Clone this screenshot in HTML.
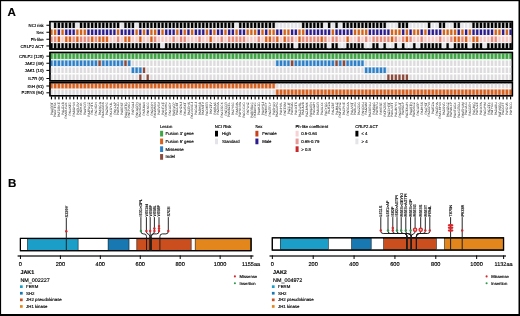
<!DOCTYPE html>
<html><head><meta charset="utf-8"><title>Figure</title>
<style>
html,body{margin:0;padding:0;background:#fff;}
body{width:520px;height:316px;overflow:hidden;position:relative;font-family:"Liberation Sans",sans-serif;}
svg{position:absolute;left:0;top:0;display:block;will-change:transform;}
svg text{text-rendering:geometricPrecision;font-family:"Liberation Sans",sans-serif;fill:#000;stroke:#000;stroke-width:0.15px;}
svg text.smp{stroke:none;fill:#111;}
</style></head>
<body>
<svg width="520" height="316" viewBox="0 0 520 316">
<rect x="0" y="0" width="520" height="316" fill="#fff"/>
<rect x="50.0" y="21.6" width="462.4" height="27.5" fill="#fff" stroke="#000" stroke-width="1.4"/>
<rect x="50.0" y="52.5" width="462.4" height="28.299999999999997" fill="#fff" stroke="#000" stroke-width="1.4"/>
<rect x="50.0" y="82.6" width="462.4" height="13.100000000000009" fill="#fff" stroke="#000" stroke-width="1.4"/>
<rect x="50.90" y="96.5" width="1.15" height="2.9" fill="#000"/>
<rect x="54.60" y="96.5" width="1.15" height="2.9" fill="#000"/>
<rect x="58.31" y="96.5" width="1.15" height="2.9" fill="#000"/>
<rect x="62.01" y="96.5" width="1.15" height="2.9" fill="#000"/>
<rect x="65.71" y="96.5" width="1.15" height="2.9" fill="#000"/>
<rect x="69.41" y="96.5" width="1.15" height="2.9" fill="#000"/>
<rect x="73.12" y="96.5" width="1.15" height="2.9" fill="#000"/>
<rect x="76.82" y="96.5" width="1.15" height="2.9" fill="#000"/>
<rect x="80.52" y="96.5" width="1.15" height="2.9" fill="#000"/>
<rect x="84.22" y="96.5" width="1.15" height="2.9" fill="#000"/>
<rect x="87.92" y="96.5" width="1.15" height="2.9" fill="#000"/>
<rect x="91.63" y="96.5" width="1.15" height="2.9" fill="#000"/>
<rect x="95.33" y="96.5" width="1.15" height="2.9" fill="#000"/>
<rect x="99.03" y="96.5" width="1.15" height="2.9" fill="#000"/>
<rect x="102.73" y="96.5" width="1.15" height="2.9" fill="#000"/>
<rect x="106.44" y="96.5" width="1.15" height="2.9" fill="#000"/>
<rect x="110.14" y="96.5" width="1.15" height="2.9" fill="#000"/>
<rect x="113.84" y="96.5" width="1.15" height="2.9" fill="#000"/>
<rect x="117.55" y="96.5" width="1.15" height="2.9" fill="#000"/>
<rect x="121.25" y="96.5" width="1.15" height="2.9" fill="#000"/>
<rect x="124.95" y="96.5" width="1.15" height="2.9" fill="#000"/>
<rect x="128.65" y="96.5" width="1.15" height="2.9" fill="#000"/>
<rect x="132.35" y="96.5" width="1.15" height="2.9" fill="#000"/>
<rect x="136.06" y="96.5" width="1.15" height="2.9" fill="#000"/>
<rect x="139.76" y="96.5" width="1.15" height="2.9" fill="#000"/>
<rect x="143.46" y="96.5" width="1.15" height="2.9" fill="#000"/>
<rect x="147.16" y="96.5" width="1.15" height="2.9" fill="#000"/>
<rect x="150.87" y="96.5" width="1.15" height="2.9" fill="#000"/>
<rect x="154.57" y="96.5" width="1.15" height="2.9" fill="#000"/>
<rect x="158.27" y="96.5" width="1.15" height="2.9" fill="#000"/>
<rect x="161.97" y="96.5" width="1.15" height="2.9" fill="#000"/>
<rect x="165.68" y="96.5" width="1.15" height="2.9" fill="#000"/>
<rect x="169.38" y="96.5" width="1.15" height="2.9" fill="#000"/>
<rect x="173.08" y="96.5" width="1.15" height="2.9" fill="#000"/>
<rect x="176.78" y="96.5" width="1.15" height="2.9" fill="#000"/>
<rect x="180.49" y="96.5" width="1.15" height="2.9" fill="#000"/>
<rect x="184.19" y="96.5" width="1.15" height="2.9" fill="#000"/>
<rect x="187.89" y="96.5" width="1.15" height="2.9" fill="#000"/>
<rect x="191.59" y="96.5" width="1.15" height="2.9" fill="#000"/>
<rect x="195.30" y="96.5" width="1.15" height="2.9" fill="#000"/>
<rect x="199.00" y="96.5" width="1.15" height="2.9" fill="#000"/>
<rect x="202.70" y="96.5" width="1.15" height="2.9" fill="#000"/>
<rect x="206.40" y="96.5" width="1.15" height="2.9" fill="#000"/>
<rect x="210.11" y="96.5" width="1.15" height="2.9" fill="#000"/>
<rect x="213.81" y="96.5" width="1.15" height="2.9" fill="#000"/>
<rect x="217.51" y="96.5" width="1.15" height="2.9" fill="#000"/>
<rect x="221.21" y="96.5" width="1.15" height="2.9" fill="#000"/>
<rect x="224.92" y="96.5" width="1.15" height="2.9" fill="#000"/>
<rect x="228.62" y="96.5" width="1.15" height="2.9" fill="#000"/>
<rect x="232.32" y="96.5" width="1.15" height="2.9" fill="#000"/>
<rect x="236.02" y="96.5" width="1.15" height="2.9" fill="#000"/>
<rect x="239.73" y="96.5" width="1.15" height="2.9" fill="#000"/>
<rect x="243.43" y="96.5" width="1.15" height="2.9" fill="#000"/>
<rect x="247.13" y="96.5" width="1.15" height="2.9" fill="#000"/>
<rect x="250.83" y="96.5" width="1.15" height="2.9" fill="#000"/>
<rect x="254.54" y="96.5" width="1.15" height="2.9" fill="#000"/>
<rect x="258.24" y="96.5" width="1.15" height="2.9" fill="#000"/>
<rect x="261.94" y="96.5" width="1.15" height="2.9" fill="#000"/>
<rect x="265.64" y="96.5" width="1.15" height="2.9" fill="#000"/>
<rect x="269.35" y="96.5" width="1.15" height="2.9" fill="#000"/>
<rect x="273.05" y="96.5" width="1.15" height="2.9" fill="#000"/>
<rect x="276.75" y="96.5" width="1.15" height="2.9" fill="#000"/>
<rect x="280.45" y="96.5" width="1.15" height="2.9" fill="#000"/>
<rect x="284.16" y="96.5" width="1.15" height="2.9" fill="#000"/>
<rect x="287.86" y="96.5" width="1.15" height="2.9" fill="#000"/>
<rect x="291.56" y="96.5" width="1.15" height="2.9" fill="#000"/>
<rect x="295.26" y="96.5" width="1.15" height="2.9" fill="#000"/>
<rect x="298.97" y="96.5" width="1.15" height="2.9" fill="#000"/>
<rect x="302.67" y="96.5" width="1.15" height="2.9" fill="#000"/>
<rect x="306.37" y="96.5" width="1.15" height="2.9" fill="#000"/>
<rect x="310.07" y="96.5" width="1.15" height="2.9" fill="#000"/>
<rect x="313.78" y="96.5" width="1.15" height="2.9" fill="#000"/>
<rect x="317.48" y="96.5" width="1.15" height="2.9" fill="#000"/>
<rect x="321.18" y="96.5" width="1.15" height="2.9" fill="#000"/>
<rect x="324.88" y="96.5" width="1.15" height="2.9" fill="#000"/>
<rect x="328.59" y="96.5" width="1.15" height="2.9" fill="#000"/>
<rect x="332.29" y="96.5" width="1.15" height="2.9" fill="#000"/>
<rect x="335.99" y="96.5" width="1.15" height="2.9" fill="#000"/>
<rect x="339.69" y="96.5" width="1.15" height="2.9" fill="#000"/>
<rect x="343.40" y="96.5" width="1.15" height="2.9" fill="#000"/>
<rect x="347.10" y="96.5" width="1.15" height="2.9" fill="#000"/>
<rect x="350.80" y="96.5" width="1.15" height="2.9" fill="#000"/>
<rect x="354.50" y="96.5" width="1.15" height="2.9" fill="#000"/>
<rect x="358.21" y="96.5" width="1.15" height="2.9" fill="#000"/>
<rect x="361.91" y="96.5" width="1.15" height="2.9" fill="#000"/>
<rect x="365.61" y="96.5" width="1.15" height="2.9" fill="#000"/>
<rect x="369.31" y="96.5" width="1.15" height="2.9" fill="#000"/>
<rect x="373.02" y="96.5" width="1.15" height="2.9" fill="#000"/>
<rect x="376.72" y="96.5" width="1.15" height="2.9" fill="#000"/>
<rect x="380.42" y="96.5" width="1.15" height="2.9" fill="#000"/>
<rect x="384.12" y="96.5" width="1.15" height="2.9" fill="#000"/>
<rect x="387.83" y="96.5" width="1.15" height="2.9" fill="#000"/>
<rect x="391.53" y="96.5" width="1.15" height="2.9" fill="#000"/>
<rect x="395.23" y="96.5" width="1.15" height="2.9" fill="#000"/>
<rect x="398.94" y="96.5" width="1.15" height="2.9" fill="#000"/>
<rect x="402.64" y="96.5" width="1.15" height="2.9" fill="#000"/>
<rect x="406.34" y="96.5" width="1.15" height="2.9" fill="#000"/>
<rect x="410.04" y="96.5" width="1.15" height="2.9" fill="#000"/>
<rect x="413.75" y="96.5" width="1.15" height="2.9" fill="#000"/>
<rect x="417.45" y="96.5" width="1.15" height="2.9" fill="#000"/>
<rect x="421.15" y="96.5" width="1.15" height="2.9" fill="#000"/>
<rect x="424.85" y="96.5" width="1.15" height="2.9" fill="#000"/>
<rect x="428.56" y="96.5" width="1.15" height="2.9" fill="#000"/>
<rect x="432.26" y="96.5" width="1.15" height="2.9" fill="#000"/>
<rect x="435.96" y="96.5" width="1.15" height="2.9" fill="#000"/>
<rect x="439.66" y="96.5" width="1.15" height="2.9" fill="#000"/>
<rect x="443.37" y="96.5" width="1.15" height="2.9" fill="#000"/>
<rect x="447.07" y="96.5" width="1.15" height="2.9" fill="#000"/>
<rect x="450.77" y="96.5" width="1.15" height="2.9" fill="#000"/>
<rect x="454.47" y="96.5" width="1.15" height="2.9" fill="#000"/>
<rect x="458.18" y="96.5" width="1.15" height="2.9" fill="#000"/>
<rect x="461.88" y="96.5" width="1.15" height="2.9" fill="#000"/>
<rect x="465.58" y="96.5" width="1.15" height="2.9" fill="#000"/>
<rect x="469.28" y="96.5" width="1.15" height="2.9" fill="#000"/>
<rect x="472.99" y="96.5" width="1.15" height="2.9" fill="#000"/>
<rect x="476.69" y="96.5" width="1.15" height="2.9" fill="#000"/>
<rect x="480.39" y="96.5" width="1.15" height="2.9" fill="#000"/>
<rect x="484.09" y="96.5" width="1.15" height="2.9" fill="#000"/>
<rect x="487.80" y="96.5" width="1.15" height="2.9" fill="#000"/>
<rect x="491.50" y="96.5" width="1.15" height="2.9" fill="#000"/>
<rect x="495.20" y="96.5" width="1.15" height="2.9" fill="#000"/>
<rect x="498.90" y="96.5" width="1.15" height="2.9" fill="#000"/>
<rect x="502.61" y="96.5" width="1.15" height="2.9" fill="#000"/>
<rect x="506.31" y="96.5" width="1.15" height="2.9" fill="#000"/>
<rect x="510.01" y="96.5" width="1.15" height="2.9" fill="#000"/>
<rect x="49.3" y="81.4" width="463.8" height="0.7" fill="#5a5a5a"/>
<g><rect x="49.60" y="22.15" width="3.703" height="6.20" fill="#e3e3e8" opacity="0.22"/><rect x="49.60" y="29.15" width="3.703" height="6.20" fill="#d2631c" opacity="0.15"/><rect x="49.60" y="36.15" width="3.703" height="6.20" fill="#e78c7c" opacity="0.2"/><rect x="49.60" y="42.85" width="3.703" height="6.20" fill="#000000" opacity="0.22"/><rect x="53.30" y="22.15" width="3.703" height="6.20" fill="#000000" opacity="0.22"/><rect x="53.30" y="29.15" width="3.703" height="6.20" fill="#d2631c" opacity="0.15"/><rect x="53.30" y="36.15" width="3.703" height="6.20" fill="#e78c7c" opacity="0.2"/><rect x="53.30" y="42.85" width="3.703" height="6.20" fill="#000000" opacity="0.22"/><rect x="57.00" y="22.15" width="3.703" height="6.20" fill="#000000" opacity="0.22"/><rect x="57.00" y="29.15" width="3.703" height="6.20" fill="#2b1b8c" opacity="0.15"/><rect x="57.00" y="36.15" width="3.703" height="6.20" fill="#db5f1c" opacity="0.2"/><rect x="57.00" y="42.85" width="3.703" height="6.20" fill="#000000" opacity="0.22"/><rect x="60.71" y="22.15" width="3.703" height="6.20" fill="#000000" opacity="0.22"/><rect x="60.71" y="29.15" width="3.703" height="6.20" fill="#d2631c" opacity="0.15"/><rect x="60.71" y="36.15" width="3.703" height="6.20" fill="#f6c9c5" opacity="0.2"/><rect x="60.71" y="42.85" width="3.703" height="6.20" fill="#000000" opacity="0.22"/><rect x="64.41" y="22.15" width="3.703" height="6.20" fill="#000000" opacity="0.22"/><rect x="64.41" y="29.15" width="3.703" height="6.20" fill="#2b1b8c" opacity="0.15"/><rect x="64.41" y="36.15" width="3.703" height="6.20" fill="#db5f1c" opacity="0.2"/><rect x="64.41" y="42.85" width="3.703" height="6.20" fill="#000000" opacity="0.22"/><rect x="68.11" y="22.15" width="3.703" height="6.20" fill="#000000" opacity="0.22"/><rect x="68.11" y="29.15" width="3.703" height="6.20" fill="#2b1b8c" opacity="0.15"/><rect x="68.11" y="36.15" width="3.703" height="6.20" fill="#db5f1c" opacity="0.2"/><rect x="68.11" y="42.85" width="3.703" height="6.20" fill="#000000" opacity="0.22"/><rect x="71.81" y="22.15" width="3.703" height="6.20" fill="#000000" opacity="0.22"/><rect x="71.81" y="29.15" width="3.703" height="6.20" fill="#2b1b8c" opacity="0.15"/><rect x="71.81" y="36.15" width="3.703" height="6.20" fill="#e78c7c" opacity="0.2"/><rect x="71.81" y="42.85" width="3.703" height="6.20" fill="#000000" opacity="0.22"/><rect x="75.52" y="22.15" width="3.703" height="6.20" fill="#e3e3e8" opacity="0.22"/><rect x="75.52" y="29.15" width="3.703" height="6.20" fill="#d2631c" opacity="0.15"/><rect x="75.52" y="36.15" width="3.703" height="6.20" fill="#db5f1c" opacity="0.2"/><rect x="75.52" y="42.85" width="3.703" height="6.20" fill="#000000" opacity="0.22"/><rect x="79.22" y="22.15" width="3.703" height="6.20" fill="#000000" opacity="0.22"/><rect x="79.22" y="29.15" width="3.703" height="6.20" fill="#d2631c" opacity="0.15"/><rect x="79.22" y="36.15" width="3.703" height="6.20" fill="#e78c7c" opacity="0.2"/><rect x="79.22" y="42.85" width="3.703" height="6.20" fill="#000000" opacity="0.22"/><rect x="82.92" y="22.15" width="3.703" height="6.20" fill="#000000" opacity="0.22"/><rect x="82.92" y="29.15" width="3.703" height="6.20" fill="#d2631c" opacity="0.15"/><rect x="82.92" y="36.15" width="3.703" height="6.20" fill="#e78c7c" opacity="0.2"/><rect x="82.92" y="42.85" width="3.703" height="6.20" fill="#000000" opacity="0.22"/><rect x="86.62" y="22.15" width="3.703" height="6.20" fill="#000000" opacity="0.22"/><rect x="86.62" y="29.15" width="3.703" height="6.20" fill="#2b1b8c" opacity="0.15"/><rect x="86.62" y="36.15" width="3.703" height="6.20" fill="#e78c7c" opacity="0.2"/><rect x="86.62" y="42.85" width="3.703" height="6.20" fill="#000000" opacity="0.22"/><rect x="90.33" y="22.15" width="3.703" height="6.20" fill="#000000" opacity="0.22"/><rect x="90.33" y="29.15" width="3.703" height="6.20" fill="#2b1b8c" opacity="0.15"/><rect x="90.33" y="36.15" width="3.703" height="6.20" fill="#db5f1c" opacity="0.2"/><rect x="90.33" y="42.85" width="3.703" height="6.20" fill="#000000" opacity="0.22"/><rect x="94.03" y="22.15" width="3.703" height="6.20" fill="#000000" opacity="0.22"/><rect x="94.03" y="29.15" width="3.703" height="6.20" fill="#2b1b8c" opacity="0.15"/><rect x="94.03" y="36.15" width="3.703" height="6.20" fill="#e78c7c" opacity="0.2"/><rect x="94.03" y="42.85" width="3.703" height="6.20" fill="#000000" opacity="0.22"/><rect x="97.73" y="22.15" width="3.703" height="6.20" fill="#000000" opacity="0.22"/><rect x="97.73" y="29.15" width="3.703" height="6.20" fill="#2b1b8c" opacity="0.15"/><rect x="97.73" y="36.15" width="3.703" height="6.20" fill="#db5f1c" opacity="0.2"/><rect x="97.73" y="42.85" width="3.703" height="6.20" fill="#000000" opacity="0.22"/><rect x="101.43" y="22.15" width="3.703" height="6.20" fill="#000000" opacity="0.22"/><rect x="101.43" y="29.15" width="3.703" height="6.20" fill="#2b1b8c" opacity="0.15"/><rect x="101.43" y="36.15" width="3.703" height="6.20" fill="#db5f1c" opacity="0.2"/><rect x="101.43" y="42.85" width="3.703" height="6.20" fill="#000000" opacity="0.22"/><rect x="105.14" y="22.15" width="3.703" height="6.20" fill="#000000" opacity="0.22"/><rect x="105.14" y="29.15" width="3.703" height="6.20" fill="#2b1b8c" opacity="0.15"/><rect x="105.14" y="36.15" width="3.703" height="6.20" fill="#db5f1c" opacity="0.2"/><rect x="105.14" y="42.85" width="3.703" height="6.20" fill="#000000" opacity="0.22"/><rect x="108.84" y="22.15" width="3.703" height="6.20" fill="#000000" opacity="0.22"/><rect x="108.84" y="29.15" width="3.703" height="6.20" fill="#2b1b8c" opacity="0.15"/><rect x="108.84" y="36.15" width="3.703" height="6.20" fill="#f6c9c5" opacity="0.2"/><rect x="108.84" y="42.85" width="3.703" height="6.20" fill="#000000" opacity="0.22"/><rect x="112.54" y="22.15" width="3.703" height="6.20" fill="#000000" opacity="0.22"/><rect x="112.54" y="29.15" width="3.703" height="6.20" fill="#2b1b8c" opacity="0.15"/><rect x="112.54" y="36.15" width="3.703" height="6.20" fill="#f6c9c5" opacity="0.2"/><rect x="112.54" y="42.85" width="3.703" height="6.20" fill="#000000" opacity="0.22"/><rect x="116.24" y="22.15" width="3.703" height="6.20" fill="#000000" opacity="0.22"/><rect x="116.24" y="29.15" width="3.703" height="6.20" fill="#d2631c" opacity="0.15"/><rect x="116.24" y="36.15" width="3.703" height="6.20" fill="#e78c7c" opacity="0.2"/><rect x="116.24" y="42.85" width="3.703" height="6.20" fill="#000000" opacity="0.22"/><rect x="119.95" y="22.15" width="3.703" height="6.20" fill="#e3e3e8" opacity="0.22"/><rect x="119.95" y="29.15" width="3.703" height="6.20" fill="#2b1b8c" opacity="0.15"/><rect x="119.95" y="36.15" width="3.703" height="6.20" fill="#f6c9c5" opacity="0.2"/><rect x="119.95" y="42.85" width="3.703" height="6.20" fill="#000000" opacity="0.22"/><rect x="123.65" y="22.15" width="3.703" height="6.20" fill="#000000" opacity="0.22"/><rect x="123.65" y="29.15" width="3.703" height="6.20" fill="#2b1b8c" opacity="0.15"/><rect x="123.65" y="36.15" width="3.703" height="6.20" fill="#db5f1c" opacity="0.2"/><rect x="123.65" y="42.85" width="3.703" height="6.20" fill="#000000" opacity="0.22"/><rect x="127.35" y="22.15" width="3.703" height="6.20" fill="#000000" opacity="0.22"/><rect x="127.35" y="29.15" width="3.703" height="6.20" fill="#2b1b8c" opacity="0.15"/><rect x="127.35" y="36.15" width="3.703" height="6.20" fill="#db5f1c" opacity="0.2"/><rect x="127.35" y="42.85" width="3.703" height="6.20" fill="#000000" opacity="0.22"/><rect x="131.05" y="22.15" width="3.703" height="6.20" fill="#000000" opacity="0.22"/><rect x="131.05" y="29.15" width="3.703" height="6.20" fill="#2b1b8c" opacity="0.15"/><rect x="131.05" y="36.15" width="3.703" height="6.20" fill="#f6c9c5" opacity="0.2"/><rect x="131.05" y="42.85" width="3.703" height="6.20" fill="#000000" opacity="0.22"/><rect x="134.76" y="22.15" width="3.703" height="6.20" fill="#e3e3e8" opacity="0.22"/><rect x="134.76" y="29.15" width="3.703" height="6.20" fill="#d2631c" opacity="0.15"/><rect x="134.76" y="36.15" width="3.703" height="6.20" fill="#f6c9c5" opacity="0.2"/><rect x="134.76" y="42.85" width="3.703" height="6.20" fill="#000000" opacity="0.22"/><rect x="138.46" y="22.15" width="3.703" height="6.20" fill="#000000" opacity="0.22"/><rect x="138.46" y="29.15" width="3.703" height="6.20" fill="#2b1b8c" opacity="0.15"/><rect x="138.46" y="36.15" width="3.703" height="6.20" fill="#db5f1c" opacity="0.2"/><rect x="138.46" y="42.85" width="3.703" height="6.20" fill="#000000" opacity="0.22"/><rect x="142.16" y="22.15" width="3.703" height="6.20" fill="#000000" opacity="0.22"/><rect x="142.16" y="29.15" width="3.703" height="6.20" fill="#d2631c" opacity="0.15"/><rect x="142.16" y="36.15" width="3.703" height="6.20" fill="#f6c9c5" opacity="0.2"/><rect x="142.16" y="42.85" width="3.703" height="6.20" fill="#000000" opacity="0.22"/><rect x="145.86" y="22.15" width="3.703" height="6.20" fill="#000000" opacity="0.22"/><rect x="145.86" y="29.15" width="3.703" height="6.20" fill="#2b1b8c" opacity="0.15"/><rect x="145.86" y="36.15" width="3.703" height="6.20" fill="#f6c9c5" opacity="0.2"/><rect x="145.86" y="42.85" width="3.703" height="6.20" fill="#000000" opacity="0.22"/><rect x="149.57" y="22.15" width="3.703" height="6.20" fill="#000000" opacity="0.22"/><rect x="149.57" y="29.15" width="3.703" height="6.20" fill="#d2631c" opacity="0.15"/><rect x="149.57" y="36.15" width="3.703" height="6.20" fill="#db5f1c" opacity="0.2"/><rect x="149.57" y="42.85" width="3.703" height="6.20" fill="#000000" opacity="0.22"/><rect x="153.27" y="22.15" width="3.703" height="6.20" fill="#000000" opacity="0.22"/><rect x="153.27" y="29.15" width="3.703" height="6.20" fill="#d2631c" opacity="0.15"/><rect x="153.27" y="36.15" width="3.703" height="6.20" fill="#e78c7c" opacity="0.2"/><rect x="153.27" y="42.85" width="3.703" height="6.20" fill="#000000" opacity="0.22"/><rect x="156.97" y="22.15" width="3.703" height="6.20" fill="#000000" opacity="0.22"/><rect x="156.97" y="29.15" width="3.703" height="6.20" fill="#2b1b8c" opacity="0.15"/><rect x="156.97" y="36.15" width="3.703" height="6.20" fill="#f6c9c5" opacity="0.2"/><rect x="156.97" y="42.85" width="3.703" height="6.20" fill="#000000" opacity="0.22"/><rect x="160.67" y="22.15" width="3.703" height="6.20" fill="#000000" opacity="0.22"/><rect x="160.67" y="29.15" width="3.703" height="6.20" fill="#d2631c" opacity="0.15"/><rect x="160.67" y="36.15" width="3.703" height="6.20" fill="#f6c9c5" opacity="0.2"/><rect x="160.67" y="42.85" width="3.703" height="6.20" fill="#e3e3e8" opacity="0.22"/><rect x="164.38" y="22.15" width="3.703" height="6.20" fill="#000000" opacity="0.22"/><rect x="164.38" y="29.15" width="3.703" height="6.20" fill="#2b1b8c" opacity="0.15"/><rect x="164.38" y="36.15" width="3.703" height="6.20" fill="#f6c9c5" opacity="0.2"/><rect x="164.38" y="42.85" width="3.703" height="6.20" fill="#000000" opacity="0.22"/><rect x="168.08" y="22.15" width="3.703" height="6.20" fill="#000000" opacity="0.22"/><rect x="168.08" y="29.15" width="3.703" height="6.20" fill="#2b1b8c" opacity="0.15"/><rect x="168.08" y="36.15" width="3.703" height="6.20" fill="#f6c9c5" opacity="0.2"/><rect x="168.08" y="42.85" width="3.703" height="6.20" fill="#000000" opacity="0.22"/><rect x="171.78" y="22.15" width="3.703" height="6.20" fill="#000000" opacity="0.22"/><rect x="171.78" y="29.15" width="3.703" height="6.20" fill="#2b1b8c" opacity="0.15"/><rect x="171.78" y="36.15" width="3.703" height="6.20" fill="#e78c7c" opacity="0.2"/><rect x="171.78" y="42.85" width="3.703" height="6.20" fill="#000000" opacity="0.22"/><rect x="175.48" y="22.15" width="3.703" height="6.20" fill="#000000" opacity="0.22"/><rect x="175.48" y="29.15" width="3.703" height="6.20" fill="#d2631c" opacity="0.15"/><rect x="175.48" y="36.15" width="3.703" height="6.20" fill="#f6c9c5" opacity="0.2"/><rect x="175.48" y="42.85" width="3.703" height="6.20" fill="#000000" opacity="0.22"/><rect x="179.19" y="22.15" width="3.703" height="6.20" fill="#000000" opacity="0.22"/><rect x="179.19" y="29.15" width="3.703" height="6.20" fill="#2b1b8c" opacity="0.15"/><rect x="179.19" y="36.15" width="3.703" height="6.20" fill="#e78c7c" opacity="0.2"/><rect x="179.19" y="42.85" width="3.703" height="6.20" fill="#000000" opacity="0.22"/><rect x="182.89" y="22.15" width="3.703" height="6.20" fill="#000000" opacity="0.22"/><rect x="182.89" y="29.15" width="3.703" height="6.20" fill="#d2631c" opacity="0.15"/><rect x="182.89" y="36.15" width="3.703" height="6.20" fill="#e78c7c" opacity="0.2"/><rect x="182.89" y="42.85" width="3.703" height="6.20" fill="#000000" opacity="0.22"/><rect x="186.59" y="22.15" width="3.703" height="6.20" fill="#000000" opacity="0.22"/><rect x="186.59" y="29.15" width="3.703" height="6.20" fill="#2b1b8c" opacity="0.15"/><rect x="186.59" y="36.15" width="3.703" height="6.20" fill="#f6c9c5" opacity="0.2"/><rect x="186.59" y="42.85" width="3.703" height="6.20" fill="#000000" opacity="0.22"/><rect x="190.29" y="22.15" width="3.703" height="6.20" fill="#000000" opacity="0.22"/><rect x="190.29" y="29.15" width="3.703" height="6.20" fill="#d2631c" opacity="0.15"/><rect x="190.29" y="36.15" width="3.703" height="6.20" fill="#f6c9c5" opacity="0.2"/><rect x="190.29" y="42.85" width="3.703" height="6.20" fill="#000000" opacity="0.22"/><rect x="194.00" y="22.15" width="3.703" height="6.20" fill="#000000" opacity="0.22"/><rect x="194.00" y="29.15" width="3.703" height="6.20" fill="#2b1b8c" opacity="0.15"/><rect x="194.00" y="36.15" width="3.703" height="6.20" fill="#f6c9c5" opacity="0.2"/><rect x="194.00" y="42.85" width="3.703" height="6.20" fill="#000000" opacity="0.22"/><rect x="197.70" y="22.15" width="3.703" height="6.20" fill="#000000" opacity="0.22"/><rect x="197.70" y="29.15" width="3.703" height="6.20" fill="#2b1b8c" opacity="0.15"/><rect x="197.70" y="36.15" width="3.703" height="6.20" fill="#e78c7c" opacity="0.2"/><rect x="197.70" y="42.85" width="3.703" height="6.20" fill="#000000" opacity="0.22"/><rect x="201.40" y="22.15" width="3.703" height="6.20" fill="#000000" opacity="0.22"/><rect x="201.40" y="29.15" width="3.703" height="6.20" fill="#2b1b8c" opacity="0.15"/><rect x="201.40" y="36.15" width="3.703" height="6.20" fill="#f6c9c5" opacity="0.2"/><rect x="201.40" y="42.85" width="3.703" height="6.20" fill="#000000" opacity="0.22"/><rect x="205.10" y="22.15" width="3.703" height="6.20" fill="#000000" opacity="0.22"/><rect x="205.10" y="29.15" width="3.703" height="6.20" fill="#d2631c" opacity="0.15"/><rect x="205.10" y="36.15" width="3.703" height="6.20" fill="#f6c9c5" opacity="0.2"/><rect x="205.10" y="42.85" width="3.703" height="6.20" fill="#000000" opacity="0.22"/><rect x="208.81" y="22.15" width="3.703" height="6.20" fill="#000000" opacity="0.22"/><rect x="208.81" y="29.15" width="3.703" height="6.20" fill="#2b1b8c" opacity="0.15"/><rect x="208.81" y="36.15" width="3.703" height="6.20" fill="#db5f1c" opacity="0.2"/><rect x="208.81" y="42.85" width="3.703" height="6.20" fill="#000000" opacity="0.22"/><rect x="212.51" y="22.15" width="3.703" height="6.20" fill="#000000" opacity="0.22"/><rect x="212.51" y="29.15" width="3.703" height="6.20" fill="#d2631c" opacity="0.15"/><rect x="212.51" y="36.15" width="3.703" height="6.20" fill="#f6c9c5" opacity="0.2"/><rect x="212.51" y="42.85" width="3.703" height="6.20" fill="#000000" opacity="0.22"/><rect x="216.21" y="22.15" width="3.703" height="6.20" fill="#000000" opacity="0.22"/><rect x="216.21" y="29.15" width="3.703" height="6.20" fill="#2b1b8c" opacity="0.15"/><rect x="216.21" y="36.15" width="3.703" height="6.20" fill="#f6c9c5" opacity="0.2"/><rect x="216.21" y="42.85" width="3.703" height="6.20" fill="#000000" opacity="0.22"/><rect x="219.91" y="22.15" width="3.703" height="6.20" fill="#000000" opacity="0.22"/><rect x="219.91" y="29.15" width="3.703" height="6.20" fill="#2b1b8c" opacity="0.15"/><rect x="219.91" y="36.15" width="3.703" height="6.20" fill="#e78c7c" opacity="0.2"/><rect x="219.91" y="42.85" width="3.703" height="6.20" fill="#000000" opacity="0.22"/><rect x="223.62" y="22.15" width="3.703" height="6.20" fill="#000000" opacity="0.22"/><rect x="223.62" y="29.15" width="3.703" height="6.20" fill="#d2631c" opacity="0.15"/><rect x="223.62" y="36.15" width="3.703" height="6.20" fill="#f6c9c5" opacity="0.2"/><rect x="223.62" y="42.85" width="3.703" height="6.20" fill="#000000" opacity="0.22"/><rect x="227.32" y="22.15" width="3.703" height="6.20" fill="#000000" opacity="0.22"/><rect x="227.32" y="29.15" width="3.703" height="6.20" fill="#2b1b8c" opacity="0.15"/><rect x="227.32" y="36.15" width="3.703" height="6.20" fill="#e78c7c" opacity="0.2"/><rect x="227.32" y="42.85" width="3.703" height="6.20" fill="#000000" opacity="0.22"/><rect x="231.02" y="22.15" width="3.703" height="6.20" fill="#000000" opacity="0.22"/><rect x="231.02" y="29.15" width="3.703" height="6.20" fill="#2b1b8c" opacity="0.15"/><rect x="231.02" y="36.15" width="3.703" height="6.20" fill="#e78c7c" opacity="0.2"/><rect x="231.02" y="42.85" width="3.703" height="6.20" fill="#000000" opacity="0.22"/><rect x="234.72" y="22.15" width="3.703" height="6.20" fill="#e3e3e8" opacity="0.22"/><rect x="234.72" y="29.15" width="3.703" height="6.20" fill="#d2631c" opacity="0.15"/><rect x="234.72" y="36.15" width="3.703" height="6.20" fill="#e78c7c" opacity="0.2"/><rect x="234.72" y="42.85" width="3.703" height="6.20" fill="#000000" opacity="0.22"/><rect x="238.43" y="22.15" width="3.703" height="6.20" fill="#000000" opacity="0.22"/><rect x="238.43" y="29.15" width="3.703" height="6.20" fill="#2b1b8c" opacity="0.15"/><rect x="238.43" y="36.15" width="3.703" height="6.20" fill="#e78c7c" opacity="0.2"/><rect x="238.43" y="42.85" width="3.703" height="6.20" fill="#000000" opacity="0.22"/><rect x="242.13" y="22.15" width="3.703" height="6.20" fill="#000000" opacity="0.22"/><rect x="242.13" y="29.15" width="3.703" height="6.20" fill="#2b1b8c" opacity="0.15"/><rect x="242.13" y="36.15" width="3.703" height="6.20" fill="#e78c7c" opacity="0.2"/><rect x="242.13" y="42.85" width="3.703" height="6.20" fill="#000000" opacity="0.22"/><rect x="245.83" y="22.15" width="3.703" height="6.20" fill="#000000" opacity="0.22"/><rect x="245.83" y="29.15" width="3.703" height="6.20" fill="#d2631c" opacity="0.15"/><rect x="245.83" y="36.15" width="3.703" height="6.20" fill="#f6c9c5" opacity="0.2"/><rect x="245.83" y="42.85" width="3.703" height="6.20" fill="#000000" opacity="0.22"/><rect x="249.53" y="22.15" width="3.703" height="6.20" fill="#000000" opacity="0.22"/><rect x="249.53" y="29.15" width="3.703" height="6.20" fill="#d2631c" opacity="0.15"/><rect x="249.53" y="36.15" width="3.703" height="6.20" fill="#f6c9c5" opacity="0.2"/><rect x="249.53" y="42.85" width="3.703" height="6.20" fill="#000000" opacity="0.22"/><rect x="253.24" y="22.15" width="3.703" height="6.20" fill="#000000" opacity="0.22"/><rect x="253.24" y="29.15" width="3.703" height="6.20" fill="#d2631c" opacity="0.15"/><rect x="253.24" y="36.15" width="3.703" height="6.20" fill="#f6c9c5" opacity="0.2"/><rect x="253.24" y="42.85" width="3.703" height="6.20" fill="#000000" opacity="0.22"/><rect x="256.94" y="22.15" width="3.703" height="6.20" fill="#000000" opacity="0.22"/><rect x="256.94" y="29.15" width="3.703" height="6.20" fill="#2b1b8c" opacity="0.15"/><rect x="256.94" y="36.15" width="3.703" height="6.20" fill="#e78c7c" opacity="0.2"/><rect x="256.94" y="42.85" width="3.703" height="6.20" fill="#000000" opacity="0.22"/><rect x="260.64" y="22.15" width="3.703" height="6.20" fill="#000000" opacity="0.22"/><rect x="260.64" y="29.15" width="3.703" height="6.20" fill="#d2631c" opacity="0.15"/><rect x="260.64" y="36.15" width="3.703" height="6.20" fill="#f6c9c5" opacity="0.2"/><rect x="260.64" y="42.85" width="3.703" height="6.20" fill="#000000" opacity="0.22"/><rect x="264.34" y="22.15" width="3.703" height="6.20" fill="#000000" opacity="0.22"/><rect x="264.34" y="29.15" width="3.703" height="6.20" fill="#2b1b8c" opacity="0.15"/><rect x="264.34" y="36.15" width="3.703" height="6.20" fill="#db5f1c" opacity="0.2"/><rect x="264.34" y="42.85" width="3.703" height="6.20" fill="#000000" opacity="0.22"/><rect x="268.05" y="22.15" width="3.703" height="6.20" fill="#000000" opacity="0.22"/><rect x="268.05" y="29.15" width="3.703" height="6.20" fill="#d2631c" opacity="0.15"/><rect x="268.05" y="36.15" width="3.703" height="6.20" fill="#db5f1c" opacity="0.2"/><rect x="268.05" y="42.85" width="3.703" height="6.20" fill="#000000" opacity="0.22"/><rect x="271.75" y="22.15" width="3.703" height="6.20" fill="#000000" opacity="0.22"/><rect x="271.75" y="29.15" width="3.703" height="6.20" fill="#d2631c" opacity="0.15"/><rect x="271.75" y="36.15" width="3.703" height="6.20" fill="#e78c7c" opacity="0.2"/><rect x="271.75" y="42.85" width="3.703" height="6.20" fill="#000000" opacity="0.22"/><rect x="275.45" y="22.15" width="3.703" height="6.20" fill="#e3e3e8" opacity="0.22"/><rect x="275.45" y="29.15" width="3.703" height="6.20" fill="#2b1b8c" opacity="0.15"/><rect x="275.45" y="36.15" width="3.703" height="6.20" fill="#db5f1c" opacity="0.2"/><rect x="275.45" y="42.85" width="3.703" height="6.20" fill="#000000" opacity="0.22"/><rect x="279.15" y="22.15" width="3.703" height="6.20" fill="#e3e3e8" opacity="0.22"/><rect x="279.15" y="29.15" width="3.703" height="6.20" fill="#2b1b8c" opacity="0.15"/><rect x="279.15" y="36.15" width="3.703" height="6.20" fill="#f6c9c5" opacity="0.2"/><rect x="279.15" y="42.85" width="3.703" height="6.20" fill="#000000" opacity="0.22"/><rect x="282.86" y="22.15" width="3.703" height="6.20" fill="#e3e3e8" opacity="0.22"/><rect x="282.86" y="29.15" width="3.703" height="6.20" fill="#d2631c" opacity="0.15"/><rect x="282.86" y="36.15" width="3.703" height="6.20" fill="#db5f1c" opacity="0.2"/><rect x="282.86" y="42.85" width="3.703" height="6.20" fill="#000000" opacity="0.22"/><rect x="286.56" y="22.15" width="3.703" height="6.20" fill="#e3e3e8" opacity="0.22"/><rect x="286.56" y="29.15" width="3.703" height="6.20" fill="#d2631c" opacity="0.15"/><rect x="286.56" y="36.15" width="3.703" height="6.20" fill="#e78c7c" opacity="0.2"/><rect x="286.56" y="42.85" width="3.703" height="6.20" fill="#000000" opacity="0.22"/><rect x="290.26" y="22.15" width="3.703" height="6.20" fill="#e3e3e8" opacity="0.22"/><rect x="290.26" y="29.15" width="3.703" height="6.20" fill="#2b1b8c" opacity="0.15"/><rect x="290.26" y="36.15" width="3.703" height="6.20" fill="#e78c7c" opacity="0.2"/><rect x="290.26" y="42.85" width="3.703" height="6.20" fill="#000000" opacity="0.22"/><rect x="293.96" y="22.15" width="3.703" height="6.20" fill="#e3e3e8" opacity="0.22"/><rect x="293.96" y="29.15" width="3.703" height="6.20" fill="#2b1b8c" opacity="0.15"/><rect x="293.96" y="36.15" width="3.703" height="6.20" fill="#f6c9c5" opacity="0.2"/><rect x="293.96" y="42.85" width="3.703" height="6.20" fill="#e3e3e8" opacity="0.22"/><rect x="297.67" y="22.15" width="3.703" height="6.20" fill="#e3e3e8" opacity="0.22"/><rect x="297.67" y="29.15" width="3.703" height="6.20" fill="#d2631c" opacity="0.15"/><rect x="297.67" y="36.15" width="3.703" height="6.20" fill="#db5f1c" opacity="0.2"/><rect x="297.67" y="42.85" width="3.703" height="6.20" fill="#000000" opacity="0.22"/><rect x="301.37" y="22.15" width="3.703" height="6.20" fill="#000000" opacity="0.22"/><rect x="301.37" y="29.15" width="3.703" height="6.20" fill="#d2631c" opacity="0.15"/><rect x="301.37" y="36.15" width="3.703" height="6.20" fill="#e78c7c" opacity="0.2"/><rect x="301.37" y="42.85" width="3.703" height="6.20" fill="#000000" opacity="0.22"/><rect x="305.07" y="22.15" width="3.703" height="6.20" fill="#000000" opacity="0.22"/><rect x="305.07" y="29.15" width="3.703" height="6.20" fill="#2b1b8c" opacity="0.15"/><rect x="305.07" y="36.15" width="3.703" height="6.20" fill="#e78c7c" opacity="0.2"/><rect x="305.07" y="42.85" width="3.703" height="6.20" fill="#000000" opacity="0.22"/><rect x="308.77" y="22.15" width="3.703" height="6.20" fill="#000000" opacity="0.22"/><rect x="308.77" y="29.15" width="3.703" height="6.20" fill="#2b1b8c" opacity="0.15"/><rect x="308.77" y="36.15" width="3.703" height="6.20" fill="#e78c7c" opacity="0.2"/><rect x="308.77" y="42.85" width="3.703" height="6.20" fill="#000000" opacity="0.22"/><rect x="312.48" y="22.15" width="3.703" height="6.20" fill="#000000" opacity="0.22"/><rect x="312.48" y="29.15" width="3.703" height="6.20" fill="#2b1b8c" opacity="0.15"/><rect x="312.48" y="36.15" width="3.703" height="6.20" fill="#e78c7c" opacity="0.2"/><rect x="312.48" y="42.85" width="3.703" height="6.20" fill="#000000" opacity="0.22"/><rect x="316.18" y="22.15" width="3.703" height="6.20" fill="#000000" opacity="0.22"/><rect x="316.18" y="29.15" width="3.703" height="6.20" fill="#2b1b8c" opacity="0.15"/><rect x="316.18" y="36.15" width="3.703" height="6.20" fill="#e78c7c" opacity="0.2"/><rect x="316.18" y="42.85" width="3.703" height="6.20" fill="#000000" opacity="0.22"/><rect x="319.88" y="22.15" width="3.703" height="6.20" fill="#000000" opacity="0.22"/><rect x="319.88" y="29.15" width="3.703" height="6.20" fill="#2b1b8c" opacity="0.15"/><rect x="319.88" y="36.15" width="3.703" height="6.20" fill="#db5f1c" opacity="0.2"/><rect x="319.88" y="42.85" width="3.703" height="6.20" fill="#000000" opacity="0.22"/><rect x="323.58" y="22.15" width="3.703" height="6.20" fill="#e3e3e8" opacity="0.22"/><rect x="323.58" y="29.15" width="3.703" height="6.20" fill="#2b1b8c" opacity="0.15"/><rect x="323.58" y="36.15" width="3.703" height="6.20" fill="#e78c7c" opacity="0.2"/><rect x="323.58" y="42.85" width="3.703" height="6.20" fill="#000000" opacity="0.22"/><rect x="327.29" y="22.15" width="3.703" height="6.20" fill="#000000" opacity="0.22"/><rect x="327.29" y="29.15" width="3.703" height="6.20" fill="#2b1b8c" opacity="0.15"/><rect x="327.29" y="36.15" width="3.703" height="6.20" fill="#f6c9c5" opacity="0.2"/><rect x="327.29" y="42.85" width="3.703" height="6.20" fill="#e3e3e8" opacity="0.22"/><rect x="330.99" y="22.15" width="3.703" height="6.20" fill="#e3e3e8" opacity="0.22"/><rect x="330.99" y="29.15" width="3.703" height="6.20" fill="#d2631c" opacity="0.15"/><rect x="330.99" y="36.15" width="3.703" height="6.20" fill="#e78c7c" opacity="0.2"/><rect x="330.99" y="42.85" width="3.703" height="6.20" fill="#000000" opacity="0.22"/><rect x="334.69" y="22.15" width="3.703" height="6.20" fill="#000000" opacity="0.22"/><rect x="334.69" y="29.15" width="3.703" height="6.20" fill="#2b1b8c" opacity="0.15"/><rect x="334.69" y="36.15" width="3.703" height="6.20" fill="#e78c7c" opacity="0.2"/><rect x="334.69" y="42.85" width="3.703" height="6.20" fill="#000000" opacity="0.22"/><rect x="338.39" y="22.15" width="3.703" height="6.20" fill="#e3e3e8" opacity="0.22"/><rect x="338.39" y="29.15" width="3.703" height="6.20" fill="#2b1b8c" opacity="0.15"/><rect x="338.39" y="36.15" width="3.703" height="6.20" fill="#f6c9c5" opacity="0.2"/><rect x="338.39" y="42.85" width="3.703" height="6.20" fill="#e3e3e8" opacity="0.22"/><rect x="342.10" y="22.15" width="3.703" height="6.20" fill="#000000" opacity="0.22"/><rect x="342.10" y="29.15" width="3.703" height="6.20" fill="#2b1b8c" opacity="0.15"/><rect x="342.10" y="36.15" width="3.703" height="6.20" fill="#f6c9c5" opacity="0.2"/><rect x="342.10" y="42.85" width="3.703" height="6.20" fill="#e3e3e8" opacity="0.22"/><rect x="345.80" y="22.15" width="3.703" height="6.20" fill="#000000" opacity="0.22"/><rect x="345.80" y="29.15" width="3.703" height="6.20" fill="#2b1b8c" opacity="0.15"/><rect x="345.80" y="36.15" width="3.703" height="6.20" fill="#db5f1c" opacity="0.2"/><rect x="345.80" y="42.85" width="3.703" height="6.20" fill="#000000" opacity="0.22"/><rect x="349.50" y="22.15" width="3.703" height="6.20" fill="#000000" opacity="0.22"/><rect x="349.50" y="29.15" width="3.703" height="6.20" fill="#2b1b8c" opacity="0.15"/><rect x="349.50" y="36.15" width="3.703" height="6.20" fill="#f6c9c5" opacity="0.2"/><rect x="349.50" y="42.85" width="3.703" height="6.20" fill="#000000" opacity="0.22"/><rect x="353.20" y="22.15" width="3.703" height="6.20" fill="#000000" opacity="0.22"/><rect x="353.20" y="29.15" width="3.703" height="6.20" fill="#d2631c" opacity="0.15"/><rect x="353.20" y="36.15" width="3.703" height="6.20" fill="#f6c9c5" opacity="0.2"/><rect x="353.20" y="42.85" width="3.703" height="6.20" fill="#000000" opacity="0.22"/><rect x="356.91" y="22.15" width="3.703" height="6.20" fill="#000000" opacity="0.22"/><rect x="356.91" y="29.15" width="3.703" height="6.20" fill="#d2631c" opacity="0.15"/><rect x="356.91" y="36.15" width="3.703" height="6.20" fill="#e78c7c" opacity="0.2"/><rect x="356.91" y="42.85" width="3.703" height="6.20" fill="#000000" opacity="0.22"/><rect x="360.61" y="22.15" width="3.703" height="6.20" fill="#000000" opacity="0.22"/><rect x="360.61" y="29.15" width="3.703" height="6.20" fill="#d2631c" opacity="0.15"/><rect x="360.61" y="36.15" width="3.703" height="6.20" fill="#f6c9c5" opacity="0.2"/><rect x="360.61" y="42.85" width="3.703" height="6.20" fill="#000000" opacity="0.22"/><rect x="364.31" y="22.15" width="3.703" height="6.20" fill="#000000" opacity="0.22"/><rect x="364.31" y="29.15" width="3.703" height="6.20" fill="#d2631c" opacity="0.15"/><rect x="364.31" y="36.15" width="3.703" height="6.20" fill="#e78c7c" opacity="0.2"/><rect x="364.31" y="42.85" width="3.703" height="6.20" fill="#e3e3e8" opacity="0.22"/><rect x="368.01" y="22.15" width="3.703" height="6.20" fill="#000000" opacity="0.22"/><rect x="368.01" y="29.15" width="3.703" height="6.20" fill="#2b1b8c" opacity="0.15"/><rect x="368.01" y="36.15" width="3.703" height="6.20" fill="#f6c9c5" opacity="0.2"/><rect x="368.01" y="42.85" width="3.703" height="6.20" fill="#e3e3e8" opacity="0.22"/><rect x="371.72" y="22.15" width="3.703" height="6.20" fill="#000000" opacity="0.22"/><rect x="371.72" y="29.15" width="3.703" height="6.20" fill="#2b1b8c" opacity="0.15"/><rect x="371.72" y="36.15" width="3.703" height="6.20" fill="#e78c7c" opacity="0.2"/><rect x="371.72" y="42.85" width="3.703" height="6.20" fill="#000000" opacity="0.22"/><rect x="375.42" y="22.15" width="3.703" height="6.20" fill="#000000" opacity="0.22"/><rect x="375.42" y="29.15" width="3.703" height="6.20" fill="#2b1b8c" opacity="0.15"/><rect x="375.42" y="36.15" width="3.703" height="6.20" fill="#e78c7c" opacity="0.2"/><rect x="375.42" y="42.85" width="3.703" height="6.20" fill="#000000" opacity="0.22"/><rect x="379.12" y="22.15" width="3.703" height="6.20" fill="#000000" opacity="0.22"/><rect x="379.12" y="29.15" width="3.703" height="6.20" fill="#2b1b8c" opacity="0.15"/><rect x="379.12" y="36.15" width="3.703" height="6.20" fill="#e78c7c" opacity="0.2"/><rect x="379.12" y="42.85" width="3.703" height="6.20" fill="#e3e3e8" opacity="0.22"/><rect x="382.82" y="22.15" width="3.703" height="6.20" fill="#000000" opacity="0.22"/><rect x="382.82" y="29.15" width="3.703" height="6.20" fill="#2b1b8c" opacity="0.15"/><rect x="382.82" y="36.15" width="3.703" height="6.20" fill="#e78c7c" opacity="0.2"/><rect x="382.82" y="42.85" width="3.703" height="6.20" fill="#000000" opacity="0.22"/><rect x="386.53" y="22.15" width="3.703" height="6.20" fill="#e3e3e8" opacity="0.22"/><rect x="386.53" y="29.15" width="3.703" height="6.20" fill="#2b1b8c" opacity="0.15"/><rect x="386.53" y="36.15" width="3.703" height="6.20" fill="#e78c7c" opacity="0.2"/><rect x="386.53" y="42.85" width="3.703" height="6.20" fill="#e3e3e8" opacity="0.22"/><rect x="390.23" y="22.15" width="3.703" height="6.20" fill="#e3e3e8" opacity="0.22"/><rect x="390.23" y="29.15" width="3.703" height="6.20" fill="#d2631c" opacity="0.15"/><rect x="390.23" y="36.15" width="3.703" height="6.20" fill="#db5f1c" opacity="0.2"/><rect x="390.23" y="42.85" width="3.703" height="6.20" fill="#e3e3e8" opacity="0.22"/><rect x="393.93" y="22.15" width="3.703" height="6.20" fill="#e3e3e8" opacity="0.22"/><rect x="393.93" y="29.15" width="3.703" height="6.20" fill="#d2631c" opacity="0.15"/><rect x="393.93" y="36.15" width="3.703" height="6.20" fill="#e78c7c" opacity="0.2"/><rect x="393.93" y="42.85" width="3.703" height="6.20" fill="#000000" opacity="0.22"/><rect x="397.63" y="22.15" width="3.703" height="6.20" fill="#000000" opacity="0.22"/><rect x="397.63" y="29.15" width="3.703" height="6.20" fill="#d2631c" opacity="0.15"/><rect x="397.63" y="36.15" width="3.703" height="6.20" fill="#f6c9c5" opacity="0.2"/><rect x="397.63" y="42.85" width="3.703" height="6.20" fill="#e3e3e8" opacity="0.22"/><rect x="401.34" y="22.15" width="3.703" height="6.20" fill="#000000" opacity="0.22"/><rect x="401.34" y="29.15" width="3.703" height="6.20" fill="#2b1b8c" opacity="0.15"/><rect x="401.34" y="36.15" width="3.703" height="6.20" fill="#e78c7c" opacity="0.2"/><rect x="401.34" y="42.85" width="3.703" height="6.20" fill="#000000" opacity="0.22"/><rect x="405.04" y="22.15" width="3.703" height="6.20" fill="#000000" opacity="0.22"/><rect x="405.04" y="29.15" width="3.703" height="6.20" fill="#d2631c" opacity="0.15"/><rect x="405.04" y="36.15" width="3.703" height="6.20" fill="#db5f1c" opacity="0.2"/><rect x="405.04" y="42.85" width="3.703" height="6.20" fill="#e3e3e8" opacity="0.22"/><rect x="408.74" y="22.15" width="3.703" height="6.20" fill="#e3e3e8" opacity="0.22"/><rect x="408.74" y="29.15" width="3.703" height="6.20" fill="#2b1b8c" opacity="0.15"/><rect x="408.74" y="36.15" width="3.703" height="6.20" fill="#e78c7c" opacity="0.2"/><rect x="408.74" y="42.85" width="3.703" height="6.20" fill="#e3e3e8" opacity="0.22"/><rect x="412.44" y="22.15" width="3.703" height="6.20" fill="#e3e3e8" opacity="0.22"/><rect x="412.44" y="29.15" width="3.703" height="6.20" fill="#d2631c" opacity="0.15"/><rect x="412.44" y="36.15" width="3.703" height="6.20" fill="#f6c9c5" opacity="0.2"/><rect x="412.44" y="42.85" width="3.703" height="6.20" fill="#000000" opacity="0.22"/><rect x="416.15" y="22.15" width="3.703" height="6.20" fill="#e3e3e8" opacity="0.22"/><rect x="416.15" y="29.15" width="3.703" height="6.20" fill="#d2631c" opacity="0.15"/><rect x="416.15" y="36.15" width="3.703" height="6.20" fill="#f6c9c5" opacity="0.2"/><rect x="416.15" y="42.85" width="3.703" height="6.20" fill="#e3e3e8" opacity="0.22"/><rect x="419.85" y="22.15" width="3.703" height="6.20" fill="#e3e3e8" opacity="0.22"/><rect x="419.85" y="29.15" width="3.703" height="6.20" fill="#2b1b8c" opacity="0.15"/><rect x="419.85" y="36.15" width="3.703" height="6.20" fill="#e78c7c" opacity="0.2"/><rect x="419.85" y="42.85" width="3.703" height="6.20" fill="#000000" opacity="0.22"/><rect x="423.55" y="22.15" width="3.703" height="6.20" fill="#e3e3e8" opacity="0.22"/><rect x="423.55" y="29.15" width="3.703" height="6.20" fill="#d2631c" opacity="0.15"/><rect x="423.55" y="36.15" width="3.703" height="6.20" fill="#f6c9c5" opacity="0.2"/><rect x="423.55" y="42.85" width="3.703" height="6.20" fill="#000000" opacity="0.22"/><rect x="427.25" y="22.15" width="3.703" height="6.20" fill="#000000" opacity="0.22"/><rect x="427.25" y="29.15" width="3.703" height="6.20" fill="#2b1b8c" opacity="0.15"/><rect x="427.25" y="36.15" width="3.703" height="6.20" fill="#f6c9c5" opacity="0.2"/><rect x="427.25" y="42.85" width="3.703" height="6.20" fill="#000000" opacity="0.22"/><rect x="430.96" y="22.15" width="3.703" height="6.20" fill="#e3e3e8" opacity="0.22"/><rect x="430.96" y="29.15" width="3.703" height="6.20" fill="#2b1b8c" opacity="0.15"/><rect x="430.96" y="36.15" width="3.703" height="6.20" fill="#f6c9c5" opacity="0.2"/><rect x="430.96" y="42.85" width="3.703" height="6.20" fill="#000000" opacity="0.22"/><rect x="434.66" y="22.15" width="3.703" height="6.20" fill="#e3e3e8" opacity="0.22"/><rect x="434.66" y="29.15" width="3.703" height="6.20" fill="#2b1b8c" opacity="0.15"/><rect x="434.66" y="36.15" width="3.703" height="6.20" fill="#f6c9c5" opacity="0.2"/><rect x="434.66" y="42.85" width="3.703" height="6.20" fill="#000000" opacity="0.22"/><rect x="438.36" y="22.15" width="3.703" height="6.20" fill="#000000" opacity="0.22"/><rect x="438.36" y="29.15" width="3.703" height="6.20" fill="#2b1b8c" opacity="0.15"/><rect x="438.36" y="36.15" width="3.703" height="6.20" fill="#e78c7c" opacity="0.2"/><rect x="438.36" y="42.85" width="3.703" height="6.20" fill="#000000" opacity="0.22"/><rect x="442.06" y="22.15" width="3.703" height="6.20" fill="#000000" opacity="0.22"/><rect x="442.06" y="29.15" width="3.703" height="6.20" fill="#d2631c" opacity="0.15"/><rect x="442.06" y="36.15" width="3.703" height="6.20" fill="#f6c9c5" opacity="0.2"/><rect x="442.06" y="42.85" width="3.703" height="6.20" fill="#e3e3e8" opacity="0.22"/><rect x="445.77" y="22.15" width="3.703" height="6.20" fill="#e3e3e8" opacity="0.22"/><rect x="445.77" y="29.15" width="3.703" height="6.20" fill="#d2631c" opacity="0.15"/><rect x="445.77" y="36.15" width="3.703" height="6.20" fill="#f6c9c5" opacity="0.2"/><rect x="445.77" y="42.85" width="3.703" height="6.20" fill="#000000" opacity="0.22"/><rect x="449.47" y="22.15" width="3.703" height="6.20" fill="#e3e3e8" opacity="0.22"/><rect x="449.47" y="29.15" width="3.703" height="6.20" fill="#d2631c" opacity="0.15"/><rect x="449.47" y="36.15" width="3.703" height="6.20" fill="#e78c7c" opacity="0.2"/><rect x="449.47" y="42.85" width="3.703" height="6.20" fill="#e3e3e8" opacity="0.22"/><rect x="453.17" y="22.15" width="3.703" height="6.20" fill="#000000" opacity="0.22"/><rect x="453.17" y="29.15" width="3.703" height="6.20" fill="#d2631c" opacity="0.15"/><rect x="453.17" y="36.15" width="3.703" height="6.20" fill="#db5f1c" opacity="0.2"/><rect x="453.17" y="42.85" width="3.703" height="6.20" fill="#000000" opacity="0.22"/><rect x="456.87" y="22.15" width="3.703" height="6.20" fill="#000000" opacity="0.22"/><rect x="456.87" y="29.15" width="3.703" height="6.20" fill="#2b1b8c" opacity="0.15"/><rect x="456.87" y="36.15" width="3.703" height="6.20" fill="#db5f1c" opacity="0.2"/><rect x="456.87" y="42.85" width="3.703" height="6.20" fill="#000000" opacity="0.22"/><rect x="460.58" y="22.15" width="3.703" height="6.20" fill="#e3e3e8" opacity="0.22"/><rect x="460.58" y="29.15" width="3.703" height="6.20" fill="#d2631c" opacity="0.15"/><rect x="460.58" y="36.15" width="3.703" height="6.20" fill="#e78c7c" opacity="0.2"/><rect x="460.58" y="42.85" width="3.703" height="6.20" fill="#000000" opacity="0.22"/><rect x="464.28" y="22.15" width="3.703" height="6.20" fill="#e3e3e8" opacity="0.22"/><rect x="464.28" y="29.15" width="3.703" height="6.20" fill="#2b1b8c" opacity="0.15"/><rect x="464.28" y="36.15" width="3.703" height="6.20" fill="#db5f1c" opacity="0.2"/><rect x="464.28" y="42.85" width="3.703" height="6.20" fill="#000000" opacity="0.22"/><rect x="467.98" y="22.15" width="3.703" height="6.20" fill="#e3e3e8" opacity="0.22"/><rect x="467.98" y="29.15" width="3.703" height="6.20" fill="#d2631c" opacity="0.15"/><rect x="467.98" y="36.15" width="3.703" height="6.20" fill="#f6c9c5" opacity="0.2"/><rect x="467.98" y="42.85" width="3.703" height="6.20" fill="#e3e3e8" opacity="0.22"/><rect x="471.68" y="22.15" width="3.703" height="6.20" fill="#000000" opacity="0.22"/><rect x="471.68" y="29.15" width="3.703" height="6.20" fill="#2b1b8c" opacity="0.15"/><rect x="471.68" y="36.15" width="3.703" height="6.20" fill="#db5f1c" opacity="0.2"/><rect x="471.68" y="42.85" width="3.703" height="6.20" fill="#000000" opacity="0.22"/><rect x="475.39" y="22.15" width="3.703" height="6.20" fill="#000000" opacity="0.22"/><rect x="475.39" y="29.15" width="3.703" height="6.20" fill="#2b1b8c" opacity="0.15"/><rect x="475.39" y="36.15" width="3.703" height="6.20" fill="#db5f1c" opacity="0.2"/><rect x="475.39" y="42.85" width="3.703" height="6.20" fill="#000000" opacity="0.22"/><rect x="479.09" y="22.15" width="3.703" height="6.20" fill="#000000" opacity="0.22"/><rect x="479.09" y="29.15" width="3.703" height="6.20" fill="#2b1b8c" opacity="0.15"/><rect x="479.09" y="36.15" width="3.703" height="6.20" fill="#f6c9c5" opacity="0.2"/><rect x="479.09" y="42.85" width="3.703" height="6.20" fill="#000000" opacity="0.22"/><rect x="482.79" y="22.15" width="3.703" height="6.20" fill="#000000" opacity="0.22"/><rect x="482.79" y="29.15" width="3.703" height="6.20" fill="#2b1b8c" opacity="0.15"/><rect x="482.79" y="36.15" width="3.703" height="6.20" fill="#f6c9c5" opacity="0.2"/><rect x="482.79" y="42.85" width="3.703" height="6.20" fill="#e3e3e8" opacity="0.22"/><rect x="486.49" y="22.15" width="3.703" height="6.20" fill="#000000" opacity="0.22"/><rect x="486.49" y="29.15" width="3.703" height="6.20" fill="#2b1b8c" opacity="0.15"/><rect x="486.49" y="36.15" width="3.703" height="6.20" fill="#f6c9c5" opacity="0.2"/><rect x="486.49" y="42.85" width="3.703" height="6.20" fill="#000000" opacity="0.22"/><rect x="490.20" y="22.15" width="3.703" height="6.20" fill="#000000" opacity="0.22"/><rect x="490.20" y="29.15" width="3.703" height="6.20" fill="#2b1b8c" opacity="0.15"/><rect x="490.20" y="36.15" width="3.703" height="6.20" fill="#e78c7c" opacity="0.2"/><rect x="490.20" y="42.85" width="3.703" height="6.20" fill="#000000" opacity="0.22"/><rect x="493.90" y="22.15" width="3.703" height="6.20" fill="#000000" opacity="0.22"/><rect x="493.90" y="29.15" width="3.703" height="6.20" fill="#d2631c" opacity="0.15"/><rect x="493.90" y="36.15" width="3.703" height="6.20" fill="#e78c7c" opacity="0.2"/><rect x="493.90" y="42.85" width="3.703" height="6.20" fill="#000000" opacity="0.22"/><rect x="497.60" y="22.15" width="3.703" height="6.20" fill="#000000" opacity="0.22"/><rect x="497.60" y="29.15" width="3.703" height="6.20" fill="#d2631c" opacity="0.15"/><rect x="497.60" y="36.15" width="3.703" height="6.20" fill="#f6c9c5" opacity="0.2"/><rect x="497.60" y="42.85" width="3.703" height="6.20" fill="#000000" opacity="0.22"/><rect x="501.30" y="22.15" width="3.703" height="6.20" fill="#000000" opacity="0.22"/><rect x="501.30" y="29.15" width="3.703" height="6.20" fill="#2b1b8c" opacity="0.15"/><rect x="501.30" y="36.15" width="3.703" height="6.20" fill="#f6c9c5" opacity="0.2"/><rect x="501.30" y="42.85" width="3.703" height="6.20" fill="#000000" opacity="0.22"/><rect x="505.01" y="22.15" width="3.703" height="6.20" fill="#000000" opacity="0.22"/><rect x="505.01" y="29.15" width="3.703" height="6.20" fill="#d2631c" opacity="0.15"/><rect x="505.01" y="36.15" width="3.703" height="6.20" fill="#f6c9c5" opacity="0.2"/><rect x="505.01" y="42.85" width="3.703" height="6.20" fill="#000000" opacity="0.22"/><rect x="508.71" y="22.15" width="3.703" height="6.20" fill="#000000" opacity="0.22"/><rect x="508.71" y="29.15" width="3.703" height="6.20" fill="#2b1b8c" opacity="0.15"/><rect x="508.71" y="36.15" width="3.703" height="6.20" fill="#f6c9c5" opacity="0.2"/><rect x="508.71" y="42.85" width="3.703" height="6.20" fill="#000000" opacity="0.22"/><rect x="49.60" y="53.05" width="3.703" height="6.20" fill="#3fa544" opacity="0.45"/><rect x="49.60" y="60.15" width="3.703" height="6.20" fill="#2f7fc6" opacity="0.33"/><rect x="49.60" y="67.15" width="3.703" height="6.20" fill="#dddbde" opacity="0.15"/><rect x="49.60" y="74.15" width="3.703" height="6.20" fill="#dddbde" opacity="0.15"/><rect x="53.30" y="53.05" width="3.703" height="6.20" fill="#3fa544" opacity="0.45"/><rect x="53.30" y="60.15" width="3.703" height="6.20" fill="#2f7fc6" opacity="0.33"/><rect x="53.30" y="67.15" width="3.703" height="6.20" fill="#dddbde" opacity="0.15"/><rect x="53.30" y="74.15" width="3.703" height="6.20" fill="#dddbde" opacity="0.15"/><rect x="57.00" y="53.05" width="3.703" height="6.20" fill="#3fa544" opacity="0.45"/><rect x="57.00" y="60.15" width="3.703" height="6.20" fill="#2f7fc6" opacity="0.33"/><rect x="57.00" y="67.15" width="3.703" height="6.20" fill="#dddbde" opacity="0.15"/><rect x="57.00" y="74.15" width="3.703" height="6.20" fill="#dddbde" opacity="0.15"/><rect x="60.71" y="53.05" width="3.703" height="6.20" fill="#3fa544" opacity="0.45"/><rect x="60.71" y="60.15" width="3.703" height="6.20" fill="#2f7fc6" opacity="0.33"/><rect x="60.71" y="67.15" width="3.703" height="6.20" fill="#dddbde" opacity="0.15"/><rect x="60.71" y="74.15" width="3.703" height="6.20" fill="#dddbde" opacity="0.15"/><rect x="64.41" y="53.05" width="3.703" height="6.20" fill="#3fa544" opacity="0.45"/><rect x="64.41" y="60.15" width="3.703" height="6.20" fill="#2f7fc6" opacity="0.33"/><rect x="64.41" y="67.15" width="3.703" height="6.20" fill="#dddbde" opacity="0.15"/><rect x="64.41" y="74.15" width="3.703" height="6.20" fill="#dddbde" opacity="0.15"/><rect x="68.11" y="53.05" width="3.703" height="6.20" fill="#3fa544" opacity="0.45"/><rect x="68.11" y="60.15" width="3.703" height="6.20" fill="#2f7fc6" opacity="0.33"/><rect x="68.11" y="67.15" width="3.703" height="6.20" fill="#dddbde" opacity="0.15"/><rect x="68.11" y="74.15" width="3.703" height="6.20" fill="#dddbde" opacity="0.15"/><rect x="71.81" y="53.05" width="3.703" height="6.20" fill="#3fa544" opacity="0.45"/><rect x="71.81" y="60.15" width="3.703" height="6.20" fill="#2f7fc6" opacity="0.33"/><rect x="71.81" y="67.15" width="3.703" height="6.20" fill="#dddbde" opacity="0.15"/><rect x="71.81" y="74.15" width="3.703" height="6.20" fill="#dddbde" opacity="0.15"/><rect x="75.52" y="53.05" width="3.703" height="6.20" fill="#3fa544" opacity="0.45"/><rect x="75.52" y="60.15" width="3.703" height="6.20" fill="#2f7fc6" opacity="0.33"/><rect x="75.52" y="67.15" width="3.703" height="6.20" fill="#dddbde" opacity="0.15"/><rect x="75.52" y="74.15" width="3.703" height="6.20" fill="#dddbde" opacity="0.15"/><rect x="79.22" y="53.05" width="3.703" height="6.20" fill="#3fa544" opacity="0.45"/><rect x="79.22" y="60.15" width="3.703" height="6.20" fill="#2f7fc6" opacity="0.33"/><rect x="79.22" y="67.15" width="3.703" height="6.20" fill="#dddbde" opacity="0.15"/><rect x="79.22" y="74.15" width="3.703" height="6.20" fill="#dddbde" opacity="0.15"/><rect x="82.92" y="53.05" width="3.703" height="6.20" fill="#3fa544" opacity="0.45"/><rect x="82.92" y="60.15" width="3.703" height="6.20" fill="#2f7fc6" opacity="0.33"/><rect x="82.92" y="67.15" width="3.703" height="6.20" fill="#dddbde" opacity="0.15"/><rect x="82.92" y="74.15" width="3.703" height="6.20" fill="#dddbde" opacity="0.15"/><rect x="86.62" y="53.05" width="3.703" height="6.20" fill="#3fa544" opacity="0.45"/><rect x="86.62" y="60.15" width="3.703" height="6.20" fill="#2f7fc6" opacity="0.33"/><rect x="86.62" y="67.15" width="3.703" height="6.20" fill="#dddbde" opacity="0.15"/><rect x="86.62" y="74.15" width="3.703" height="6.20" fill="#dddbde" opacity="0.15"/><rect x="90.33" y="53.05" width="3.703" height="6.20" fill="#3fa544" opacity="0.45"/><rect x="90.33" y="60.15" width="3.703" height="6.20" fill="#2f7fc6" opacity="0.33"/><rect x="90.33" y="67.15" width="3.703" height="6.20" fill="#dddbde" opacity="0.15"/><rect x="90.33" y="74.15" width="3.703" height="6.20" fill="#dddbde" opacity="0.15"/><rect x="94.03" y="53.05" width="3.703" height="6.20" fill="#3fa544" opacity="0.45"/><rect x="94.03" y="60.15" width="3.703" height="6.20" fill="#2f7fc6" opacity="0.33"/><rect x="94.03" y="67.15" width="3.703" height="6.20" fill="#dddbde" opacity="0.15"/><rect x="94.03" y="74.15" width="3.703" height="6.20" fill="#dddbde" opacity="0.15"/><rect x="97.73" y="53.05" width="3.703" height="6.20" fill="#3fa544" opacity="0.45"/><rect x="97.73" y="60.15" width="3.703" height="6.20" fill="#8a4a3c" opacity="0.33"/><rect x="97.73" y="67.15" width="3.703" height="6.20" fill="#dddbde" opacity="0.15"/><rect x="97.73" y="74.15" width="3.703" height="6.20" fill="#dddbde" opacity="0.15"/><rect x="101.43" y="53.05" width="3.703" height="6.20" fill="#3fa544" opacity="0.45"/><rect x="101.43" y="60.15" width="3.703" height="6.20" fill="#2f7fc6" opacity="0.33"/><rect x="101.43" y="67.15" width="3.703" height="6.20" fill="#dddbde" opacity="0.15"/><rect x="101.43" y="74.15" width="3.703" height="6.20" fill="#dddbde" opacity="0.15"/><rect x="105.14" y="53.05" width="3.703" height="6.20" fill="#3fa544" opacity="0.45"/><rect x="105.14" y="60.15" width="3.703" height="6.20" fill="#2f7fc6" opacity="0.33"/><rect x="105.14" y="67.15" width="3.703" height="6.20" fill="#dddbde" opacity="0.15"/><rect x="105.14" y="74.15" width="3.703" height="6.20" fill="#dddbde" opacity="0.15"/><rect x="108.84" y="53.05" width="3.703" height="6.20" fill="#3fa544" opacity="0.45"/><rect x="108.84" y="60.15" width="3.703" height="6.20" fill="#2f7fc6" opacity="0.33"/><rect x="108.84" y="67.15" width="3.703" height="6.20" fill="#dddbde" opacity="0.15"/><rect x="108.84" y="74.15" width="3.703" height="6.20" fill="#dddbde" opacity="0.15"/><rect x="112.54" y="53.05" width="3.703" height="6.20" fill="#3fa544" opacity="0.45"/><rect x="112.54" y="60.15" width="3.703" height="6.20" fill="#2f7fc6" opacity="0.33"/><rect x="112.54" y="67.15" width="3.703" height="6.20" fill="#dddbde" opacity="0.15"/><rect x="112.54" y="74.15" width="3.703" height="6.20" fill="#dddbde" opacity="0.15"/><rect x="116.24" y="53.05" width="3.703" height="6.20" fill="#3fa544" opacity="0.45"/><rect x="116.24" y="60.15" width="3.703" height="6.20" fill="#2f7fc6" opacity="0.33"/><rect x="116.24" y="67.15" width="3.703" height="6.20" fill="#dddbde" opacity="0.15"/><rect x="116.24" y="74.15" width="3.703" height="6.20" fill="#dddbde" opacity="0.15"/><rect x="119.95" y="53.05" width="3.703" height="6.20" fill="#3fa544" opacity="0.45"/><rect x="119.95" y="60.15" width="3.703" height="6.20" fill="#2f7fc6" opacity="0.33"/><rect x="119.95" y="67.15" width="3.703" height="6.20" fill="#dddbde" opacity="0.15"/><rect x="119.95" y="74.15" width="3.703" height="6.20" fill="#dddbde" opacity="0.15"/><rect x="123.65" y="53.05" width="3.703" height="6.20" fill="#3fa544" opacity="0.45"/><rect x="123.65" y="60.15" width="3.703" height="6.20" fill="#8a4a3c" opacity="0.33"/><rect x="123.65" y="67.15" width="3.703" height="6.20" fill="#dddbde" opacity="0.15"/><rect x="123.65" y="74.15" width="3.703" height="6.20" fill="#dddbde" opacity="0.15"/><rect x="127.35" y="53.05" width="3.703" height="6.20" fill="#3fa544" opacity="0.45"/><rect x="127.35" y="60.15" width="3.703" height="6.20" fill="#2f7fc6" opacity="0.33"/><rect x="127.35" y="67.15" width="3.703" height="6.20" fill="#dddbde" opacity="0.15"/><rect x="127.35" y="74.15" width="3.703" height="6.20" fill="#dddbde" opacity="0.15"/><rect x="131.05" y="53.05" width="3.703" height="6.20" fill="#3fa544" opacity="0.45"/><rect x="131.05" y="60.15" width="3.703" height="6.20" fill="#dddbde" opacity="0.15"/><rect x="131.05" y="67.15" width="3.703" height="6.20" fill="#2f7fc6" opacity="0.33"/><rect x="131.05" y="74.15" width="3.703" height="6.20" fill="#dddbde" opacity="0.15"/><rect x="134.76" y="53.05" width="3.703" height="6.20" fill="#3fa544" opacity="0.45"/><rect x="134.76" y="60.15" width="3.703" height="6.20" fill="#dddbde" opacity="0.15"/><rect x="134.76" y="67.15" width="3.703" height="6.20" fill="#2f7fc6" opacity="0.33"/><rect x="134.76" y="74.15" width="3.703" height="6.20" fill="#dddbde" opacity="0.15"/><rect x="138.46" y="53.05" width="3.703" height="6.20" fill="#3fa544" opacity="0.45"/><rect x="138.46" y="60.15" width="3.703" height="6.20" fill="#dddbde" opacity="0.15"/><rect x="138.46" y="67.15" width="3.703" height="6.20" fill="#2f7fc6" opacity="0.33"/><rect x="138.46" y="74.15" width="3.703" height="6.20" fill="#8a4a3c" opacity="0.15"/><rect x="142.16" y="53.05" width="3.703" height="6.20" fill="#3fa544" opacity="0.45"/><rect x="142.16" y="60.15" width="3.703" height="6.20" fill="#dddbde" opacity="0.15"/><rect x="142.16" y="67.15" width="3.703" height="6.20" fill="#8a4a3c" opacity="0.15"/><rect x="142.16" y="74.15" width="3.703" height="6.20" fill="#dddbde" opacity="0.15"/><rect x="145.86" y="53.05" width="3.703" height="6.20" fill="#3fa544" opacity="0.45"/><rect x="145.86" y="60.15" width="3.703" height="6.20" fill="#dddbde" opacity="0.15"/><rect x="145.86" y="67.15" width="3.703" height="6.20" fill="#dddbde" opacity="0.15"/><rect x="145.86" y="74.15" width="3.703" height="6.20" fill="#8a4a3c" opacity="0.15"/><rect x="149.57" y="53.05" width="3.703" height="6.20" fill="#3fa544" opacity="0.45"/><rect x="149.57" y="60.15" width="3.703" height="6.20" fill="#dddbde" opacity="0.15"/><rect x="149.57" y="67.15" width="3.703" height="6.20" fill="#dddbde" opacity="0.15"/><rect x="149.57" y="74.15" width="3.703" height="6.20" fill="#dddbde" opacity="0.15"/><rect x="153.27" y="53.05" width="3.703" height="6.20" fill="#3fa544" opacity="0.45"/><rect x="153.27" y="60.15" width="3.703" height="6.20" fill="#dddbde" opacity="0.15"/><rect x="153.27" y="67.15" width="3.703" height="6.20" fill="#dddbde" opacity="0.15"/><rect x="153.27" y="74.15" width="3.703" height="6.20" fill="#dddbde" opacity="0.15"/><rect x="156.97" y="53.05" width="3.703" height="6.20" fill="#3fa544" opacity="0.45"/><rect x="156.97" y="60.15" width="3.703" height="6.20" fill="#dddbde" opacity="0.15"/><rect x="156.97" y="67.15" width="3.703" height="6.20" fill="#dddbde" opacity="0.15"/><rect x="156.97" y="74.15" width="3.703" height="6.20" fill="#dddbde" opacity="0.15"/><rect x="160.67" y="53.05" width="3.703" height="6.20" fill="#3fa544" opacity="0.45"/><rect x="160.67" y="60.15" width="3.703" height="6.20" fill="#dddbde" opacity="0.15"/><rect x="160.67" y="67.15" width="3.703" height="6.20" fill="#dddbde" opacity="0.15"/><rect x="160.67" y="74.15" width="3.703" height="6.20" fill="#dddbde" opacity="0.15"/><rect x="164.38" y="53.05" width="3.703" height="6.20" fill="#3fa544" opacity="0.45"/><rect x="164.38" y="60.15" width="3.703" height="6.20" fill="#dddbde" opacity="0.15"/><rect x="164.38" y="67.15" width="3.703" height="6.20" fill="#dddbde" opacity="0.15"/><rect x="164.38" y="74.15" width="3.703" height="6.20" fill="#dddbde" opacity="0.15"/><rect x="168.08" y="53.05" width="3.703" height="6.20" fill="#3fa544" opacity="0.45"/><rect x="168.08" y="60.15" width="3.703" height="6.20" fill="#dddbde" opacity="0.15"/><rect x="168.08" y="67.15" width="3.703" height="6.20" fill="#dddbde" opacity="0.15"/><rect x="168.08" y="74.15" width="3.703" height="6.20" fill="#dddbde" opacity="0.15"/><rect x="171.78" y="53.05" width="3.703" height="6.20" fill="#3fa544" opacity="0.45"/><rect x="171.78" y="60.15" width="3.703" height="6.20" fill="#dddbde" opacity="0.15"/><rect x="171.78" y="67.15" width="3.703" height="6.20" fill="#dddbde" opacity="0.15"/><rect x="171.78" y="74.15" width="3.703" height="6.20" fill="#dddbde" opacity="0.15"/><rect x="175.48" y="53.05" width="3.703" height="6.20" fill="#3fa544" opacity="0.45"/><rect x="175.48" y="60.15" width="3.703" height="6.20" fill="#dddbde" opacity="0.15"/><rect x="175.48" y="67.15" width="3.703" height="6.20" fill="#dddbde" opacity="0.15"/><rect x="175.48" y="74.15" width="3.703" height="6.20" fill="#dddbde" opacity="0.15"/><rect x="179.19" y="53.05" width="3.703" height="6.20" fill="#3fa544" opacity="0.45"/><rect x="179.19" y="60.15" width="3.703" height="6.20" fill="#dddbde" opacity="0.15"/><rect x="179.19" y="67.15" width="3.703" height="6.20" fill="#dddbde" opacity="0.15"/><rect x="179.19" y="74.15" width="3.703" height="6.20" fill="#dddbde" opacity="0.15"/><rect x="182.89" y="53.05" width="3.703" height="6.20" fill="#3fa544" opacity="0.45"/><rect x="182.89" y="60.15" width="3.703" height="6.20" fill="#dddbde" opacity="0.15"/><rect x="182.89" y="67.15" width="3.703" height="6.20" fill="#dddbde" opacity="0.15"/><rect x="182.89" y="74.15" width="3.703" height="6.20" fill="#dddbde" opacity="0.15"/><rect x="186.59" y="53.05" width="3.703" height="6.20" fill="#3fa544" opacity="0.45"/><rect x="186.59" y="60.15" width="3.703" height="6.20" fill="#dddbde" opacity="0.15"/><rect x="186.59" y="67.15" width="3.703" height="6.20" fill="#dddbde" opacity="0.15"/><rect x="186.59" y="74.15" width="3.703" height="6.20" fill="#dddbde" opacity="0.15"/><rect x="190.29" y="53.05" width="3.703" height="6.20" fill="#3fa544" opacity="0.45"/><rect x="190.29" y="60.15" width="3.703" height="6.20" fill="#dddbde" opacity="0.15"/><rect x="190.29" y="67.15" width="3.703" height="6.20" fill="#dddbde" opacity="0.15"/><rect x="190.29" y="74.15" width="3.703" height="6.20" fill="#dddbde" opacity="0.15"/><rect x="194.00" y="53.05" width="3.703" height="6.20" fill="#3fa544" opacity="0.45"/><rect x="194.00" y="60.15" width="3.703" height="6.20" fill="#dddbde" opacity="0.15"/><rect x="194.00" y="67.15" width="3.703" height="6.20" fill="#dddbde" opacity="0.15"/><rect x="194.00" y="74.15" width="3.703" height="6.20" fill="#dddbde" opacity="0.15"/><rect x="197.70" y="53.05" width="3.703" height="6.20" fill="#3fa544" opacity="0.45"/><rect x="197.70" y="60.15" width="3.703" height="6.20" fill="#dddbde" opacity="0.15"/><rect x="197.70" y="67.15" width="3.703" height="6.20" fill="#dddbde" opacity="0.15"/><rect x="197.70" y="74.15" width="3.703" height="6.20" fill="#dddbde" opacity="0.15"/><rect x="201.40" y="53.05" width="3.703" height="6.20" fill="#3fa544" opacity="0.45"/><rect x="201.40" y="60.15" width="3.703" height="6.20" fill="#dddbde" opacity="0.15"/><rect x="201.40" y="67.15" width="3.703" height="6.20" fill="#dddbde" opacity="0.15"/><rect x="201.40" y="74.15" width="3.703" height="6.20" fill="#dddbde" opacity="0.15"/><rect x="205.10" y="53.05" width="3.703" height="6.20" fill="#3fa544" opacity="0.45"/><rect x="205.10" y="60.15" width="3.703" height="6.20" fill="#dddbde" opacity="0.15"/><rect x="205.10" y="67.15" width="3.703" height="6.20" fill="#dddbde" opacity="0.15"/><rect x="205.10" y="74.15" width="3.703" height="6.20" fill="#dddbde" opacity="0.15"/><rect x="208.81" y="53.05" width="3.703" height="6.20" fill="#3fa544" opacity="0.45"/><rect x="208.81" y="60.15" width="3.703" height="6.20" fill="#dddbde" opacity="0.15"/><rect x="208.81" y="67.15" width="3.703" height="6.20" fill="#dddbde" opacity="0.15"/><rect x="208.81" y="74.15" width="3.703" height="6.20" fill="#dddbde" opacity="0.15"/><rect x="212.51" y="53.05" width="3.703" height="6.20" fill="#3fa544" opacity="0.45"/><rect x="212.51" y="60.15" width="3.703" height="6.20" fill="#dddbde" opacity="0.15"/><rect x="212.51" y="67.15" width="3.703" height="6.20" fill="#dddbde" opacity="0.15"/><rect x="212.51" y="74.15" width="3.703" height="6.20" fill="#dddbde" opacity="0.15"/><rect x="216.21" y="53.05" width="3.703" height="6.20" fill="#3fa544" opacity="0.45"/><rect x="216.21" y="60.15" width="3.703" height="6.20" fill="#dddbde" opacity="0.15"/><rect x="216.21" y="67.15" width="3.703" height="6.20" fill="#dddbde" opacity="0.15"/><rect x="216.21" y="74.15" width="3.703" height="6.20" fill="#dddbde" opacity="0.15"/><rect x="219.91" y="53.05" width="3.703" height="6.20" fill="#3fa544" opacity="0.45"/><rect x="219.91" y="60.15" width="3.703" height="6.20" fill="#dddbde" opacity="0.15"/><rect x="219.91" y="67.15" width="3.703" height="6.20" fill="#dddbde" opacity="0.15"/><rect x="219.91" y="74.15" width="3.703" height="6.20" fill="#dddbde" opacity="0.15"/><rect x="223.62" y="53.05" width="3.703" height="6.20" fill="#3fa544" opacity="0.45"/><rect x="223.62" y="60.15" width="3.703" height="6.20" fill="#dddbde" opacity="0.15"/><rect x="223.62" y="67.15" width="3.703" height="6.20" fill="#dddbde" opacity="0.15"/><rect x="223.62" y="74.15" width="3.703" height="6.20" fill="#dddbde" opacity="0.15"/><rect x="227.32" y="53.05" width="3.703" height="6.20" fill="#3fa544" opacity="0.45"/><rect x="227.32" y="60.15" width="3.703" height="6.20" fill="#dddbde" opacity="0.15"/><rect x="227.32" y="67.15" width="3.703" height="6.20" fill="#dddbde" opacity="0.15"/><rect x="227.32" y="74.15" width="3.703" height="6.20" fill="#dddbde" opacity="0.15"/><rect x="231.02" y="53.05" width="3.703" height="6.20" fill="#3fa544" opacity="0.45"/><rect x="231.02" y="60.15" width="3.703" height="6.20" fill="#dddbde" opacity="0.15"/><rect x="231.02" y="67.15" width="3.703" height="6.20" fill="#dddbde" opacity="0.15"/><rect x="231.02" y="74.15" width="3.703" height="6.20" fill="#dddbde" opacity="0.15"/><rect x="234.72" y="53.05" width="3.703" height="6.20" fill="#3fa544" opacity="0.45"/><rect x="234.72" y="60.15" width="3.703" height="6.20" fill="#dddbde" opacity="0.15"/><rect x="234.72" y="67.15" width="3.703" height="6.20" fill="#dddbde" opacity="0.15"/><rect x="234.72" y="74.15" width="3.703" height="6.20" fill="#dddbde" opacity="0.15"/><rect x="238.43" y="53.05" width="3.703" height="6.20" fill="#3fa544" opacity="0.45"/><rect x="238.43" y="60.15" width="3.703" height="6.20" fill="#dddbde" opacity="0.15"/><rect x="238.43" y="67.15" width="3.703" height="6.20" fill="#dddbde" opacity="0.15"/><rect x="238.43" y="74.15" width="3.703" height="6.20" fill="#dddbde" opacity="0.15"/><rect x="242.13" y="53.05" width="3.703" height="6.20" fill="#3fa544" opacity="0.45"/><rect x="242.13" y="60.15" width="3.703" height="6.20" fill="#dddbde" opacity="0.15"/><rect x="242.13" y="67.15" width="3.703" height="6.20" fill="#dddbde" opacity="0.15"/><rect x="242.13" y="74.15" width="3.703" height="6.20" fill="#dddbde" opacity="0.15"/><rect x="245.83" y="53.05" width="3.703" height="6.20" fill="#3fa544" opacity="0.45"/><rect x="245.83" y="60.15" width="3.703" height="6.20" fill="#dddbde" opacity="0.15"/><rect x="245.83" y="67.15" width="3.703" height="6.20" fill="#dddbde" opacity="0.15"/><rect x="245.83" y="74.15" width="3.703" height="6.20" fill="#dddbde" opacity="0.15"/><rect x="249.53" y="53.05" width="3.703" height="6.20" fill="#3fa544" opacity="0.45"/><rect x="249.53" y="60.15" width="3.703" height="6.20" fill="#dddbde" opacity="0.15"/><rect x="249.53" y="67.15" width="3.703" height="6.20" fill="#dddbde" opacity="0.15"/><rect x="249.53" y="74.15" width="3.703" height="6.20" fill="#dddbde" opacity="0.15"/><rect x="253.24" y="53.05" width="3.703" height="6.20" fill="#3fa544" opacity="0.45"/><rect x="253.24" y="60.15" width="3.703" height="6.20" fill="#dddbde" opacity="0.15"/><rect x="253.24" y="67.15" width="3.703" height="6.20" fill="#dddbde" opacity="0.15"/><rect x="253.24" y="74.15" width="3.703" height="6.20" fill="#dddbde" opacity="0.15"/><rect x="256.94" y="53.05" width="3.703" height="6.20" fill="#3fa544" opacity="0.45"/><rect x="256.94" y="60.15" width="3.703" height="6.20" fill="#dddbde" opacity="0.15"/><rect x="256.94" y="67.15" width="3.703" height="6.20" fill="#dddbde" opacity="0.15"/><rect x="256.94" y="74.15" width="3.703" height="6.20" fill="#dddbde" opacity="0.15"/><rect x="260.64" y="53.05" width="3.703" height="6.20" fill="#3fa544" opacity="0.45"/><rect x="260.64" y="60.15" width="3.703" height="6.20" fill="#dddbde" opacity="0.15"/><rect x="260.64" y="67.15" width="3.703" height="6.20" fill="#dddbde" opacity="0.15"/><rect x="260.64" y="74.15" width="3.703" height="6.20" fill="#dddbde" opacity="0.15"/><rect x="264.34" y="53.05" width="3.703" height="6.20" fill="#3fa544" opacity="0.45"/><rect x="264.34" y="60.15" width="3.703" height="6.20" fill="#dddbde" opacity="0.15"/><rect x="264.34" y="67.15" width="3.703" height="6.20" fill="#dddbde" opacity="0.15"/><rect x="264.34" y="74.15" width="3.703" height="6.20" fill="#dddbde" opacity="0.15"/><rect x="268.05" y="53.05" width="3.703" height="6.20" fill="#3fa544" opacity="0.45"/><rect x="268.05" y="60.15" width="3.703" height="6.20" fill="#dddbde" opacity="0.15"/><rect x="268.05" y="67.15" width="3.703" height="6.20" fill="#dddbde" opacity="0.15"/><rect x="268.05" y="74.15" width="3.703" height="6.20" fill="#dddbde" opacity="0.15"/><rect x="271.75" y="53.05" width="3.703" height="6.20" fill="#3fa544" opacity="0.45"/><rect x="271.75" y="60.15" width="3.703" height="6.20" fill="#dddbde" opacity="0.15"/><rect x="271.75" y="67.15" width="3.703" height="6.20" fill="#dddbde" opacity="0.15"/><rect x="271.75" y="74.15" width="3.703" height="6.20" fill="#dddbde" opacity="0.15"/><rect x="275.45" y="53.05" width="3.703" height="6.20" fill="#3fa544" opacity="0.45"/><rect x="275.45" y="60.15" width="3.703" height="6.20" fill="#2f7fc6" opacity="0.33"/><rect x="275.45" y="67.15" width="3.703" height="6.20" fill="#dddbde" opacity="0.15"/><rect x="275.45" y="74.15" width="3.703" height="6.20" fill="#dddbde" opacity="0.15"/><rect x="279.15" y="53.05" width="3.703" height="6.20" fill="#3fa544" opacity="0.45"/><rect x="279.15" y="60.15" width="3.703" height="6.20" fill="#2f7fc6" opacity="0.33"/><rect x="279.15" y="67.15" width="3.703" height="6.20" fill="#dddbde" opacity="0.15"/><rect x="279.15" y="74.15" width="3.703" height="6.20" fill="#dddbde" opacity="0.15"/><rect x="282.86" y="53.05" width="3.703" height="6.20" fill="#3fa544" opacity="0.45"/><rect x="282.86" y="60.15" width="3.703" height="6.20" fill="#2f7fc6" opacity="0.33"/><rect x="282.86" y="67.15" width="3.703" height="6.20" fill="#dddbde" opacity="0.15"/><rect x="282.86" y="74.15" width="3.703" height="6.20" fill="#dddbde" opacity="0.15"/><rect x="286.56" y="53.05" width="3.703" height="6.20" fill="#3fa544" opacity="0.45"/><rect x="286.56" y="60.15" width="3.703" height="6.20" fill="#2f7fc6" opacity="0.33"/><rect x="286.56" y="67.15" width="3.703" height="6.20" fill="#dddbde" opacity="0.15"/><rect x="286.56" y="74.15" width="3.703" height="6.20" fill="#dddbde" opacity="0.15"/><rect x="290.26" y="53.05" width="3.703" height="6.20" fill="#3fa544" opacity="0.45"/><rect x="290.26" y="60.15" width="3.703" height="6.20" fill="#8a4a3c" opacity="0.33"/><rect x="290.26" y="67.15" width="3.703" height="6.20" fill="#dddbde" opacity="0.15"/><rect x="290.26" y="74.15" width="3.703" height="6.20" fill="#dddbde" opacity="0.15"/><rect x="293.96" y="53.05" width="3.703" height="6.20" fill="#3fa544" opacity="0.45"/><rect x="293.96" y="60.15" width="3.703" height="6.20" fill="#2f7fc6" opacity="0.33"/><rect x="293.96" y="67.15" width="3.703" height="6.20" fill="#dddbde" opacity="0.15"/><rect x="293.96" y="74.15" width="3.703" height="6.20" fill="#dddbde" opacity="0.15"/><rect x="297.67" y="53.05" width="3.703" height="6.20" fill="#3fa544" opacity="0.45"/><rect x="297.67" y="60.15" width="3.703" height="6.20" fill="#2f7fc6" opacity="0.33"/><rect x="297.67" y="67.15" width="3.703" height="6.20" fill="#dddbde" opacity="0.15"/><rect x="297.67" y="74.15" width="3.703" height="6.20" fill="#dddbde" opacity="0.15"/><rect x="301.37" y="53.05" width="3.703" height="6.20" fill="#3fa544" opacity="0.45"/><rect x="301.37" y="60.15" width="3.703" height="6.20" fill="#2f7fc6" opacity="0.33"/><rect x="301.37" y="67.15" width="3.703" height="6.20" fill="#dddbde" opacity="0.15"/><rect x="301.37" y="74.15" width="3.703" height="6.20" fill="#dddbde" opacity="0.15"/><rect x="305.07" y="53.05" width="3.703" height="6.20" fill="#3fa544" opacity="0.45"/><rect x="305.07" y="60.15" width="3.703" height="6.20" fill="#2f7fc6" opacity="0.33"/><rect x="305.07" y="67.15" width="3.703" height="6.20" fill="#dddbde" opacity="0.15"/><rect x="305.07" y="74.15" width="3.703" height="6.20" fill="#dddbde" opacity="0.15"/><rect x="308.77" y="53.05" width="3.703" height="6.20" fill="#3fa544" opacity="0.45"/><rect x="308.77" y="60.15" width="3.703" height="6.20" fill="#2f7fc6" opacity="0.33"/><rect x="308.77" y="67.15" width="3.703" height="6.20" fill="#dddbde" opacity="0.15"/><rect x="308.77" y="74.15" width="3.703" height="6.20" fill="#dddbde" opacity="0.15"/><rect x="312.48" y="53.05" width="3.703" height="6.20" fill="#3fa544" opacity="0.45"/><rect x="312.48" y="60.15" width="3.703" height="6.20" fill="#2f7fc6" opacity="0.33"/><rect x="312.48" y="67.15" width="3.703" height="6.20" fill="#dddbde" opacity="0.15"/><rect x="312.48" y="74.15" width="3.703" height="6.20" fill="#dddbde" opacity="0.15"/><rect x="316.18" y="53.05" width="3.703" height="6.20" fill="#3fa544" opacity="0.45"/><rect x="316.18" y="60.15" width="3.703" height="6.20" fill="#2f7fc6" opacity="0.33"/><rect x="316.18" y="67.15" width="3.703" height="6.20" fill="#dddbde" opacity="0.15"/><rect x="316.18" y="74.15" width="3.703" height="6.20" fill="#dddbde" opacity="0.15"/><rect x="319.88" y="53.05" width="3.703" height="6.20" fill="#3fa544" opacity="0.45"/><rect x="319.88" y="60.15" width="3.703" height="6.20" fill="#2f7fc6" opacity="0.33"/><rect x="319.88" y="67.15" width="3.703" height="6.20" fill="#dddbde" opacity="0.15"/><rect x="319.88" y="74.15" width="3.703" height="6.20" fill="#dddbde" opacity="0.15"/><rect x="323.58" y="53.05" width="3.703" height="6.20" fill="#3fa544" opacity="0.45"/><rect x="323.58" y="60.15" width="3.703" height="6.20" fill="#2f7fc6" opacity="0.33"/><rect x="323.58" y="67.15" width="3.703" height="6.20" fill="#dddbde" opacity="0.15"/><rect x="323.58" y="74.15" width="3.703" height="6.20" fill="#dddbde" opacity="0.15"/><rect x="327.29" y="53.05" width="3.703" height="6.20" fill="#3fa544" opacity="0.45"/><rect x="327.29" y="60.15" width="3.703" height="6.20" fill="#2f7fc6" opacity="0.33"/><rect x="327.29" y="67.15" width="3.703" height="6.20" fill="#dddbde" opacity="0.15"/><rect x="327.29" y="74.15" width="3.703" height="6.20" fill="#dddbde" opacity="0.15"/><rect x="330.99" y="53.05" width="3.703" height="6.20" fill="#3fa544" opacity="0.45"/><rect x="330.99" y="60.15" width="3.703" height="6.20" fill="#2f7fc6" opacity="0.33"/><rect x="330.99" y="67.15" width="3.703" height="6.20" fill="#dddbde" opacity="0.15"/><rect x="330.99" y="74.15" width="3.703" height="6.20" fill="#dddbde" opacity="0.15"/><rect x="334.69" y="53.05" width="3.703" height="6.20" fill="#3fa544" opacity="0.45"/><rect x="334.69" y="60.15" width="3.703" height="6.20" fill="#8a4a3c" opacity="0.33"/><rect x="334.69" y="67.15" width="3.703" height="6.20" fill="#dddbde" opacity="0.15"/><rect x="334.69" y="74.15" width="3.703" height="6.20" fill="#dddbde" opacity="0.15"/><rect x="338.39" y="53.05" width="3.703" height="6.20" fill="#3fa544" opacity="0.45"/><rect x="338.39" y="60.15" width="3.703" height="6.20" fill="#2f7fc6" opacity="0.33"/><rect x="338.39" y="67.15" width="3.703" height="6.20" fill="#dddbde" opacity="0.15"/><rect x="338.39" y="74.15" width="3.703" height="6.20" fill="#dddbde" opacity="0.15"/><rect x="342.10" y="53.05" width="3.703" height="6.20" fill="#3fa544" opacity="0.45"/><rect x="342.10" y="60.15" width="3.703" height="6.20" fill="#8a4a3c" opacity="0.33"/><rect x="342.10" y="67.15" width="3.703" height="6.20" fill="#dddbde" opacity="0.15"/><rect x="342.10" y="74.15" width="3.703" height="6.20" fill="#dddbde" opacity="0.15"/><rect x="345.80" y="53.05" width="3.703" height="6.20" fill="#3fa544" opacity="0.45"/><rect x="345.80" y="60.15" width="3.703" height="6.20" fill="#2f7fc6" opacity="0.33"/><rect x="345.80" y="67.15" width="3.703" height="6.20" fill="#dddbde" opacity="0.15"/><rect x="345.80" y="74.15" width="3.703" height="6.20" fill="#dddbde" opacity="0.15"/><rect x="349.50" y="53.05" width="3.703" height="6.20" fill="#3fa544" opacity="0.45"/><rect x="349.50" y="60.15" width="3.703" height="6.20" fill="#2f7fc6" opacity="0.33"/><rect x="349.50" y="67.15" width="3.703" height="6.20" fill="#dddbde" opacity="0.15"/><rect x="349.50" y="74.15" width="3.703" height="6.20" fill="#dddbde" opacity="0.15"/><rect x="353.20" y="53.05" width="3.703" height="6.20" fill="#3fa544" opacity="0.45"/><rect x="353.20" y="60.15" width="3.703" height="6.20" fill="#2f7fc6" opacity="0.33"/><rect x="353.20" y="67.15" width="3.703" height="6.20" fill="#dddbde" opacity="0.15"/><rect x="353.20" y="74.15" width="3.703" height="6.20" fill="#dddbde" opacity="0.15"/><rect x="356.91" y="53.05" width="3.703" height="6.20" fill="#3fa544" opacity="0.45"/><rect x="356.91" y="60.15" width="3.703" height="6.20" fill="#2f7fc6" opacity="0.33"/><rect x="356.91" y="67.15" width="3.703" height="6.20" fill="#dddbde" opacity="0.15"/><rect x="356.91" y="74.15" width="3.703" height="6.20" fill="#dddbde" opacity="0.15"/><rect x="360.61" y="53.05" width="3.703" height="6.20" fill="#3fa544" opacity="0.45"/><rect x="360.61" y="60.15" width="3.703" height="6.20" fill="#2f7fc6" opacity="0.33"/><rect x="360.61" y="67.15" width="3.703" height="6.20" fill="#dddbde" opacity="0.15"/><rect x="360.61" y="74.15" width="3.703" height="6.20" fill="#dddbde" opacity="0.15"/><rect x="364.31" y="53.05" width="3.703" height="6.20" fill="#3fa544" opacity="0.45"/><rect x="364.31" y="60.15" width="3.703" height="6.20" fill="#dddbde" opacity="0.15"/><rect x="364.31" y="67.15" width="3.703" height="6.20" fill="#2f7fc6" opacity="0.33"/><rect x="364.31" y="74.15" width="3.703" height="6.20" fill="#dddbde" opacity="0.15"/><rect x="368.01" y="53.05" width="3.703" height="6.20" fill="#3fa544" opacity="0.45"/><rect x="368.01" y="60.15" width="3.703" height="6.20" fill="#dddbde" opacity="0.15"/><rect x="368.01" y="67.15" width="3.703" height="6.20" fill="#2f7fc6" opacity="0.33"/><rect x="368.01" y="74.15" width="3.703" height="6.20" fill="#dddbde" opacity="0.15"/><rect x="371.72" y="53.05" width="3.703" height="6.20" fill="#3fa544" opacity="0.45"/><rect x="371.72" y="60.15" width="3.703" height="6.20" fill="#dddbde" opacity="0.15"/><rect x="371.72" y="67.15" width="3.703" height="6.20" fill="#2f7fc6" opacity="0.33"/><rect x="371.72" y="74.15" width="3.703" height="6.20" fill="#dddbde" opacity="0.15"/><rect x="375.42" y="53.05" width="3.703" height="6.20" fill="#3fa544" opacity="0.45"/><rect x="375.42" y="60.15" width="3.703" height="6.20" fill="#dddbde" opacity="0.15"/><rect x="375.42" y="67.15" width="3.703" height="6.20" fill="#2f7fc6" opacity="0.33"/><rect x="375.42" y="74.15" width="3.703" height="6.20" fill="#dddbde" opacity="0.15"/><rect x="379.12" y="53.05" width="3.703" height="6.20" fill="#3fa544" opacity="0.45"/><rect x="379.12" y="60.15" width="3.703" height="6.20" fill="#dddbde" opacity="0.15"/><rect x="379.12" y="67.15" width="3.703" height="6.20" fill="#2f7fc6" opacity="0.33"/><rect x="379.12" y="74.15" width="3.703" height="6.20" fill="#dddbde" opacity="0.15"/><rect x="382.82" y="53.05" width="3.703" height="6.20" fill="#3fa544" opacity="0.45"/><rect x="382.82" y="60.15" width="3.703" height="6.20" fill="#dddbde" opacity="0.15"/><rect x="382.82" y="67.15" width="3.703" height="6.20" fill="#2f7fc6" opacity="0.33"/><rect x="382.82" y="74.15" width="3.703" height="6.20" fill="#dddbde" opacity="0.15"/><rect x="386.53" y="53.05" width="3.703" height="6.20" fill="#3fa544" opacity="0.45"/><rect x="386.53" y="60.15" width="3.703" height="6.20" fill="#dddbde" opacity="0.15"/><rect x="386.53" y="67.15" width="3.703" height="6.20" fill="#dddbde" opacity="0.15"/><rect x="386.53" y="74.15" width="3.703" height="6.20" fill="#8a4a3c" opacity="0.15"/><rect x="390.23" y="53.05" width="3.703" height="6.20" fill="#3fa544" opacity="0.45"/><rect x="390.23" y="60.15" width="3.703" height="6.20" fill="#dddbde" opacity="0.15"/><rect x="390.23" y="67.15" width="3.703" height="6.20" fill="#dddbde" opacity="0.15"/><rect x="390.23" y="74.15" width="3.703" height="6.20" fill="#8a4a3c" opacity="0.15"/><rect x="393.93" y="53.05" width="3.703" height="6.20" fill="#3fa544" opacity="0.45"/><rect x="393.93" y="60.15" width="3.703" height="6.20" fill="#dddbde" opacity="0.15"/><rect x="393.93" y="67.15" width="3.703" height="6.20" fill="#dddbde" opacity="0.15"/><rect x="393.93" y="74.15" width="3.703" height="6.20" fill="#8a4a3c" opacity="0.15"/><rect x="397.63" y="53.05" width="3.703" height="6.20" fill="#3fa544" opacity="0.45"/><rect x="397.63" y="60.15" width="3.703" height="6.20" fill="#dddbde" opacity="0.15"/><rect x="397.63" y="67.15" width="3.703" height="6.20" fill="#dddbde" opacity="0.15"/><rect x="397.63" y="74.15" width="3.703" height="6.20" fill="#8a4a3c" opacity="0.15"/><rect x="401.34" y="53.05" width="3.703" height="6.20" fill="#3fa544" opacity="0.45"/><rect x="401.34" y="60.15" width="3.703" height="6.20" fill="#dddbde" opacity="0.15"/><rect x="401.34" y="67.15" width="3.703" height="6.20" fill="#dddbde" opacity="0.15"/><rect x="401.34" y="74.15" width="3.703" height="6.20" fill="#8a4a3c" opacity="0.15"/><rect x="405.04" y="53.05" width="3.703" height="6.20" fill="#3fa544" opacity="0.45"/><rect x="405.04" y="60.15" width="3.703" height="6.20" fill="#dddbde" opacity="0.15"/><rect x="405.04" y="67.15" width="3.703" height="6.20" fill="#dddbde" opacity="0.15"/><rect x="405.04" y="74.15" width="3.703" height="6.20" fill="#8a4a3c" opacity="0.15"/><rect x="408.74" y="53.05" width="3.703" height="6.20" fill="#3fa544" opacity="0.45"/><rect x="408.74" y="60.15" width="3.703" height="6.20" fill="#dddbde" opacity="0.15"/><rect x="408.74" y="67.15" width="3.703" height="6.20" fill="#dddbde" opacity="0.15"/><rect x="408.74" y="74.15" width="3.703" height="6.20" fill="#dddbde" opacity="0.15"/><rect x="412.44" y="53.05" width="3.703" height="6.20" fill="#3fa544" opacity="0.45"/><rect x="412.44" y="60.15" width="3.703" height="6.20" fill="#dddbde" opacity="0.15"/><rect x="412.44" y="67.15" width="3.703" height="6.20" fill="#dddbde" opacity="0.15"/><rect x="412.44" y="74.15" width="3.703" height="6.20" fill="#dddbde" opacity="0.15"/><rect x="416.15" y="53.05" width="3.703" height="6.20" fill="#3fa544" opacity="0.45"/><rect x="416.15" y="60.15" width="3.703" height="6.20" fill="#dddbde" opacity="0.15"/><rect x="416.15" y="67.15" width="3.703" height="6.20" fill="#dddbde" opacity="0.15"/><rect x="416.15" y="74.15" width="3.703" height="6.20" fill="#dddbde" opacity="0.15"/><rect x="419.85" y="53.05" width="3.703" height="6.20" fill="#3fa544" opacity="0.45"/><rect x="419.85" y="60.15" width="3.703" height="6.20" fill="#dddbde" opacity="0.15"/><rect x="419.85" y="67.15" width="3.703" height="6.20" fill="#dddbde" opacity="0.15"/><rect x="419.85" y="74.15" width="3.703" height="6.20" fill="#dddbde" opacity="0.15"/><rect x="423.55" y="53.05" width="3.703" height="6.20" fill="#3fa544" opacity="0.45"/><rect x="423.55" y="60.15" width="3.703" height="6.20" fill="#dddbde" opacity="0.15"/><rect x="423.55" y="67.15" width="3.703" height="6.20" fill="#dddbde" opacity="0.15"/><rect x="423.55" y="74.15" width="3.703" height="6.20" fill="#dddbde" opacity="0.15"/><rect x="427.25" y="53.05" width="3.703" height="6.20" fill="#3fa544" opacity="0.45"/><rect x="427.25" y="60.15" width="3.703" height="6.20" fill="#dddbde" opacity="0.15"/><rect x="427.25" y="67.15" width="3.703" height="6.20" fill="#dddbde" opacity="0.15"/><rect x="427.25" y="74.15" width="3.703" height="6.20" fill="#dddbde" opacity="0.15"/><rect x="430.96" y="53.05" width="3.703" height="6.20" fill="#3fa544" opacity="0.45"/><rect x="430.96" y="60.15" width="3.703" height="6.20" fill="#dddbde" opacity="0.15"/><rect x="430.96" y="67.15" width="3.703" height="6.20" fill="#dddbde" opacity="0.15"/><rect x="430.96" y="74.15" width="3.703" height="6.20" fill="#dddbde" opacity="0.15"/><rect x="434.66" y="53.05" width="3.703" height="6.20" fill="#3fa544" opacity="0.45"/><rect x="434.66" y="60.15" width="3.703" height="6.20" fill="#dddbde" opacity="0.15"/><rect x="434.66" y="67.15" width="3.703" height="6.20" fill="#dddbde" opacity="0.15"/><rect x="434.66" y="74.15" width="3.703" height="6.20" fill="#dddbde" opacity="0.15"/><rect x="438.36" y="53.05" width="3.703" height="6.20" fill="#3fa544" opacity="0.45"/><rect x="438.36" y="60.15" width="3.703" height="6.20" fill="#dddbde" opacity="0.15"/><rect x="438.36" y="67.15" width="3.703" height="6.20" fill="#dddbde" opacity="0.15"/><rect x="438.36" y="74.15" width="3.703" height="6.20" fill="#dddbde" opacity="0.15"/><rect x="442.06" y="53.05" width="3.703" height="6.20" fill="#3fa544" opacity="0.45"/><rect x="442.06" y="60.15" width="3.703" height="6.20" fill="#dddbde" opacity="0.15"/><rect x="442.06" y="67.15" width="3.703" height="6.20" fill="#dddbde" opacity="0.15"/><rect x="442.06" y="74.15" width="3.703" height="6.20" fill="#dddbde" opacity="0.15"/><rect x="445.77" y="53.05" width="3.703" height="6.20" fill="#3fa544" opacity="0.45"/><rect x="445.77" y="60.15" width="3.703" height="6.20" fill="#dddbde" opacity="0.15"/><rect x="445.77" y="67.15" width="3.703" height="6.20" fill="#dddbde" opacity="0.15"/><rect x="445.77" y="74.15" width="3.703" height="6.20" fill="#dddbde" opacity="0.15"/><rect x="449.47" y="53.05" width="3.703" height="6.20" fill="#3fa544" opacity="0.45"/><rect x="449.47" y="60.15" width="3.703" height="6.20" fill="#dddbde" opacity="0.15"/><rect x="449.47" y="67.15" width="3.703" height="6.20" fill="#dddbde" opacity="0.15"/><rect x="449.47" y="74.15" width="3.703" height="6.20" fill="#dddbde" opacity="0.15"/><rect x="453.17" y="53.05" width="3.703" height="6.20" fill="#3fa544" opacity="0.45"/><rect x="453.17" y="60.15" width="3.703" height="6.20" fill="#dddbde" opacity="0.15"/><rect x="453.17" y="67.15" width="3.703" height="6.20" fill="#dddbde" opacity="0.15"/><rect x="453.17" y="74.15" width="3.703" height="6.20" fill="#dddbde" opacity="0.15"/><rect x="456.87" y="53.05" width="3.703" height="6.20" fill="#3fa544" opacity="0.45"/><rect x="456.87" y="60.15" width="3.703" height="6.20" fill="#dddbde" opacity="0.15"/><rect x="456.87" y="67.15" width="3.703" height="6.20" fill="#dddbde" opacity="0.15"/><rect x="456.87" y="74.15" width="3.703" height="6.20" fill="#dddbde" opacity="0.15"/><rect x="460.58" y="53.05" width="3.703" height="6.20" fill="#3fa544" opacity="0.45"/><rect x="460.58" y="60.15" width="3.703" height="6.20" fill="#dddbde" opacity="0.15"/><rect x="460.58" y="67.15" width="3.703" height="6.20" fill="#dddbde" opacity="0.15"/><rect x="460.58" y="74.15" width="3.703" height="6.20" fill="#dddbde" opacity="0.15"/><rect x="464.28" y="53.05" width="3.703" height="6.20" fill="#3fa544" opacity="0.45"/><rect x="464.28" y="60.15" width="3.703" height="6.20" fill="#dddbde" opacity="0.15"/><rect x="464.28" y="67.15" width="3.703" height="6.20" fill="#dddbde" opacity="0.15"/><rect x="464.28" y="74.15" width="3.703" height="6.20" fill="#dddbde" opacity="0.15"/><rect x="467.98" y="53.05" width="3.703" height="6.20" fill="#3fa544" opacity="0.45"/><rect x="467.98" y="60.15" width="3.703" height="6.20" fill="#dddbde" opacity="0.15"/><rect x="467.98" y="67.15" width="3.703" height="6.20" fill="#dddbde" opacity="0.15"/><rect x="467.98" y="74.15" width="3.703" height="6.20" fill="#dddbde" opacity="0.15"/><rect x="471.68" y="53.05" width="3.703" height="6.20" fill="#3fa544" opacity="0.45"/><rect x="471.68" y="60.15" width="3.703" height="6.20" fill="#dddbde" opacity="0.15"/><rect x="471.68" y="67.15" width="3.703" height="6.20" fill="#dddbde" opacity="0.15"/><rect x="471.68" y="74.15" width="3.703" height="6.20" fill="#dddbde" opacity="0.15"/><rect x="475.39" y="53.05" width="3.703" height="6.20" fill="#3fa544" opacity="0.45"/><rect x="475.39" y="60.15" width="3.703" height="6.20" fill="#dddbde" opacity="0.15"/><rect x="475.39" y="67.15" width="3.703" height="6.20" fill="#dddbde" opacity="0.15"/><rect x="475.39" y="74.15" width="3.703" height="6.20" fill="#dddbde" opacity="0.15"/><rect x="479.09" y="53.05" width="3.703" height="6.20" fill="#3fa544" opacity="0.45"/><rect x="479.09" y="60.15" width="3.703" height="6.20" fill="#dddbde" opacity="0.15"/><rect x="479.09" y="67.15" width="3.703" height="6.20" fill="#dddbde" opacity="0.15"/><rect x="479.09" y="74.15" width="3.703" height="6.20" fill="#dddbde" opacity="0.15"/><rect x="482.79" y="53.05" width="3.703" height="6.20" fill="#3fa544" opacity="0.45"/><rect x="482.79" y="60.15" width="3.703" height="6.20" fill="#dddbde" opacity="0.15"/><rect x="482.79" y="67.15" width="3.703" height="6.20" fill="#dddbde" opacity="0.15"/><rect x="482.79" y="74.15" width="3.703" height="6.20" fill="#dddbde" opacity="0.15"/><rect x="486.49" y="53.05" width="3.703" height="6.20" fill="#3fa544" opacity="0.45"/><rect x="486.49" y="60.15" width="3.703" height="6.20" fill="#dddbde" opacity="0.15"/><rect x="486.49" y="67.15" width="3.703" height="6.20" fill="#dddbde" opacity="0.15"/><rect x="486.49" y="74.15" width="3.703" height="6.20" fill="#dddbde" opacity="0.15"/><rect x="490.20" y="53.05" width="3.703" height="6.20" fill="#3fa544" opacity="0.45"/><rect x="490.20" y="60.15" width="3.703" height="6.20" fill="#dddbde" opacity="0.15"/><rect x="490.20" y="67.15" width="3.703" height="6.20" fill="#dddbde" opacity="0.15"/><rect x="490.20" y="74.15" width="3.703" height="6.20" fill="#dddbde" opacity="0.15"/><rect x="493.90" y="53.05" width="3.703" height="6.20" fill="#3fa544" opacity="0.45"/><rect x="493.90" y="60.15" width="3.703" height="6.20" fill="#dddbde" opacity="0.15"/><rect x="493.90" y="67.15" width="3.703" height="6.20" fill="#dddbde" opacity="0.15"/><rect x="493.90" y="74.15" width="3.703" height="6.20" fill="#dddbde" opacity="0.15"/><rect x="497.60" y="53.05" width="3.703" height="6.20" fill="#3fa544" opacity="0.45"/><rect x="497.60" y="60.15" width="3.703" height="6.20" fill="#dddbde" opacity="0.15"/><rect x="497.60" y="67.15" width="3.703" height="6.20" fill="#dddbde" opacity="0.15"/><rect x="497.60" y="74.15" width="3.703" height="6.20" fill="#dddbde" opacity="0.15"/><rect x="501.30" y="53.05" width="3.703" height="6.20" fill="#3fa544" opacity="0.45"/><rect x="501.30" y="60.15" width="3.703" height="6.20" fill="#dddbde" opacity="0.15"/><rect x="501.30" y="67.15" width="3.703" height="6.20" fill="#dddbde" opacity="0.15"/><rect x="501.30" y="74.15" width="3.703" height="6.20" fill="#dddbde" opacity="0.15"/><rect x="505.01" y="53.05" width="3.703" height="6.20" fill="#3fa544" opacity="0.45"/><rect x="505.01" y="60.15" width="3.703" height="6.20" fill="#dddbde" opacity="0.15"/><rect x="505.01" y="67.15" width="3.703" height="6.20" fill="#dddbde" opacity="0.15"/><rect x="505.01" y="74.15" width="3.703" height="6.20" fill="#dddbde" opacity="0.15"/><rect x="508.71" y="53.05" width="3.703" height="6.20" fill="#3fa544" opacity="0.45"/><rect x="508.71" y="60.15" width="3.703" height="6.20" fill="#dddbde" opacity="0.15"/><rect x="508.71" y="67.15" width="3.703" height="6.20" fill="#dddbde" opacity="0.15"/><rect x="508.71" y="74.15" width="3.703" height="6.20" fill="#dddbde" opacity="0.15"/><rect x="49.60" y="82.95" width="3.703" height="5.70" fill="#d6601f" opacity="0.4"/><rect x="49.60" y="89.25" width="3.703" height="6.00" fill="#dddbde" opacity="0.15"/><rect x="53.30" y="82.95" width="3.703" height="5.70" fill="#d6601f" opacity="0.4"/><rect x="53.30" y="89.25" width="3.703" height="6.00" fill="#dddbde" opacity="0.15"/><rect x="57.00" y="82.95" width="3.703" height="5.70" fill="#d6601f" opacity="0.4"/><rect x="57.00" y="89.25" width="3.703" height="6.00" fill="#dddbde" opacity="0.15"/><rect x="60.71" y="82.95" width="3.703" height="5.70" fill="#d6601f" opacity="0.4"/><rect x="60.71" y="89.25" width="3.703" height="6.00" fill="#dddbde" opacity="0.15"/><rect x="64.41" y="82.95" width="3.703" height="5.70" fill="#d6601f" opacity="0.4"/><rect x="64.41" y="89.25" width="3.703" height="6.00" fill="#dddbde" opacity="0.15"/><rect x="68.11" y="82.95" width="3.703" height="5.70" fill="#d6601f" opacity="0.4"/><rect x="68.11" y="89.25" width="3.703" height="6.00" fill="#dddbde" opacity="0.15"/><rect x="71.81" y="82.95" width="3.703" height="5.70" fill="#d6601f" opacity="0.4"/><rect x="71.81" y="89.25" width="3.703" height="6.00" fill="#dddbde" opacity="0.15"/><rect x="75.52" y="82.95" width="3.703" height="5.70" fill="#d6601f" opacity="0.4"/><rect x="75.52" y="89.25" width="3.703" height="6.00" fill="#dddbde" opacity="0.15"/><rect x="79.22" y="82.95" width="3.703" height="5.70" fill="#d6601f" opacity="0.4"/><rect x="79.22" y="89.25" width="3.703" height="6.00" fill="#dddbde" opacity="0.15"/><rect x="82.92" y="82.95" width="3.703" height="5.70" fill="#d6601f" opacity="0.4"/><rect x="82.92" y="89.25" width="3.703" height="6.00" fill="#dddbde" opacity="0.15"/><rect x="86.62" y="82.95" width="3.703" height="5.70" fill="#d6601f" opacity="0.4"/><rect x="86.62" y="89.25" width="3.703" height="6.00" fill="#dddbde" opacity="0.15"/><rect x="90.33" y="82.95" width="3.703" height="5.70" fill="#d6601f" opacity="0.4"/><rect x="90.33" y="89.25" width="3.703" height="6.00" fill="#dddbde" opacity="0.15"/><rect x="94.03" y="82.95" width="3.703" height="5.70" fill="#d6601f" opacity="0.4"/><rect x="94.03" y="89.25" width="3.703" height="6.00" fill="#dddbde" opacity="0.15"/><rect x="97.73" y="82.95" width="3.703" height="5.70" fill="#d6601f" opacity="0.4"/><rect x="97.73" y="89.25" width="3.703" height="6.00" fill="#dddbde" opacity="0.15"/><rect x="101.43" y="82.95" width="3.703" height="5.70" fill="#d6601f" opacity="0.4"/><rect x="101.43" y="89.25" width="3.703" height="6.00" fill="#dddbde" opacity="0.15"/><rect x="105.14" y="82.95" width="3.703" height="5.70" fill="#d6601f" opacity="0.4"/><rect x="105.14" y="89.25" width="3.703" height="6.00" fill="#dddbde" opacity="0.15"/><rect x="108.84" y="82.95" width="3.703" height="5.70" fill="#d6601f" opacity="0.4"/><rect x="108.84" y="89.25" width="3.703" height="6.00" fill="#dddbde" opacity="0.15"/><rect x="112.54" y="82.95" width="3.703" height="5.70" fill="#d6601f" opacity="0.4"/><rect x="112.54" y="89.25" width="3.703" height="6.00" fill="#dddbde" opacity="0.15"/><rect x="116.24" y="82.95" width="3.703" height="5.70" fill="#d6601f" opacity="0.4"/><rect x="116.24" y="89.25" width="3.703" height="6.00" fill="#dddbde" opacity="0.15"/><rect x="119.95" y="82.95" width="3.703" height="5.70" fill="#d6601f" opacity="0.4"/><rect x="119.95" y="89.25" width="3.703" height="6.00" fill="#dddbde" opacity="0.15"/><rect x="123.65" y="82.95" width="3.703" height="5.70" fill="#d6601f" opacity="0.4"/><rect x="123.65" y="89.25" width="3.703" height="6.00" fill="#dddbde" opacity="0.15"/><rect x="127.35" y="82.95" width="3.703" height="5.70" fill="#d6601f" opacity="0.4"/><rect x="127.35" y="89.25" width="3.703" height="6.00" fill="#dddbde" opacity="0.15"/><rect x="131.05" y="82.95" width="3.703" height="5.70" fill="#d6601f" opacity="0.4"/><rect x="131.05" y="89.25" width="3.703" height="6.00" fill="#dddbde" opacity="0.15"/><rect x="134.76" y="82.95" width="3.703" height="5.70" fill="#d6601f" opacity="0.4"/><rect x="134.76" y="89.25" width="3.703" height="6.00" fill="#dddbde" opacity="0.15"/><rect x="138.46" y="82.95" width="3.703" height="5.70" fill="#d6601f" opacity="0.4"/><rect x="138.46" y="89.25" width="3.703" height="6.00" fill="#dddbde" opacity="0.15"/><rect x="142.16" y="82.95" width="3.703" height="5.70" fill="#d6601f" opacity="0.4"/><rect x="142.16" y="89.25" width="3.703" height="6.00" fill="#dddbde" opacity="0.15"/><rect x="145.86" y="82.95" width="3.703" height="5.70" fill="#d6601f" opacity="0.4"/><rect x="145.86" y="89.25" width="3.703" height="6.00" fill="#dddbde" opacity="0.15"/><rect x="149.57" y="82.95" width="3.703" height="5.70" fill="#d6601f" opacity="0.4"/><rect x="149.57" y="89.25" width="3.703" height="6.00" fill="#dddbde" opacity="0.15"/><rect x="153.27" y="82.95" width="3.703" height="5.70" fill="#d6601f" opacity="0.4"/><rect x="153.27" y="89.25" width="3.703" height="6.00" fill="#dddbde" opacity="0.15"/><rect x="156.97" y="82.95" width="3.703" height="5.70" fill="#d6601f" opacity="0.4"/><rect x="156.97" y="89.25" width="3.703" height="6.00" fill="#dddbde" opacity="0.15"/><rect x="160.67" y="82.95" width="3.703" height="5.70" fill="#d6601f" opacity="0.4"/><rect x="160.67" y="89.25" width="3.703" height="6.00" fill="#dddbde" opacity="0.15"/><rect x="164.38" y="82.95" width="3.703" height="5.70" fill="#d6601f" opacity="0.4"/><rect x="164.38" y="89.25" width="3.703" height="6.00" fill="#dddbde" opacity="0.15"/><rect x="168.08" y="82.95" width="3.703" height="5.70" fill="#d6601f" opacity="0.4"/><rect x="168.08" y="89.25" width="3.703" height="6.00" fill="#dddbde" opacity="0.15"/><rect x="171.78" y="82.95" width="3.703" height="5.70" fill="#d6601f" opacity="0.4"/><rect x="171.78" y="89.25" width="3.703" height="6.00" fill="#dddbde" opacity="0.15"/><rect x="175.48" y="82.95" width="3.703" height="5.70" fill="#d6601f" opacity="0.4"/><rect x="175.48" y="89.25" width="3.703" height="6.00" fill="#dddbde" opacity="0.15"/><rect x="179.19" y="82.95" width="3.703" height="5.70" fill="#d6601f" opacity="0.4"/><rect x="179.19" y="89.25" width="3.703" height="6.00" fill="#dddbde" opacity="0.15"/><rect x="182.89" y="82.95" width="3.703" height="5.70" fill="#d6601f" opacity="0.4"/><rect x="182.89" y="89.25" width="3.703" height="6.00" fill="#dddbde" opacity="0.15"/><rect x="186.59" y="82.95" width="3.703" height="5.70" fill="#d6601f" opacity="0.4"/><rect x="186.59" y="89.25" width="3.703" height="6.00" fill="#dddbde" opacity="0.15"/><rect x="190.29" y="82.95" width="3.703" height="5.70" fill="#d6601f" opacity="0.4"/><rect x="190.29" y="89.25" width="3.703" height="6.00" fill="#dddbde" opacity="0.15"/><rect x="194.00" y="82.95" width="3.703" height="5.70" fill="#d6601f" opacity="0.4"/><rect x="194.00" y="89.25" width="3.703" height="6.00" fill="#dddbde" opacity="0.15"/><rect x="197.70" y="82.95" width="3.703" height="5.70" fill="#d6601f" opacity="0.4"/><rect x="197.70" y="89.25" width="3.703" height="6.00" fill="#dddbde" opacity="0.15"/><rect x="201.40" y="82.95" width="3.703" height="5.70" fill="#d6601f" opacity="0.4"/><rect x="201.40" y="89.25" width="3.703" height="6.00" fill="#dddbde" opacity="0.15"/><rect x="205.10" y="82.95" width="3.703" height="5.70" fill="#d6601f" opacity="0.4"/><rect x="205.10" y="89.25" width="3.703" height="6.00" fill="#dddbde" opacity="0.15"/><rect x="208.81" y="82.95" width="3.703" height="5.70" fill="#d6601f" opacity="0.4"/><rect x="208.81" y="89.25" width="3.703" height="6.00" fill="#dddbde" opacity="0.15"/><rect x="212.51" y="82.95" width="3.703" height="5.70" fill="#d6601f" opacity="0.4"/><rect x="212.51" y="89.25" width="3.703" height="6.00" fill="#dddbde" opacity="0.15"/><rect x="216.21" y="82.95" width="3.703" height="5.70" fill="#d6601f" opacity="0.4"/><rect x="216.21" y="89.25" width="3.703" height="6.00" fill="#dddbde" opacity="0.15"/><rect x="219.91" y="82.95" width="3.703" height="5.70" fill="#d6601f" opacity="0.4"/><rect x="219.91" y="89.25" width="3.703" height="6.00" fill="#dddbde" opacity="0.15"/><rect x="223.62" y="82.95" width="3.703" height="5.70" fill="#d6601f" opacity="0.4"/><rect x="223.62" y="89.25" width="3.703" height="6.00" fill="#dddbde" opacity="0.15"/><rect x="227.32" y="82.95" width="3.703" height="5.70" fill="#d6601f" opacity="0.4"/><rect x="227.32" y="89.25" width="3.703" height="6.00" fill="#dddbde" opacity="0.15"/><rect x="231.02" y="82.95" width="3.703" height="5.70" fill="#d6601f" opacity="0.4"/><rect x="231.02" y="89.25" width="3.703" height="6.00" fill="#dddbde" opacity="0.15"/><rect x="234.72" y="82.95" width="3.703" height="5.70" fill="#d6601f" opacity="0.4"/><rect x="234.72" y="89.25" width="3.703" height="6.00" fill="#dddbde" opacity="0.15"/><rect x="238.43" y="82.95" width="3.703" height="5.70" fill="#d6601f" opacity="0.4"/><rect x="238.43" y="89.25" width="3.703" height="6.00" fill="#dddbde" opacity="0.15"/><rect x="242.13" y="82.95" width="3.703" height="5.70" fill="#d6601f" opacity="0.4"/><rect x="242.13" y="89.25" width="3.703" height="6.00" fill="#dddbde" opacity="0.15"/><rect x="245.83" y="82.95" width="3.703" height="5.70" fill="#d6601f" opacity="0.4"/><rect x="245.83" y="89.25" width="3.703" height="6.00" fill="#dddbde" opacity="0.15"/><rect x="249.53" y="82.95" width="3.703" height="5.70" fill="#d6601f" opacity="0.4"/><rect x="249.53" y="89.25" width="3.703" height="6.00" fill="#dddbde" opacity="0.15"/><rect x="253.24" y="82.95" width="3.703" height="5.70" fill="#d6601f" opacity="0.4"/><rect x="253.24" y="89.25" width="3.703" height="6.00" fill="#dddbde" opacity="0.15"/><rect x="256.94" y="82.95" width="3.703" height="5.70" fill="#d6601f" opacity="0.4"/><rect x="256.94" y="89.25" width="3.703" height="6.00" fill="#dddbde" opacity="0.15"/><rect x="260.64" y="82.95" width="3.703" height="5.70" fill="#d6601f" opacity="0.4"/><rect x="260.64" y="89.25" width="3.703" height="6.00" fill="#dddbde" opacity="0.15"/><rect x="264.34" y="82.95" width="3.703" height="5.70" fill="#d6601f" opacity="0.4"/><rect x="264.34" y="89.25" width="3.703" height="6.00" fill="#dddbde" opacity="0.15"/><rect x="268.05" y="82.95" width="3.703" height="5.70" fill="#d6601f" opacity="0.4"/><rect x="268.05" y="89.25" width="3.703" height="6.00" fill="#dddbde" opacity="0.15"/><rect x="271.75" y="82.95" width="3.703" height="5.70" fill="#d6601f" opacity="0.4"/><rect x="271.75" y="89.25" width="3.703" height="6.00" fill="#dddbde" opacity="0.15"/><rect x="275.45" y="82.95" width="3.703" height="5.70" fill="#dddbde" opacity="0.15"/><rect x="275.45" y="89.25" width="3.703" height="6.00" fill="#d6601f" opacity="0.4"/><rect x="279.15" y="82.95" width="3.703" height="5.70" fill="#dddbde" opacity="0.15"/><rect x="279.15" y="89.25" width="3.703" height="6.00" fill="#d6601f" opacity="0.4"/><rect x="282.86" y="82.95" width="3.703" height="5.70" fill="#dddbde" opacity="0.15"/><rect x="282.86" y="89.25" width="3.703" height="6.00" fill="#d6601f" opacity="0.4"/><rect x="286.56" y="82.95" width="3.703" height="5.70" fill="#dddbde" opacity="0.15"/><rect x="286.56" y="89.25" width="3.703" height="6.00" fill="#d6601f" opacity="0.4"/><rect x="290.26" y="82.95" width="3.703" height="5.70" fill="#dddbde" opacity="0.15"/><rect x="290.26" y="89.25" width="3.703" height="6.00" fill="#d6601f" opacity="0.4"/><rect x="293.96" y="82.95" width="3.703" height="5.70" fill="#dddbde" opacity="0.15"/><rect x="293.96" y="89.25" width="3.703" height="6.00" fill="#d6601f" opacity="0.4"/><rect x="297.67" y="82.95" width="3.703" height="5.70" fill="#dddbde" opacity="0.15"/><rect x="297.67" y="89.25" width="3.703" height="6.00" fill="#d6601f" opacity="0.4"/><rect x="301.37" y="82.95" width="3.703" height="5.70" fill="#dddbde" opacity="0.15"/><rect x="301.37" y="89.25" width="3.703" height="6.00" fill="#d6601f" opacity="0.4"/><rect x="305.07" y="82.95" width="3.703" height="5.70" fill="#dddbde" opacity="0.15"/><rect x="305.07" y="89.25" width="3.703" height="6.00" fill="#d6601f" opacity="0.4"/><rect x="308.77" y="82.95" width="3.703" height="5.70" fill="#dddbde" opacity="0.15"/><rect x="308.77" y="89.25" width="3.703" height="6.00" fill="#d6601f" opacity="0.4"/><rect x="312.48" y="82.95" width="3.703" height="5.70" fill="#dddbde" opacity="0.15"/><rect x="312.48" y="89.25" width="3.703" height="6.00" fill="#d6601f" opacity="0.4"/><rect x="316.18" y="82.95" width="3.703" height="5.70" fill="#dddbde" opacity="0.15"/><rect x="316.18" y="89.25" width="3.703" height="6.00" fill="#d6601f" opacity="0.4"/><rect x="319.88" y="82.95" width="3.703" height="5.70" fill="#dddbde" opacity="0.15"/><rect x="319.88" y="89.25" width="3.703" height="6.00" fill="#d6601f" opacity="0.4"/><rect x="323.58" y="82.95" width="3.703" height="5.70" fill="#dddbde" opacity="0.15"/><rect x="323.58" y="89.25" width="3.703" height="6.00" fill="#d6601f" opacity="0.4"/><rect x="327.29" y="82.95" width="3.703" height="5.70" fill="#dddbde" opacity="0.15"/><rect x="327.29" y="89.25" width="3.703" height="6.00" fill="#d6601f" opacity="0.4"/><rect x="330.99" y="82.95" width="3.703" height="5.70" fill="#dddbde" opacity="0.15"/><rect x="330.99" y="89.25" width="3.703" height="6.00" fill="#d6601f" opacity="0.4"/><rect x="334.69" y="82.95" width="3.703" height="5.70" fill="#dddbde" opacity="0.15"/><rect x="334.69" y="89.25" width="3.703" height="6.00" fill="#d6601f" opacity="0.4"/><rect x="338.39" y="82.95" width="3.703" height="5.70" fill="#dddbde" opacity="0.15"/><rect x="338.39" y="89.25" width="3.703" height="6.00" fill="#d6601f" opacity="0.4"/><rect x="342.10" y="82.95" width="3.703" height="5.70" fill="#dddbde" opacity="0.15"/><rect x="342.10" y="89.25" width="3.703" height="6.00" fill="#d6601f" opacity="0.4"/><rect x="345.80" y="82.95" width="3.703" height="5.70" fill="#dddbde" opacity="0.15"/><rect x="345.80" y="89.25" width="3.703" height="6.00" fill="#d6601f" opacity="0.4"/><rect x="349.50" y="82.95" width="3.703" height="5.70" fill="#dddbde" opacity="0.15"/><rect x="349.50" y="89.25" width="3.703" height="6.00" fill="#d6601f" opacity="0.4"/><rect x="353.20" y="82.95" width="3.703" height="5.70" fill="#dddbde" opacity="0.15"/><rect x="353.20" y="89.25" width="3.703" height="6.00" fill="#d6601f" opacity="0.4"/><rect x="356.91" y="82.95" width="3.703" height="5.70" fill="#dddbde" opacity="0.15"/><rect x="356.91" y="89.25" width="3.703" height="6.00" fill="#d6601f" opacity="0.4"/><rect x="360.61" y="82.95" width="3.703" height="5.70" fill="#dddbde" opacity="0.15"/><rect x="360.61" y="89.25" width="3.703" height="6.00" fill="#d6601f" opacity="0.4"/><rect x="364.31" y="82.95" width="3.703" height="5.70" fill="#dddbde" opacity="0.15"/><rect x="364.31" y="89.25" width="3.703" height="6.00" fill="#d6601f" opacity="0.4"/><rect x="368.01" y="82.95" width="3.703" height="5.70" fill="#dddbde" opacity="0.15"/><rect x="368.01" y="89.25" width="3.703" height="6.00" fill="#d6601f" opacity="0.4"/><rect x="371.72" y="82.95" width="3.703" height="5.70" fill="#dddbde" opacity="0.15"/><rect x="371.72" y="89.25" width="3.703" height="6.00" fill="#d6601f" opacity="0.4"/><rect x="375.42" y="82.95" width="3.703" height="5.70" fill="#dddbde" opacity="0.15"/><rect x="375.42" y="89.25" width="3.703" height="6.00" fill="#d6601f" opacity="0.4"/><rect x="379.12" y="82.95" width="3.703" height="5.70" fill="#dddbde" opacity="0.15"/><rect x="379.12" y="89.25" width="3.703" height="6.00" fill="#d6601f" opacity="0.4"/><rect x="382.82" y="82.95" width="3.703" height="5.70" fill="#dddbde" opacity="0.15"/><rect x="382.82" y="89.25" width="3.703" height="6.00" fill="#d6601f" opacity="0.4"/><rect x="386.53" y="82.95" width="3.703" height="5.70" fill="#dddbde" opacity="0.15"/><rect x="386.53" y="89.25" width="3.703" height="6.00" fill="#d6601f" opacity="0.4"/><rect x="390.23" y="82.95" width="3.703" height="5.70" fill="#dddbde" opacity="0.15"/><rect x="390.23" y="89.25" width="3.703" height="6.00" fill="#d6601f" opacity="0.4"/><rect x="393.93" y="82.95" width="3.703" height="5.70" fill="#dddbde" opacity="0.15"/><rect x="393.93" y="89.25" width="3.703" height="6.00" fill="#d6601f" opacity="0.4"/><rect x="397.63" y="82.95" width="3.703" height="5.70" fill="#dddbde" opacity="0.15"/><rect x="397.63" y="89.25" width="3.703" height="6.00" fill="#d6601f" opacity="0.4"/><rect x="401.34" y="82.95" width="3.703" height="5.70" fill="#dddbde" opacity="0.15"/><rect x="401.34" y="89.25" width="3.703" height="6.00" fill="#d6601f" opacity="0.4"/><rect x="405.04" y="82.95" width="3.703" height="5.70" fill="#dddbde" opacity="0.15"/><rect x="405.04" y="89.25" width="3.703" height="6.00" fill="#d6601f" opacity="0.4"/><rect x="408.74" y="82.95" width="3.703" height="5.70" fill="#dddbde" opacity="0.15"/><rect x="408.74" y="89.25" width="3.703" height="6.00" fill="#d6601f" opacity="0.4"/><rect x="412.44" y="82.95" width="3.703" height="5.70" fill="#dddbde" opacity="0.15"/><rect x="412.44" y="89.25" width="3.703" height="6.00" fill="#d6601f" opacity="0.4"/><rect x="416.15" y="82.95" width="3.703" height="5.70" fill="#dddbde" opacity="0.15"/><rect x="416.15" y="89.25" width="3.703" height="6.00" fill="#d6601f" opacity="0.4"/><rect x="419.85" y="82.95" width="3.703" height="5.70" fill="#dddbde" opacity="0.15"/><rect x="419.85" y="89.25" width="3.703" height="6.00" fill="#d6601f" opacity="0.4"/><rect x="423.55" y="82.95" width="3.703" height="5.70" fill="#dddbde" opacity="0.15"/><rect x="423.55" y="89.25" width="3.703" height="6.00" fill="#d6601f" opacity="0.4"/><rect x="427.25" y="82.95" width="3.703" height="5.70" fill="#dddbde" opacity="0.15"/><rect x="427.25" y="89.25" width="3.703" height="6.00" fill="#d6601f" opacity="0.4"/><rect x="430.96" y="82.95" width="3.703" height="5.70" fill="#dddbde" opacity="0.15"/><rect x="430.96" y="89.25" width="3.703" height="6.00" fill="#d6601f" opacity="0.4"/><rect x="434.66" y="82.95" width="3.703" height="5.70" fill="#dddbde" opacity="0.15"/><rect x="434.66" y="89.25" width="3.703" height="6.00" fill="#d6601f" opacity="0.4"/><rect x="438.36" y="82.95" width="3.703" height="5.70" fill="#dddbde" opacity="0.15"/><rect x="438.36" y="89.25" width="3.703" height="6.00" fill="#d6601f" opacity="0.4"/><rect x="442.06" y="82.95" width="3.703" height="5.70" fill="#dddbde" opacity="0.15"/><rect x="442.06" y="89.25" width="3.703" height="6.00" fill="#d6601f" opacity="0.4"/><rect x="445.77" y="82.95" width="3.703" height="5.70" fill="#dddbde" opacity="0.15"/><rect x="445.77" y="89.25" width="3.703" height="6.00" fill="#d6601f" opacity="0.4"/><rect x="449.47" y="82.95" width="3.703" height="5.70" fill="#dddbde" opacity="0.15"/><rect x="449.47" y="89.25" width="3.703" height="6.00" fill="#d6601f" opacity="0.4"/><rect x="453.17" y="82.95" width="3.703" height="5.70" fill="#dddbde" opacity="0.15"/><rect x="453.17" y="89.25" width="3.703" height="6.00" fill="#d6601f" opacity="0.4"/><rect x="456.87" y="82.95" width="3.703" height="5.70" fill="#dddbde" opacity="0.15"/><rect x="456.87" y="89.25" width="3.703" height="6.00" fill="#d6601f" opacity="0.4"/><rect x="460.58" y="82.95" width="3.703" height="5.70" fill="#dddbde" opacity="0.15"/><rect x="460.58" y="89.25" width="3.703" height="6.00" fill="#d6601f" opacity="0.4"/><rect x="464.28" y="82.95" width="3.703" height="5.70" fill="#dddbde" opacity="0.15"/><rect x="464.28" y="89.25" width="3.703" height="6.00" fill="#d6601f" opacity="0.4"/><rect x="467.98" y="82.95" width="3.703" height="5.70" fill="#dddbde" opacity="0.15"/><rect x="467.98" y="89.25" width="3.703" height="6.00" fill="#d6601f" opacity="0.4"/><rect x="471.68" y="82.95" width="3.703" height="5.70" fill="#dddbde" opacity="0.15"/><rect x="471.68" y="89.25" width="3.703" height="6.00" fill="#d6601f" opacity="0.4"/><rect x="475.39" y="82.95" width="3.703" height="5.70" fill="#dddbde" opacity="0.15"/><rect x="475.39" y="89.25" width="3.703" height="6.00" fill="#d6601f" opacity="0.4"/><rect x="479.09" y="82.95" width="3.703" height="5.70" fill="#dddbde" opacity="0.15"/><rect x="479.09" y="89.25" width="3.703" height="6.00" fill="#d6601f" opacity="0.4"/><rect x="482.79" y="82.95" width="3.703" height="5.70" fill="#dddbde" opacity="0.15"/><rect x="482.79" y="89.25" width="3.703" height="6.00" fill="#d6601f" opacity="0.4"/><rect x="486.49" y="82.95" width="3.703" height="5.70" fill="#dddbde" opacity="0.15"/><rect x="486.49" y="89.25" width="3.703" height="6.00" fill="#d6601f" opacity="0.4"/><rect x="490.20" y="82.95" width="3.703" height="5.70" fill="#dddbde" opacity="0.15"/><rect x="490.20" y="89.25" width="3.703" height="6.00" fill="#d6601f" opacity="0.4"/><rect x="493.90" y="82.95" width="3.703" height="5.70" fill="#dddbde" opacity="0.15"/><rect x="493.90" y="89.25" width="3.703" height="6.00" fill="#d6601f" opacity="0.4"/><rect x="497.60" y="82.95" width="3.703" height="5.70" fill="#dddbde" opacity="0.15"/><rect x="497.60" y="89.25" width="3.703" height="6.00" fill="#d6601f" opacity="0.4"/><rect x="501.30" y="82.95" width="3.703" height="5.70" fill="#dddbde" opacity="0.15"/><rect x="501.30" y="89.25" width="3.703" height="6.00" fill="#d6601f" opacity="0.4"/><rect x="505.01" y="82.95" width="3.703" height="5.70" fill="#dddbde" opacity="0.15"/><rect x="505.01" y="89.25" width="3.703" height="6.00" fill="#d6601f" opacity="0.4"/><rect x="508.71" y="82.95" width="3.703" height="5.70" fill="#dddbde" opacity="0.15"/><rect x="508.71" y="89.25" width="3.703" height="6.00" fill="#d6601f" opacity="0.4"/></g>
<g><rect x="50.33" y="22.50" width="2.25" height="5.5" fill="#e3e3e8"/><rect x="50.33" y="29.50" width="2.25" height="5.5" fill="#d2631c"/><rect x="50.33" y="36.50" width="2.25" height="5.5" fill="#e78c7c"/><rect x="50.33" y="43.20" width="2.25" height="5.5" fill="#000000"/><rect x="54.03" y="22.50" width="2.25" height="5.5" fill="#000000"/><rect x="54.03" y="29.50" width="2.25" height="5.5" fill="#d2631c"/><rect x="54.03" y="36.50" width="2.25" height="5.5" fill="#e78c7c"/><rect x="54.03" y="43.20" width="2.25" height="5.5" fill="#000000"/><rect x="57.73" y="22.50" width="2.25" height="5.5" fill="#000000"/><rect x="57.73" y="29.50" width="2.25" height="5.5" fill="#2b1b8c"/><rect x="57.73" y="36.50" width="2.25" height="5.5" fill="#db5f1c"/><rect x="57.73" y="43.20" width="2.25" height="5.5" fill="#000000"/><rect x="61.43" y="22.50" width="2.25" height="5.5" fill="#000000"/><rect x="61.43" y="29.50" width="2.25" height="5.5" fill="#d2631c"/><rect x="61.43" y="36.50" width="2.25" height="5.5" fill="#f6c9c5"/><rect x="61.43" y="43.20" width="2.25" height="5.5" fill="#000000"/><rect x="65.14" y="22.50" width="2.25" height="5.5" fill="#000000"/><rect x="65.14" y="29.50" width="2.25" height="5.5" fill="#2b1b8c"/><rect x="65.14" y="36.50" width="2.25" height="5.5" fill="#db5f1c"/><rect x="65.14" y="43.20" width="2.25" height="5.5" fill="#000000"/><rect x="68.84" y="22.50" width="2.25" height="5.5" fill="#000000"/><rect x="68.84" y="29.50" width="2.25" height="5.5" fill="#2b1b8c"/><rect x="68.84" y="36.50" width="2.25" height="5.5" fill="#db5f1c"/><rect x="68.84" y="43.20" width="2.25" height="5.5" fill="#000000"/><rect x="72.54" y="22.50" width="2.25" height="5.5" fill="#000000"/><rect x="72.54" y="29.50" width="2.25" height="5.5" fill="#2b1b8c"/><rect x="72.54" y="36.50" width="2.25" height="5.5" fill="#e78c7c"/><rect x="72.54" y="43.20" width="2.25" height="5.5" fill="#000000"/><rect x="76.24" y="22.50" width="2.25" height="5.5" fill="#e3e3e8"/><rect x="76.24" y="29.50" width="2.25" height="5.5" fill="#d2631c"/><rect x="76.24" y="36.50" width="2.25" height="5.5" fill="#db5f1c"/><rect x="76.24" y="43.20" width="2.25" height="5.5" fill="#000000"/><rect x="79.95" y="22.50" width="2.25" height="5.5" fill="#000000"/><rect x="79.95" y="29.50" width="2.25" height="5.5" fill="#d2631c"/><rect x="79.95" y="36.50" width="2.25" height="5.5" fill="#e78c7c"/><rect x="79.95" y="43.20" width="2.25" height="5.5" fill="#000000"/><rect x="83.65" y="22.50" width="2.25" height="5.5" fill="#000000"/><rect x="83.65" y="29.50" width="2.25" height="5.5" fill="#d2631c"/><rect x="83.65" y="36.50" width="2.25" height="5.5" fill="#e78c7c"/><rect x="83.65" y="43.20" width="2.25" height="5.5" fill="#000000"/><rect x="87.35" y="22.50" width="2.25" height="5.5" fill="#000000"/><rect x="87.35" y="29.50" width="2.25" height="5.5" fill="#2b1b8c"/><rect x="87.35" y="36.50" width="2.25" height="5.5" fill="#e78c7c"/><rect x="87.35" y="43.20" width="2.25" height="5.5" fill="#000000"/><rect x="91.05" y="22.50" width="2.25" height="5.5" fill="#000000"/><rect x="91.05" y="29.50" width="2.25" height="5.5" fill="#2b1b8c"/><rect x="91.05" y="36.50" width="2.25" height="5.5" fill="#db5f1c"/><rect x="91.05" y="43.20" width="2.25" height="5.5" fill="#000000"/><rect x="94.75" y="22.50" width="2.25" height="5.5" fill="#000000"/><rect x="94.75" y="29.50" width="2.25" height="5.5" fill="#2b1b8c"/><rect x="94.75" y="36.50" width="2.25" height="5.5" fill="#e78c7c"/><rect x="94.75" y="43.20" width="2.25" height="5.5" fill="#000000"/><rect x="98.46" y="22.50" width="2.25" height="5.5" fill="#000000"/><rect x="98.46" y="29.50" width="2.25" height="5.5" fill="#2b1b8c"/><rect x="98.46" y="36.50" width="2.25" height="5.5" fill="#db5f1c"/><rect x="98.46" y="43.20" width="2.25" height="5.5" fill="#000000"/><rect x="102.16" y="22.50" width="2.25" height="5.5" fill="#000000"/><rect x="102.16" y="29.50" width="2.25" height="5.5" fill="#2b1b8c"/><rect x="102.16" y="36.50" width="2.25" height="5.5" fill="#db5f1c"/><rect x="102.16" y="43.20" width="2.25" height="5.5" fill="#000000"/><rect x="105.86" y="22.50" width="2.25" height="5.5" fill="#000000"/><rect x="105.86" y="29.50" width="2.25" height="5.5" fill="#2b1b8c"/><rect x="105.86" y="36.50" width="2.25" height="5.5" fill="#db5f1c"/><rect x="105.86" y="43.20" width="2.25" height="5.5" fill="#000000"/><rect x="109.56" y="22.50" width="2.25" height="5.5" fill="#000000"/><rect x="109.56" y="29.50" width="2.25" height="5.5" fill="#2b1b8c"/><rect x="109.56" y="36.50" width="2.25" height="5.5" fill="#f6c9c5"/><rect x="109.56" y="43.20" width="2.25" height="5.5" fill="#000000"/><rect x="113.27" y="22.50" width="2.25" height="5.5" fill="#000000"/><rect x="113.27" y="29.50" width="2.25" height="5.5" fill="#2b1b8c"/><rect x="113.27" y="36.50" width="2.25" height="5.5" fill="#f6c9c5"/><rect x="113.27" y="43.20" width="2.25" height="5.5" fill="#000000"/><rect x="116.97" y="22.50" width="2.25" height="5.5" fill="#000000"/><rect x="116.97" y="29.50" width="2.25" height="5.5" fill="#d2631c"/><rect x="116.97" y="36.50" width="2.25" height="5.5" fill="#e78c7c"/><rect x="116.97" y="43.20" width="2.25" height="5.5" fill="#000000"/><rect x="120.67" y="22.50" width="2.25" height="5.5" fill="#e3e3e8"/><rect x="120.67" y="29.50" width="2.25" height="5.5" fill="#2b1b8c"/><rect x="120.67" y="36.50" width="2.25" height="5.5" fill="#f6c9c5"/><rect x="120.67" y="43.20" width="2.25" height="5.5" fill="#000000"/><rect x="124.38" y="22.50" width="2.25" height="5.5" fill="#000000"/><rect x="124.38" y="29.50" width="2.25" height="5.5" fill="#2b1b8c"/><rect x="124.38" y="36.50" width="2.25" height="5.5" fill="#db5f1c"/><rect x="124.38" y="43.20" width="2.25" height="5.5" fill="#000000"/><rect x="128.08" y="22.50" width="2.25" height="5.5" fill="#000000"/><rect x="128.08" y="29.50" width="2.25" height="5.5" fill="#2b1b8c"/><rect x="128.08" y="36.50" width="2.25" height="5.5" fill="#db5f1c"/><rect x="128.08" y="43.20" width="2.25" height="5.5" fill="#000000"/><rect x="131.78" y="22.50" width="2.25" height="5.5" fill="#000000"/><rect x="131.78" y="29.50" width="2.25" height="5.5" fill="#2b1b8c"/><rect x="131.78" y="36.50" width="2.25" height="5.5" fill="#f6c9c5"/><rect x="131.78" y="43.20" width="2.25" height="5.5" fill="#000000"/><rect x="135.48" y="22.50" width="2.25" height="5.5" fill="#e3e3e8"/><rect x="135.48" y="29.50" width="2.25" height="5.5" fill="#d2631c"/><rect x="135.48" y="36.50" width="2.25" height="5.5" fill="#f6c9c5"/><rect x="135.48" y="43.20" width="2.25" height="5.5" fill="#000000"/><rect x="139.19" y="22.50" width="2.25" height="5.5" fill="#000000"/><rect x="139.19" y="29.50" width="2.25" height="5.5" fill="#2b1b8c"/><rect x="139.19" y="36.50" width="2.25" height="5.5" fill="#db5f1c"/><rect x="139.19" y="43.20" width="2.25" height="5.5" fill="#000000"/><rect x="142.89" y="22.50" width="2.25" height="5.5" fill="#000000"/><rect x="142.89" y="29.50" width="2.25" height="5.5" fill="#d2631c"/><rect x="142.89" y="36.50" width="2.25" height="5.5" fill="#f6c9c5"/><rect x="142.89" y="43.20" width="2.25" height="5.5" fill="#000000"/><rect x="146.59" y="22.50" width="2.25" height="5.5" fill="#000000"/><rect x="146.59" y="29.50" width="2.25" height="5.5" fill="#2b1b8c"/><rect x="146.59" y="36.50" width="2.25" height="5.5" fill="#f6c9c5"/><rect x="146.59" y="43.20" width="2.25" height="5.5" fill="#000000"/><rect x="150.29" y="22.50" width="2.25" height="5.5" fill="#000000"/><rect x="150.29" y="29.50" width="2.25" height="5.5" fill="#d2631c"/><rect x="150.29" y="36.50" width="2.25" height="5.5" fill="#db5f1c"/><rect x="150.29" y="43.20" width="2.25" height="5.5" fill="#000000"/><rect x="154.00" y="22.50" width="2.25" height="5.5" fill="#000000"/><rect x="154.00" y="29.50" width="2.25" height="5.5" fill="#d2631c"/><rect x="154.00" y="36.50" width="2.25" height="5.5" fill="#e78c7c"/><rect x="154.00" y="43.20" width="2.25" height="5.5" fill="#000000"/><rect x="157.70" y="22.50" width="2.25" height="5.5" fill="#000000"/><rect x="157.70" y="29.50" width="2.25" height="5.5" fill="#2b1b8c"/><rect x="157.70" y="36.50" width="2.25" height="5.5" fill="#f6c9c5"/><rect x="157.70" y="43.20" width="2.25" height="5.5" fill="#000000"/><rect x="161.40" y="22.50" width="2.25" height="5.5" fill="#000000"/><rect x="161.40" y="29.50" width="2.25" height="5.5" fill="#d2631c"/><rect x="161.40" y="36.50" width="2.25" height="5.5" fill="#f6c9c5"/><rect x="161.40" y="43.20" width="2.25" height="5.5" fill="#e3e3e8"/><rect x="165.10" y="22.50" width="2.25" height="5.5" fill="#000000"/><rect x="165.10" y="29.50" width="2.25" height="5.5" fill="#2b1b8c"/><rect x="165.10" y="36.50" width="2.25" height="5.5" fill="#f6c9c5"/><rect x="165.10" y="43.20" width="2.25" height="5.5" fill="#000000"/><rect x="168.81" y="22.50" width="2.25" height="5.5" fill="#000000"/><rect x="168.81" y="29.50" width="2.25" height="5.5" fill="#2b1b8c"/><rect x="168.81" y="36.50" width="2.25" height="5.5" fill="#f6c9c5"/><rect x="168.81" y="43.20" width="2.25" height="5.5" fill="#000000"/><rect x="172.51" y="22.50" width="2.25" height="5.5" fill="#000000"/><rect x="172.51" y="29.50" width="2.25" height="5.5" fill="#2b1b8c"/><rect x="172.51" y="36.50" width="2.25" height="5.5" fill="#e78c7c"/><rect x="172.51" y="43.20" width="2.25" height="5.5" fill="#000000"/><rect x="176.21" y="22.50" width="2.25" height="5.5" fill="#000000"/><rect x="176.21" y="29.50" width="2.25" height="5.5" fill="#d2631c"/><rect x="176.21" y="36.50" width="2.25" height="5.5" fill="#f6c9c5"/><rect x="176.21" y="43.20" width="2.25" height="5.5" fill="#000000"/><rect x="179.91" y="22.50" width="2.25" height="5.5" fill="#000000"/><rect x="179.91" y="29.50" width="2.25" height="5.5" fill="#2b1b8c"/><rect x="179.91" y="36.50" width="2.25" height="5.5" fill="#e78c7c"/><rect x="179.91" y="43.20" width="2.25" height="5.5" fill="#000000"/><rect x="183.62" y="22.50" width="2.25" height="5.5" fill="#000000"/><rect x="183.62" y="29.50" width="2.25" height="5.5" fill="#d2631c"/><rect x="183.62" y="36.50" width="2.25" height="5.5" fill="#e78c7c"/><rect x="183.62" y="43.20" width="2.25" height="5.5" fill="#000000"/><rect x="187.32" y="22.50" width="2.25" height="5.5" fill="#000000"/><rect x="187.32" y="29.50" width="2.25" height="5.5" fill="#2b1b8c"/><rect x="187.32" y="36.50" width="2.25" height="5.5" fill="#f6c9c5"/><rect x="187.32" y="43.20" width="2.25" height="5.5" fill="#000000"/><rect x="191.02" y="22.50" width="2.25" height="5.5" fill="#000000"/><rect x="191.02" y="29.50" width="2.25" height="5.5" fill="#d2631c"/><rect x="191.02" y="36.50" width="2.25" height="5.5" fill="#f6c9c5"/><rect x="191.02" y="43.20" width="2.25" height="5.5" fill="#000000"/><rect x="194.72" y="22.50" width="2.25" height="5.5" fill="#000000"/><rect x="194.72" y="29.50" width="2.25" height="5.5" fill="#2b1b8c"/><rect x="194.72" y="36.50" width="2.25" height="5.5" fill="#f6c9c5"/><rect x="194.72" y="43.20" width="2.25" height="5.5" fill="#000000"/><rect x="198.43" y="22.50" width="2.25" height="5.5" fill="#000000"/><rect x="198.43" y="29.50" width="2.25" height="5.5" fill="#2b1b8c"/><rect x="198.43" y="36.50" width="2.25" height="5.5" fill="#e78c7c"/><rect x="198.43" y="43.20" width="2.25" height="5.5" fill="#000000"/><rect x="202.13" y="22.50" width="2.25" height="5.5" fill="#000000"/><rect x="202.13" y="29.50" width="2.25" height="5.5" fill="#2b1b8c"/><rect x="202.13" y="36.50" width="2.25" height="5.5" fill="#f6c9c5"/><rect x="202.13" y="43.20" width="2.25" height="5.5" fill="#000000"/><rect x="205.83" y="22.50" width="2.25" height="5.5" fill="#000000"/><rect x="205.83" y="29.50" width="2.25" height="5.5" fill="#d2631c"/><rect x="205.83" y="36.50" width="2.25" height="5.5" fill="#f6c9c5"/><rect x="205.83" y="43.20" width="2.25" height="5.5" fill="#000000"/><rect x="209.53" y="22.50" width="2.25" height="5.5" fill="#000000"/><rect x="209.53" y="29.50" width="2.25" height="5.5" fill="#2b1b8c"/><rect x="209.53" y="36.50" width="2.25" height="5.5" fill="#db5f1c"/><rect x="209.53" y="43.20" width="2.25" height="5.5" fill="#000000"/><rect x="213.24" y="22.50" width="2.25" height="5.5" fill="#000000"/><rect x="213.24" y="29.50" width="2.25" height="5.5" fill="#d2631c"/><rect x="213.24" y="36.50" width="2.25" height="5.5" fill="#f6c9c5"/><rect x="213.24" y="43.20" width="2.25" height="5.5" fill="#000000"/><rect x="216.94" y="22.50" width="2.25" height="5.5" fill="#000000"/><rect x="216.94" y="29.50" width="2.25" height="5.5" fill="#2b1b8c"/><rect x="216.94" y="36.50" width="2.25" height="5.5" fill="#f6c9c5"/><rect x="216.94" y="43.20" width="2.25" height="5.5" fill="#000000"/><rect x="220.64" y="22.50" width="2.25" height="5.5" fill="#000000"/><rect x="220.64" y="29.50" width="2.25" height="5.5" fill="#2b1b8c"/><rect x="220.64" y="36.50" width="2.25" height="5.5" fill="#e78c7c"/><rect x="220.64" y="43.20" width="2.25" height="5.5" fill="#000000"/><rect x="224.34" y="22.50" width="2.25" height="5.5" fill="#000000"/><rect x="224.34" y="29.50" width="2.25" height="5.5" fill="#d2631c"/><rect x="224.34" y="36.50" width="2.25" height="5.5" fill="#f6c9c5"/><rect x="224.34" y="43.20" width="2.25" height="5.5" fill="#000000"/><rect x="228.05" y="22.50" width="2.25" height="5.5" fill="#000000"/><rect x="228.05" y="29.50" width="2.25" height="5.5" fill="#2b1b8c"/><rect x="228.05" y="36.50" width="2.25" height="5.5" fill="#e78c7c"/><rect x="228.05" y="43.20" width="2.25" height="5.5" fill="#000000"/><rect x="231.75" y="22.50" width="2.25" height="5.5" fill="#000000"/><rect x="231.75" y="29.50" width="2.25" height="5.5" fill="#2b1b8c"/><rect x="231.75" y="36.50" width="2.25" height="5.5" fill="#e78c7c"/><rect x="231.75" y="43.20" width="2.25" height="5.5" fill="#000000"/><rect x="235.45" y="22.50" width="2.25" height="5.5" fill="#e3e3e8"/><rect x="235.45" y="29.50" width="2.25" height="5.5" fill="#d2631c"/><rect x="235.45" y="36.50" width="2.25" height="5.5" fill="#e78c7c"/><rect x="235.45" y="43.20" width="2.25" height="5.5" fill="#000000"/><rect x="239.15" y="22.50" width="2.25" height="5.5" fill="#000000"/><rect x="239.15" y="29.50" width="2.25" height="5.5" fill="#2b1b8c"/><rect x="239.15" y="36.50" width="2.25" height="5.5" fill="#e78c7c"/><rect x="239.15" y="43.20" width="2.25" height="5.5" fill="#000000"/><rect x="242.86" y="22.50" width="2.25" height="5.5" fill="#000000"/><rect x="242.86" y="29.50" width="2.25" height="5.5" fill="#2b1b8c"/><rect x="242.86" y="36.50" width="2.25" height="5.5" fill="#e78c7c"/><rect x="242.86" y="43.20" width="2.25" height="5.5" fill="#000000"/><rect x="246.56" y="22.50" width="2.25" height="5.5" fill="#000000"/><rect x="246.56" y="29.50" width="2.25" height="5.5" fill="#d2631c"/><rect x="246.56" y="36.50" width="2.25" height="5.5" fill="#f6c9c5"/><rect x="246.56" y="43.20" width="2.25" height="5.5" fill="#000000"/><rect x="250.26" y="22.50" width="2.25" height="5.5" fill="#000000"/><rect x="250.26" y="29.50" width="2.25" height="5.5" fill="#d2631c"/><rect x="250.26" y="36.50" width="2.25" height="5.5" fill="#f6c9c5"/><rect x="250.26" y="43.20" width="2.25" height="5.5" fill="#000000"/><rect x="253.96" y="22.50" width="2.25" height="5.5" fill="#000000"/><rect x="253.96" y="29.50" width="2.25" height="5.5" fill="#d2631c"/><rect x="253.96" y="36.50" width="2.25" height="5.5" fill="#f6c9c5"/><rect x="253.96" y="43.20" width="2.25" height="5.5" fill="#000000"/><rect x="257.67" y="22.50" width="2.25" height="5.5" fill="#000000"/><rect x="257.67" y="29.50" width="2.25" height="5.5" fill="#2b1b8c"/><rect x="257.67" y="36.50" width="2.25" height="5.5" fill="#e78c7c"/><rect x="257.67" y="43.20" width="2.25" height="5.5" fill="#000000"/><rect x="261.37" y="22.50" width="2.25" height="5.5" fill="#000000"/><rect x="261.37" y="29.50" width="2.25" height="5.5" fill="#d2631c"/><rect x="261.37" y="36.50" width="2.25" height="5.5" fill="#f6c9c5"/><rect x="261.37" y="43.20" width="2.25" height="5.5" fill="#000000"/><rect x="265.07" y="22.50" width="2.25" height="5.5" fill="#000000"/><rect x="265.07" y="29.50" width="2.25" height="5.5" fill="#2b1b8c"/><rect x="265.07" y="36.50" width="2.25" height="5.5" fill="#db5f1c"/><rect x="265.07" y="43.20" width="2.25" height="5.5" fill="#000000"/><rect x="268.77" y="22.50" width="2.25" height="5.5" fill="#000000"/><rect x="268.77" y="29.50" width="2.25" height="5.5" fill="#d2631c"/><rect x="268.77" y="36.50" width="2.25" height="5.5" fill="#db5f1c"/><rect x="268.77" y="43.20" width="2.25" height="5.5" fill="#000000"/><rect x="272.48" y="22.50" width="2.25" height="5.5" fill="#000000"/><rect x="272.48" y="29.50" width="2.25" height="5.5" fill="#d2631c"/><rect x="272.48" y="36.50" width="2.25" height="5.5" fill="#e78c7c"/><rect x="272.48" y="43.20" width="2.25" height="5.5" fill="#000000"/><rect x="276.18" y="22.50" width="2.25" height="5.5" fill="#e3e3e8"/><rect x="276.18" y="29.50" width="2.25" height="5.5" fill="#2b1b8c"/><rect x="276.18" y="36.50" width="2.25" height="5.5" fill="#db5f1c"/><rect x="276.18" y="43.20" width="2.25" height="5.5" fill="#000000"/><rect x="279.88" y="22.50" width="2.25" height="5.5" fill="#e3e3e8"/><rect x="279.88" y="29.50" width="2.25" height="5.5" fill="#2b1b8c"/><rect x="279.88" y="36.50" width="2.25" height="5.5" fill="#f6c9c5"/><rect x="279.88" y="43.20" width="2.25" height="5.5" fill="#000000"/><rect x="283.58" y="22.50" width="2.25" height="5.5" fill="#e3e3e8"/><rect x="283.58" y="29.50" width="2.25" height="5.5" fill="#d2631c"/><rect x="283.58" y="36.50" width="2.25" height="5.5" fill="#db5f1c"/><rect x="283.58" y="43.20" width="2.25" height="5.5" fill="#000000"/><rect x="287.29" y="22.50" width="2.25" height="5.5" fill="#e3e3e8"/><rect x="287.29" y="29.50" width="2.25" height="5.5" fill="#d2631c"/><rect x="287.29" y="36.50" width="2.25" height="5.5" fill="#e78c7c"/><rect x="287.29" y="43.20" width="2.25" height="5.5" fill="#000000"/><rect x="290.99" y="22.50" width="2.25" height="5.5" fill="#e3e3e8"/><rect x="290.99" y="29.50" width="2.25" height="5.5" fill="#2b1b8c"/><rect x="290.99" y="36.50" width="2.25" height="5.5" fill="#e78c7c"/><rect x="290.99" y="43.20" width="2.25" height="5.5" fill="#000000"/><rect x="294.69" y="22.50" width="2.25" height="5.5" fill="#e3e3e8"/><rect x="294.69" y="29.50" width="2.25" height="5.5" fill="#2b1b8c"/><rect x="294.69" y="36.50" width="2.25" height="5.5" fill="#f6c9c5"/><rect x="294.69" y="43.20" width="2.25" height="5.5" fill="#e3e3e8"/><rect x="298.39" y="22.50" width="2.25" height="5.5" fill="#e3e3e8"/><rect x="298.39" y="29.50" width="2.25" height="5.5" fill="#d2631c"/><rect x="298.39" y="36.50" width="2.25" height="5.5" fill="#db5f1c"/><rect x="298.39" y="43.20" width="2.25" height="5.5" fill="#000000"/><rect x="302.10" y="22.50" width="2.25" height="5.5" fill="#000000"/><rect x="302.10" y="29.50" width="2.25" height="5.5" fill="#d2631c"/><rect x="302.10" y="36.50" width="2.25" height="5.5" fill="#e78c7c"/><rect x="302.10" y="43.20" width="2.25" height="5.5" fill="#000000"/><rect x="305.80" y="22.50" width="2.25" height="5.5" fill="#000000"/><rect x="305.80" y="29.50" width="2.25" height="5.5" fill="#2b1b8c"/><rect x="305.80" y="36.50" width="2.25" height="5.5" fill="#e78c7c"/><rect x="305.80" y="43.20" width="2.25" height="5.5" fill="#000000"/><rect x="309.50" y="22.50" width="2.25" height="5.5" fill="#000000"/><rect x="309.50" y="29.50" width="2.25" height="5.5" fill="#2b1b8c"/><rect x="309.50" y="36.50" width="2.25" height="5.5" fill="#e78c7c"/><rect x="309.50" y="43.20" width="2.25" height="5.5" fill="#000000"/><rect x="313.20" y="22.50" width="2.25" height="5.5" fill="#000000"/><rect x="313.20" y="29.50" width="2.25" height="5.5" fill="#2b1b8c"/><rect x="313.20" y="36.50" width="2.25" height="5.5" fill="#e78c7c"/><rect x="313.20" y="43.20" width="2.25" height="5.5" fill="#000000"/><rect x="316.90" y="22.50" width="2.25" height="5.5" fill="#000000"/><rect x="316.90" y="29.50" width="2.25" height="5.5" fill="#2b1b8c"/><rect x="316.90" y="36.50" width="2.25" height="5.5" fill="#e78c7c"/><rect x="316.90" y="43.20" width="2.25" height="5.5" fill="#000000"/><rect x="320.61" y="22.50" width="2.25" height="5.5" fill="#000000"/><rect x="320.61" y="29.50" width="2.25" height="5.5" fill="#2b1b8c"/><rect x="320.61" y="36.50" width="2.25" height="5.5" fill="#db5f1c"/><rect x="320.61" y="43.20" width="2.25" height="5.5" fill="#000000"/><rect x="324.31" y="22.50" width="2.25" height="5.5" fill="#e3e3e8"/><rect x="324.31" y="29.50" width="2.25" height="5.5" fill="#2b1b8c"/><rect x="324.31" y="36.50" width="2.25" height="5.5" fill="#e78c7c"/><rect x="324.31" y="43.20" width="2.25" height="5.5" fill="#000000"/><rect x="328.01" y="22.50" width="2.25" height="5.5" fill="#000000"/><rect x="328.01" y="29.50" width="2.25" height="5.5" fill="#2b1b8c"/><rect x="328.01" y="36.50" width="2.25" height="5.5" fill="#f6c9c5"/><rect x="328.01" y="43.20" width="2.25" height="5.5" fill="#e3e3e8"/><rect x="331.71" y="22.50" width="2.25" height="5.5" fill="#e3e3e8"/><rect x="331.71" y="29.50" width="2.25" height="5.5" fill="#d2631c"/><rect x="331.71" y="36.50" width="2.25" height="5.5" fill="#e78c7c"/><rect x="331.71" y="43.20" width="2.25" height="5.5" fill="#000000"/><rect x="335.42" y="22.50" width="2.25" height="5.5" fill="#000000"/><rect x="335.42" y="29.50" width="2.25" height="5.5" fill="#2b1b8c"/><rect x="335.42" y="36.50" width="2.25" height="5.5" fill="#e78c7c"/><rect x="335.42" y="43.20" width="2.25" height="5.5" fill="#000000"/><rect x="339.12" y="22.50" width="2.25" height="5.5" fill="#e3e3e8"/><rect x="339.12" y="29.50" width="2.25" height="5.5" fill="#2b1b8c"/><rect x="339.12" y="36.50" width="2.25" height="5.5" fill="#f6c9c5"/><rect x="339.12" y="43.20" width="2.25" height="5.5" fill="#e3e3e8"/><rect x="342.82" y="22.50" width="2.25" height="5.5" fill="#000000"/><rect x="342.82" y="29.50" width="2.25" height="5.5" fill="#2b1b8c"/><rect x="342.82" y="36.50" width="2.25" height="5.5" fill="#f6c9c5"/><rect x="342.82" y="43.20" width="2.25" height="5.5" fill="#e3e3e8"/><rect x="346.52" y="22.50" width="2.25" height="5.5" fill="#000000"/><rect x="346.52" y="29.50" width="2.25" height="5.5" fill="#2b1b8c"/><rect x="346.52" y="36.50" width="2.25" height="5.5" fill="#db5f1c"/><rect x="346.52" y="43.20" width="2.25" height="5.5" fill="#000000"/><rect x="350.23" y="22.50" width="2.25" height="5.5" fill="#000000"/><rect x="350.23" y="29.50" width="2.25" height="5.5" fill="#2b1b8c"/><rect x="350.23" y="36.50" width="2.25" height="5.5" fill="#f6c9c5"/><rect x="350.23" y="43.20" width="2.25" height="5.5" fill="#000000"/><rect x="353.93" y="22.50" width="2.25" height="5.5" fill="#000000"/><rect x="353.93" y="29.50" width="2.25" height="5.5" fill="#d2631c"/><rect x="353.93" y="36.50" width="2.25" height="5.5" fill="#f6c9c5"/><rect x="353.93" y="43.20" width="2.25" height="5.5" fill="#000000"/><rect x="357.63" y="22.50" width="2.25" height="5.5" fill="#000000"/><rect x="357.63" y="29.50" width="2.25" height="5.5" fill="#d2631c"/><rect x="357.63" y="36.50" width="2.25" height="5.5" fill="#e78c7c"/><rect x="357.63" y="43.20" width="2.25" height="5.5" fill="#000000"/><rect x="361.33" y="22.50" width="2.25" height="5.5" fill="#000000"/><rect x="361.33" y="29.50" width="2.25" height="5.5" fill="#d2631c"/><rect x="361.33" y="36.50" width="2.25" height="5.5" fill="#f6c9c5"/><rect x="361.33" y="43.20" width="2.25" height="5.5" fill="#000000"/><rect x="365.04" y="22.50" width="2.25" height="5.5" fill="#000000"/><rect x="365.04" y="29.50" width="2.25" height="5.5" fill="#d2631c"/><rect x="365.04" y="36.50" width="2.25" height="5.5" fill="#e78c7c"/><rect x="365.04" y="43.20" width="2.25" height="5.5" fill="#e3e3e8"/><rect x="368.74" y="22.50" width="2.25" height="5.5" fill="#000000"/><rect x="368.74" y="29.50" width="2.25" height="5.5" fill="#2b1b8c"/><rect x="368.74" y="36.50" width="2.25" height="5.5" fill="#f6c9c5"/><rect x="368.74" y="43.20" width="2.25" height="5.5" fill="#e3e3e8"/><rect x="372.44" y="22.50" width="2.25" height="5.5" fill="#000000"/><rect x="372.44" y="29.50" width="2.25" height="5.5" fill="#2b1b8c"/><rect x="372.44" y="36.50" width="2.25" height="5.5" fill="#e78c7c"/><rect x="372.44" y="43.20" width="2.25" height="5.5" fill="#000000"/><rect x="376.14" y="22.50" width="2.25" height="5.5" fill="#000000"/><rect x="376.14" y="29.50" width="2.25" height="5.5" fill="#2b1b8c"/><rect x="376.14" y="36.50" width="2.25" height="5.5" fill="#e78c7c"/><rect x="376.14" y="43.20" width="2.25" height="5.5" fill="#000000"/><rect x="379.85" y="22.50" width="2.25" height="5.5" fill="#000000"/><rect x="379.85" y="29.50" width="2.25" height="5.5" fill="#2b1b8c"/><rect x="379.85" y="36.50" width="2.25" height="5.5" fill="#e78c7c"/><rect x="379.85" y="43.20" width="2.25" height="5.5" fill="#e3e3e8"/><rect x="383.55" y="22.50" width="2.25" height="5.5" fill="#000000"/><rect x="383.55" y="29.50" width="2.25" height="5.5" fill="#2b1b8c"/><rect x="383.55" y="36.50" width="2.25" height="5.5" fill="#e78c7c"/><rect x="383.55" y="43.20" width="2.25" height="5.5" fill="#000000"/><rect x="387.25" y="22.50" width="2.25" height="5.5" fill="#e3e3e8"/><rect x="387.25" y="29.50" width="2.25" height="5.5" fill="#2b1b8c"/><rect x="387.25" y="36.50" width="2.25" height="5.5" fill="#e78c7c"/><rect x="387.25" y="43.20" width="2.25" height="5.5" fill="#e3e3e8"/><rect x="390.95" y="22.50" width="2.25" height="5.5" fill="#e3e3e8"/><rect x="390.95" y="29.50" width="2.25" height="5.5" fill="#d2631c"/><rect x="390.95" y="36.50" width="2.25" height="5.5" fill="#db5f1c"/><rect x="390.95" y="43.20" width="2.25" height="5.5" fill="#e3e3e8"/><rect x="394.66" y="22.50" width="2.25" height="5.5" fill="#e3e3e8"/><rect x="394.66" y="29.50" width="2.25" height="5.5" fill="#d2631c"/><rect x="394.66" y="36.50" width="2.25" height="5.5" fill="#e78c7c"/><rect x="394.66" y="43.20" width="2.25" height="5.5" fill="#000000"/><rect x="398.36" y="22.50" width="2.25" height="5.5" fill="#000000"/><rect x="398.36" y="29.50" width="2.25" height="5.5" fill="#d2631c"/><rect x="398.36" y="36.50" width="2.25" height="5.5" fill="#f6c9c5"/><rect x="398.36" y="43.20" width="2.25" height="5.5" fill="#e3e3e8"/><rect x="402.06" y="22.50" width="2.25" height="5.5" fill="#000000"/><rect x="402.06" y="29.50" width="2.25" height="5.5" fill="#2b1b8c"/><rect x="402.06" y="36.50" width="2.25" height="5.5" fill="#e78c7c"/><rect x="402.06" y="43.20" width="2.25" height="5.5" fill="#000000"/><rect x="405.76" y="22.50" width="2.25" height="5.5" fill="#000000"/><rect x="405.76" y="29.50" width="2.25" height="5.5" fill="#d2631c"/><rect x="405.76" y="36.50" width="2.25" height="5.5" fill="#db5f1c"/><rect x="405.76" y="43.20" width="2.25" height="5.5" fill="#e3e3e8"/><rect x="409.47" y="22.50" width="2.25" height="5.5" fill="#e3e3e8"/><rect x="409.47" y="29.50" width="2.25" height="5.5" fill="#2b1b8c"/><rect x="409.47" y="36.50" width="2.25" height="5.5" fill="#e78c7c"/><rect x="409.47" y="43.20" width="2.25" height="5.5" fill="#e3e3e8"/><rect x="413.17" y="22.50" width="2.25" height="5.5" fill="#e3e3e8"/><rect x="413.17" y="29.50" width="2.25" height="5.5" fill="#d2631c"/><rect x="413.17" y="36.50" width="2.25" height="5.5" fill="#f6c9c5"/><rect x="413.17" y="43.20" width="2.25" height="5.5" fill="#000000"/><rect x="416.87" y="22.50" width="2.25" height="5.5" fill="#e3e3e8"/><rect x="416.87" y="29.50" width="2.25" height="5.5" fill="#d2631c"/><rect x="416.87" y="36.50" width="2.25" height="5.5" fill="#f6c9c5"/><rect x="416.87" y="43.20" width="2.25" height="5.5" fill="#e3e3e8"/><rect x="420.57" y="22.50" width="2.25" height="5.5" fill="#e3e3e8"/><rect x="420.57" y="29.50" width="2.25" height="5.5" fill="#2b1b8c"/><rect x="420.57" y="36.50" width="2.25" height="5.5" fill="#e78c7c"/><rect x="420.57" y="43.20" width="2.25" height="5.5" fill="#000000"/><rect x="424.28" y="22.50" width="2.25" height="5.5" fill="#e3e3e8"/><rect x="424.28" y="29.50" width="2.25" height="5.5" fill="#d2631c"/><rect x="424.28" y="36.50" width="2.25" height="5.5" fill="#f6c9c5"/><rect x="424.28" y="43.20" width="2.25" height="5.5" fill="#000000"/><rect x="427.98" y="22.50" width="2.25" height="5.5" fill="#000000"/><rect x="427.98" y="29.50" width="2.25" height="5.5" fill="#2b1b8c"/><rect x="427.98" y="36.50" width="2.25" height="5.5" fill="#f6c9c5"/><rect x="427.98" y="43.20" width="2.25" height="5.5" fill="#000000"/><rect x="431.68" y="22.50" width="2.25" height="5.5" fill="#e3e3e8"/><rect x="431.68" y="29.50" width="2.25" height="5.5" fill="#2b1b8c"/><rect x="431.68" y="36.50" width="2.25" height="5.5" fill="#f6c9c5"/><rect x="431.68" y="43.20" width="2.25" height="5.5" fill="#000000"/><rect x="435.38" y="22.50" width="2.25" height="5.5" fill="#e3e3e8"/><rect x="435.38" y="29.50" width="2.25" height="5.5" fill="#2b1b8c"/><rect x="435.38" y="36.50" width="2.25" height="5.5" fill="#f6c9c5"/><rect x="435.38" y="43.20" width="2.25" height="5.5" fill="#000000"/><rect x="439.09" y="22.50" width="2.25" height="5.5" fill="#000000"/><rect x="439.09" y="29.50" width="2.25" height="5.5" fill="#2b1b8c"/><rect x="439.09" y="36.50" width="2.25" height="5.5" fill="#e78c7c"/><rect x="439.09" y="43.20" width="2.25" height="5.5" fill="#000000"/><rect x="442.79" y="22.50" width="2.25" height="5.5" fill="#000000"/><rect x="442.79" y="29.50" width="2.25" height="5.5" fill="#d2631c"/><rect x="442.79" y="36.50" width="2.25" height="5.5" fill="#f6c9c5"/><rect x="442.79" y="43.20" width="2.25" height="5.5" fill="#e3e3e8"/><rect x="446.49" y="22.50" width="2.25" height="5.5" fill="#e3e3e8"/><rect x="446.49" y="29.50" width="2.25" height="5.5" fill="#d2631c"/><rect x="446.49" y="36.50" width="2.25" height="5.5" fill="#f6c9c5"/><rect x="446.49" y="43.20" width="2.25" height="5.5" fill="#000000"/><rect x="450.19" y="22.50" width="2.25" height="5.5" fill="#e3e3e8"/><rect x="450.19" y="29.50" width="2.25" height="5.5" fill="#d2631c"/><rect x="450.19" y="36.50" width="2.25" height="5.5" fill="#e78c7c"/><rect x="450.19" y="43.20" width="2.25" height="5.5" fill="#e3e3e8"/><rect x="453.90" y="22.50" width="2.25" height="5.5" fill="#000000"/><rect x="453.90" y="29.50" width="2.25" height="5.5" fill="#d2631c"/><rect x="453.90" y="36.50" width="2.25" height="5.5" fill="#db5f1c"/><rect x="453.90" y="43.20" width="2.25" height="5.5" fill="#000000"/><rect x="457.60" y="22.50" width="2.25" height="5.5" fill="#000000"/><rect x="457.60" y="29.50" width="2.25" height="5.5" fill="#2b1b8c"/><rect x="457.60" y="36.50" width="2.25" height="5.5" fill="#db5f1c"/><rect x="457.60" y="43.20" width="2.25" height="5.5" fill="#000000"/><rect x="461.30" y="22.50" width="2.25" height="5.5" fill="#e3e3e8"/><rect x="461.30" y="29.50" width="2.25" height="5.5" fill="#d2631c"/><rect x="461.30" y="36.50" width="2.25" height="5.5" fill="#e78c7c"/><rect x="461.30" y="43.20" width="2.25" height="5.5" fill="#000000"/><rect x="465.00" y="22.50" width="2.25" height="5.5" fill="#e3e3e8"/><rect x="465.00" y="29.50" width="2.25" height="5.5" fill="#2b1b8c"/><rect x="465.00" y="36.50" width="2.25" height="5.5" fill="#db5f1c"/><rect x="465.00" y="43.20" width="2.25" height="5.5" fill="#000000"/><rect x="468.71" y="22.50" width="2.25" height="5.5" fill="#e3e3e8"/><rect x="468.71" y="29.50" width="2.25" height="5.5" fill="#d2631c"/><rect x="468.71" y="36.50" width="2.25" height="5.5" fill="#f6c9c5"/><rect x="468.71" y="43.20" width="2.25" height="5.5" fill="#e3e3e8"/><rect x="472.41" y="22.50" width="2.25" height="5.5" fill="#000000"/><rect x="472.41" y="29.50" width="2.25" height="5.5" fill="#2b1b8c"/><rect x="472.41" y="36.50" width="2.25" height="5.5" fill="#db5f1c"/><rect x="472.41" y="43.20" width="2.25" height="5.5" fill="#000000"/><rect x="476.11" y="22.50" width="2.25" height="5.5" fill="#000000"/><rect x="476.11" y="29.50" width="2.25" height="5.5" fill="#2b1b8c"/><rect x="476.11" y="36.50" width="2.25" height="5.5" fill="#db5f1c"/><rect x="476.11" y="43.20" width="2.25" height="5.5" fill="#000000"/><rect x="479.81" y="22.50" width="2.25" height="5.5" fill="#000000"/><rect x="479.81" y="29.50" width="2.25" height="5.5" fill="#2b1b8c"/><rect x="479.81" y="36.50" width="2.25" height="5.5" fill="#f6c9c5"/><rect x="479.81" y="43.20" width="2.25" height="5.5" fill="#000000"/><rect x="483.52" y="22.50" width="2.25" height="5.5" fill="#000000"/><rect x="483.52" y="29.50" width="2.25" height="5.5" fill="#2b1b8c"/><rect x="483.52" y="36.50" width="2.25" height="5.5" fill="#f6c9c5"/><rect x="483.52" y="43.20" width="2.25" height="5.5" fill="#e3e3e8"/><rect x="487.22" y="22.50" width="2.25" height="5.5" fill="#000000"/><rect x="487.22" y="29.50" width="2.25" height="5.5" fill="#2b1b8c"/><rect x="487.22" y="36.50" width="2.25" height="5.5" fill="#f6c9c5"/><rect x="487.22" y="43.20" width="2.25" height="5.5" fill="#000000"/><rect x="490.92" y="22.50" width="2.25" height="5.5" fill="#000000"/><rect x="490.92" y="29.50" width="2.25" height="5.5" fill="#2b1b8c"/><rect x="490.92" y="36.50" width="2.25" height="5.5" fill="#e78c7c"/><rect x="490.92" y="43.20" width="2.25" height="5.5" fill="#000000"/><rect x="494.62" y="22.50" width="2.25" height="5.5" fill="#000000"/><rect x="494.62" y="29.50" width="2.25" height="5.5" fill="#d2631c"/><rect x="494.62" y="36.50" width="2.25" height="5.5" fill="#e78c7c"/><rect x="494.62" y="43.20" width="2.25" height="5.5" fill="#000000"/><rect x="498.33" y="22.50" width="2.25" height="5.5" fill="#000000"/><rect x="498.33" y="29.50" width="2.25" height="5.5" fill="#d2631c"/><rect x="498.33" y="36.50" width="2.25" height="5.5" fill="#f6c9c5"/><rect x="498.33" y="43.20" width="2.25" height="5.5" fill="#000000"/><rect x="502.03" y="22.50" width="2.25" height="5.5" fill="#000000"/><rect x="502.03" y="29.50" width="2.25" height="5.5" fill="#2b1b8c"/><rect x="502.03" y="36.50" width="2.25" height="5.5" fill="#f6c9c5"/><rect x="502.03" y="43.20" width="2.25" height="5.5" fill="#000000"/><rect x="505.73" y="22.50" width="2.25" height="5.5" fill="#000000"/><rect x="505.73" y="29.50" width="2.25" height="5.5" fill="#d2631c"/><rect x="505.73" y="36.50" width="2.25" height="5.5" fill="#f6c9c5"/><rect x="505.73" y="43.20" width="2.25" height="5.5" fill="#000000"/><rect x="509.44" y="22.50" width="2.25" height="5.5" fill="#000000"/><rect x="509.44" y="29.50" width="2.25" height="5.5" fill="#2b1b8c"/><rect x="509.44" y="36.50" width="2.25" height="5.5" fill="#f6c9c5"/><rect x="509.44" y="43.20" width="2.25" height="5.5" fill="#000000"/><rect x="50.33" y="53.40" width="2.25" height="5.5" fill="#3fa544"/><rect x="50.33" y="60.50" width="2.25" height="5.5" fill="#2f7fc6"/><rect x="50.33" y="67.50" width="2.25" height="5.5" fill="#dddbde"/><rect x="50.33" y="74.50" width="2.25" height="5.5" fill="#dddbde"/><rect x="54.03" y="53.40" width="2.25" height="5.5" fill="#3fa544"/><rect x="54.03" y="60.50" width="2.25" height="5.5" fill="#2f7fc6"/><rect x="54.03" y="67.50" width="2.25" height="5.5" fill="#dddbde"/><rect x="54.03" y="74.50" width="2.25" height="5.5" fill="#dddbde"/><rect x="57.73" y="53.40" width="2.25" height="5.5" fill="#3fa544"/><rect x="57.73" y="60.50" width="2.25" height="5.5" fill="#2f7fc6"/><rect x="57.73" y="67.50" width="2.25" height="5.5" fill="#dddbde"/><rect x="57.73" y="74.50" width="2.25" height="5.5" fill="#dddbde"/><rect x="61.43" y="53.40" width="2.25" height="5.5" fill="#3fa544"/><rect x="61.43" y="60.50" width="2.25" height="5.5" fill="#2f7fc6"/><rect x="61.43" y="67.50" width="2.25" height="5.5" fill="#dddbde"/><rect x="61.43" y="74.50" width="2.25" height="5.5" fill="#dddbde"/><rect x="65.14" y="53.40" width="2.25" height="5.5" fill="#3fa544"/><rect x="65.14" y="60.50" width="2.25" height="5.5" fill="#2f7fc6"/><rect x="65.14" y="67.50" width="2.25" height="5.5" fill="#dddbde"/><rect x="65.14" y="74.50" width="2.25" height="5.5" fill="#dddbde"/><rect x="68.84" y="53.40" width="2.25" height="5.5" fill="#3fa544"/><rect x="68.84" y="60.50" width="2.25" height="5.5" fill="#2f7fc6"/><rect x="68.84" y="67.50" width="2.25" height="5.5" fill="#dddbde"/><rect x="68.84" y="74.50" width="2.25" height="5.5" fill="#dddbde"/><rect x="72.54" y="53.40" width="2.25" height="5.5" fill="#3fa544"/><rect x="72.54" y="60.50" width="2.25" height="5.5" fill="#2f7fc6"/><rect x="72.54" y="67.50" width="2.25" height="5.5" fill="#dddbde"/><rect x="72.54" y="74.50" width="2.25" height="5.5" fill="#dddbde"/><rect x="76.24" y="53.40" width="2.25" height="5.5" fill="#3fa544"/><rect x="76.24" y="60.50" width="2.25" height="5.5" fill="#2f7fc6"/><rect x="76.24" y="67.50" width="2.25" height="5.5" fill="#dddbde"/><rect x="76.24" y="74.50" width="2.25" height="5.5" fill="#dddbde"/><rect x="79.95" y="53.40" width="2.25" height="5.5" fill="#3fa544"/><rect x="79.95" y="60.50" width="2.25" height="5.5" fill="#2f7fc6"/><rect x="79.95" y="67.50" width="2.25" height="5.5" fill="#dddbde"/><rect x="79.95" y="74.50" width="2.25" height="5.5" fill="#dddbde"/><rect x="83.65" y="53.40" width="2.25" height="5.5" fill="#3fa544"/><rect x="83.65" y="60.50" width="2.25" height="5.5" fill="#2f7fc6"/><rect x="83.65" y="67.50" width="2.25" height="5.5" fill="#dddbde"/><rect x="83.65" y="74.50" width="2.25" height="5.5" fill="#dddbde"/><rect x="87.35" y="53.40" width="2.25" height="5.5" fill="#3fa544"/><rect x="87.35" y="60.50" width="2.25" height="5.5" fill="#2f7fc6"/><rect x="87.35" y="67.50" width="2.25" height="5.5" fill="#dddbde"/><rect x="87.35" y="74.50" width="2.25" height="5.5" fill="#dddbde"/><rect x="91.05" y="53.40" width="2.25" height="5.5" fill="#3fa544"/><rect x="91.05" y="60.50" width="2.25" height="5.5" fill="#2f7fc6"/><rect x="91.05" y="67.50" width="2.25" height="5.5" fill="#dddbde"/><rect x="91.05" y="74.50" width="2.25" height="5.5" fill="#dddbde"/><rect x="94.75" y="53.40" width="2.25" height="5.5" fill="#3fa544"/><rect x="94.75" y="60.50" width="2.25" height="5.5" fill="#2f7fc6"/><rect x="94.75" y="67.50" width="2.25" height="5.5" fill="#dddbde"/><rect x="94.75" y="74.50" width="2.25" height="5.5" fill="#dddbde"/><rect x="98.46" y="53.40" width="2.25" height="5.5" fill="#3fa544"/><rect x="98.46" y="60.50" width="2.25" height="5.5" fill="#8a4a3c"/><rect x="98.46" y="67.50" width="2.25" height="5.5" fill="#dddbde"/><rect x="98.46" y="74.50" width="2.25" height="5.5" fill="#dddbde"/><rect x="102.16" y="53.40" width="2.25" height="5.5" fill="#3fa544"/><rect x="102.16" y="60.50" width="2.25" height="5.5" fill="#2f7fc6"/><rect x="102.16" y="67.50" width="2.25" height="5.5" fill="#dddbde"/><rect x="102.16" y="74.50" width="2.25" height="5.5" fill="#dddbde"/><rect x="105.86" y="53.40" width="2.25" height="5.5" fill="#3fa544"/><rect x="105.86" y="60.50" width="2.25" height="5.5" fill="#2f7fc6"/><rect x="105.86" y="67.50" width="2.25" height="5.5" fill="#dddbde"/><rect x="105.86" y="74.50" width="2.25" height="5.5" fill="#dddbde"/><rect x="109.56" y="53.40" width="2.25" height="5.5" fill="#3fa544"/><rect x="109.56" y="60.50" width="2.25" height="5.5" fill="#2f7fc6"/><rect x="109.56" y="67.50" width="2.25" height="5.5" fill="#dddbde"/><rect x="109.56" y="74.50" width="2.25" height="5.5" fill="#dddbde"/><rect x="113.27" y="53.40" width="2.25" height="5.5" fill="#3fa544"/><rect x="113.27" y="60.50" width="2.25" height="5.5" fill="#2f7fc6"/><rect x="113.27" y="67.50" width="2.25" height="5.5" fill="#dddbde"/><rect x="113.27" y="74.50" width="2.25" height="5.5" fill="#dddbde"/><rect x="116.97" y="53.40" width="2.25" height="5.5" fill="#3fa544"/><rect x="116.97" y="60.50" width="2.25" height="5.5" fill="#2f7fc6"/><rect x="116.97" y="67.50" width="2.25" height="5.5" fill="#dddbde"/><rect x="116.97" y="74.50" width="2.25" height="5.5" fill="#dddbde"/><rect x="120.67" y="53.40" width="2.25" height="5.5" fill="#3fa544"/><rect x="120.67" y="60.50" width="2.25" height="5.5" fill="#2f7fc6"/><rect x="120.67" y="67.50" width="2.25" height="5.5" fill="#dddbde"/><rect x="120.67" y="74.50" width="2.25" height="5.5" fill="#dddbde"/><rect x="124.38" y="53.40" width="2.25" height="5.5" fill="#3fa544"/><rect x="124.38" y="60.50" width="2.25" height="5.5" fill="#8a4a3c"/><rect x="124.38" y="67.50" width="2.25" height="5.5" fill="#dddbde"/><rect x="124.38" y="74.50" width="2.25" height="5.5" fill="#dddbde"/><rect x="128.08" y="53.40" width="2.25" height="5.5" fill="#3fa544"/><rect x="128.08" y="60.50" width="2.25" height="5.5" fill="#2f7fc6"/><rect x="128.08" y="67.50" width="2.25" height="5.5" fill="#dddbde"/><rect x="128.08" y="74.50" width="2.25" height="5.5" fill="#dddbde"/><rect x="131.78" y="53.40" width="2.25" height="5.5" fill="#3fa544"/><rect x="131.78" y="60.50" width="2.25" height="5.5" fill="#dddbde"/><rect x="131.78" y="67.50" width="2.25" height="5.5" fill="#2f7fc6"/><rect x="131.78" y="74.50" width="2.25" height="5.5" fill="#dddbde"/><rect x="135.48" y="53.40" width="2.25" height="5.5" fill="#3fa544"/><rect x="135.48" y="60.50" width="2.25" height="5.5" fill="#dddbde"/><rect x="135.48" y="67.50" width="2.25" height="5.5" fill="#2f7fc6"/><rect x="135.48" y="74.50" width="2.25" height="5.5" fill="#dddbde"/><rect x="139.19" y="53.40" width="2.25" height="5.5" fill="#3fa544"/><rect x="139.19" y="60.50" width="2.25" height="5.5" fill="#dddbde"/><rect x="139.19" y="67.50" width="2.25" height="5.5" fill="#2f7fc6"/><rect x="139.19" y="74.50" width="2.25" height="5.5" fill="#8a4a3c"/><rect x="142.89" y="53.40" width="2.25" height="5.5" fill="#3fa544"/><rect x="142.89" y="60.50" width="2.25" height="5.5" fill="#dddbde"/><rect x="142.89" y="67.50" width="2.25" height="5.5" fill="#8a4a3c"/><rect x="142.89" y="74.50" width="2.25" height="5.5" fill="#dddbde"/><rect x="146.59" y="53.40" width="2.25" height="5.5" fill="#3fa544"/><rect x="146.59" y="60.50" width="2.25" height="5.5" fill="#dddbde"/><rect x="146.59" y="67.50" width="2.25" height="5.5" fill="#dddbde"/><rect x="146.59" y="74.50" width="2.25" height="5.5" fill="#8a4a3c"/><rect x="150.29" y="53.40" width="2.25" height="5.5" fill="#3fa544"/><rect x="150.29" y="60.50" width="2.25" height="5.5" fill="#dddbde"/><rect x="150.29" y="67.50" width="2.25" height="5.5" fill="#dddbde"/><rect x="150.29" y="74.50" width="2.25" height="5.5" fill="#dddbde"/><rect x="154.00" y="53.40" width="2.25" height="5.5" fill="#3fa544"/><rect x="154.00" y="60.50" width="2.25" height="5.5" fill="#dddbde"/><rect x="154.00" y="67.50" width="2.25" height="5.5" fill="#dddbde"/><rect x="154.00" y="74.50" width="2.25" height="5.5" fill="#dddbde"/><rect x="157.70" y="53.40" width="2.25" height="5.5" fill="#3fa544"/><rect x="157.70" y="60.50" width="2.25" height="5.5" fill="#dddbde"/><rect x="157.70" y="67.50" width="2.25" height="5.5" fill="#dddbde"/><rect x="157.70" y="74.50" width="2.25" height="5.5" fill="#dddbde"/><rect x="161.40" y="53.40" width="2.25" height="5.5" fill="#3fa544"/><rect x="161.40" y="60.50" width="2.25" height="5.5" fill="#dddbde"/><rect x="161.40" y="67.50" width="2.25" height="5.5" fill="#dddbde"/><rect x="161.40" y="74.50" width="2.25" height="5.5" fill="#dddbde"/><rect x="165.10" y="53.40" width="2.25" height="5.5" fill="#3fa544"/><rect x="165.10" y="60.50" width="2.25" height="5.5" fill="#dddbde"/><rect x="165.10" y="67.50" width="2.25" height="5.5" fill="#dddbde"/><rect x="165.10" y="74.50" width="2.25" height="5.5" fill="#dddbde"/><rect x="168.81" y="53.40" width="2.25" height="5.5" fill="#3fa544"/><rect x="168.81" y="60.50" width="2.25" height="5.5" fill="#dddbde"/><rect x="168.81" y="67.50" width="2.25" height="5.5" fill="#dddbde"/><rect x="168.81" y="74.50" width="2.25" height="5.5" fill="#dddbde"/><rect x="172.51" y="53.40" width="2.25" height="5.5" fill="#3fa544"/><rect x="172.51" y="60.50" width="2.25" height="5.5" fill="#dddbde"/><rect x="172.51" y="67.50" width="2.25" height="5.5" fill="#dddbde"/><rect x="172.51" y="74.50" width="2.25" height="5.5" fill="#dddbde"/><rect x="176.21" y="53.40" width="2.25" height="5.5" fill="#3fa544"/><rect x="176.21" y="60.50" width="2.25" height="5.5" fill="#dddbde"/><rect x="176.21" y="67.50" width="2.25" height="5.5" fill="#dddbde"/><rect x="176.21" y="74.50" width="2.25" height="5.5" fill="#dddbde"/><rect x="179.91" y="53.40" width="2.25" height="5.5" fill="#3fa544"/><rect x="179.91" y="60.50" width="2.25" height="5.5" fill="#dddbde"/><rect x="179.91" y="67.50" width="2.25" height="5.5" fill="#dddbde"/><rect x="179.91" y="74.50" width="2.25" height="5.5" fill="#dddbde"/><rect x="183.62" y="53.40" width="2.25" height="5.5" fill="#3fa544"/><rect x="183.62" y="60.50" width="2.25" height="5.5" fill="#dddbde"/><rect x="183.62" y="67.50" width="2.25" height="5.5" fill="#dddbde"/><rect x="183.62" y="74.50" width="2.25" height="5.5" fill="#dddbde"/><rect x="187.32" y="53.40" width="2.25" height="5.5" fill="#3fa544"/><rect x="187.32" y="60.50" width="2.25" height="5.5" fill="#dddbde"/><rect x="187.32" y="67.50" width="2.25" height="5.5" fill="#dddbde"/><rect x="187.32" y="74.50" width="2.25" height="5.5" fill="#dddbde"/><rect x="191.02" y="53.40" width="2.25" height="5.5" fill="#3fa544"/><rect x="191.02" y="60.50" width="2.25" height="5.5" fill="#dddbde"/><rect x="191.02" y="67.50" width="2.25" height="5.5" fill="#dddbde"/><rect x="191.02" y="74.50" width="2.25" height="5.5" fill="#dddbde"/><rect x="194.72" y="53.40" width="2.25" height="5.5" fill="#3fa544"/><rect x="194.72" y="60.50" width="2.25" height="5.5" fill="#dddbde"/><rect x="194.72" y="67.50" width="2.25" height="5.5" fill="#dddbde"/><rect x="194.72" y="74.50" width="2.25" height="5.5" fill="#dddbde"/><rect x="198.43" y="53.40" width="2.25" height="5.5" fill="#3fa544"/><rect x="198.43" y="60.50" width="2.25" height="5.5" fill="#dddbde"/><rect x="198.43" y="67.50" width="2.25" height="5.5" fill="#dddbde"/><rect x="198.43" y="74.50" width="2.25" height="5.5" fill="#dddbde"/><rect x="202.13" y="53.40" width="2.25" height="5.5" fill="#3fa544"/><rect x="202.13" y="60.50" width="2.25" height="5.5" fill="#dddbde"/><rect x="202.13" y="67.50" width="2.25" height="5.5" fill="#dddbde"/><rect x="202.13" y="74.50" width="2.25" height="5.5" fill="#dddbde"/><rect x="205.83" y="53.40" width="2.25" height="5.5" fill="#3fa544"/><rect x="205.83" y="60.50" width="2.25" height="5.5" fill="#dddbde"/><rect x="205.83" y="67.50" width="2.25" height="5.5" fill="#dddbde"/><rect x="205.83" y="74.50" width="2.25" height="5.5" fill="#dddbde"/><rect x="209.53" y="53.40" width="2.25" height="5.5" fill="#3fa544"/><rect x="209.53" y="60.50" width="2.25" height="5.5" fill="#dddbde"/><rect x="209.53" y="67.50" width="2.25" height="5.5" fill="#dddbde"/><rect x="209.53" y="74.50" width="2.25" height="5.5" fill="#dddbde"/><rect x="213.24" y="53.40" width="2.25" height="5.5" fill="#3fa544"/><rect x="213.24" y="60.50" width="2.25" height="5.5" fill="#dddbde"/><rect x="213.24" y="67.50" width="2.25" height="5.5" fill="#dddbde"/><rect x="213.24" y="74.50" width="2.25" height="5.5" fill="#dddbde"/><rect x="216.94" y="53.40" width="2.25" height="5.5" fill="#3fa544"/><rect x="216.94" y="60.50" width="2.25" height="5.5" fill="#dddbde"/><rect x="216.94" y="67.50" width="2.25" height="5.5" fill="#dddbde"/><rect x="216.94" y="74.50" width="2.25" height="5.5" fill="#dddbde"/><rect x="220.64" y="53.40" width="2.25" height="5.5" fill="#3fa544"/><rect x="220.64" y="60.50" width="2.25" height="5.5" fill="#dddbde"/><rect x="220.64" y="67.50" width="2.25" height="5.5" fill="#dddbde"/><rect x="220.64" y="74.50" width="2.25" height="5.5" fill="#dddbde"/><rect x="224.34" y="53.40" width="2.25" height="5.5" fill="#3fa544"/><rect x="224.34" y="60.50" width="2.25" height="5.5" fill="#dddbde"/><rect x="224.34" y="67.50" width="2.25" height="5.5" fill="#dddbde"/><rect x="224.34" y="74.50" width="2.25" height="5.5" fill="#dddbde"/><rect x="228.05" y="53.40" width="2.25" height="5.5" fill="#3fa544"/><rect x="228.05" y="60.50" width="2.25" height="5.5" fill="#dddbde"/><rect x="228.05" y="67.50" width="2.25" height="5.5" fill="#dddbde"/><rect x="228.05" y="74.50" width="2.25" height="5.5" fill="#dddbde"/><rect x="231.75" y="53.40" width="2.25" height="5.5" fill="#3fa544"/><rect x="231.75" y="60.50" width="2.25" height="5.5" fill="#dddbde"/><rect x="231.75" y="67.50" width="2.25" height="5.5" fill="#dddbde"/><rect x="231.75" y="74.50" width="2.25" height="5.5" fill="#dddbde"/><rect x="235.45" y="53.40" width="2.25" height="5.5" fill="#3fa544"/><rect x="235.45" y="60.50" width="2.25" height="5.5" fill="#dddbde"/><rect x="235.45" y="67.50" width="2.25" height="5.5" fill="#dddbde"/><rect x="235.45" y="74.50" width="2.25" height="5.5" fill="#dddbde"/><rect x="239.15" y="53.40" width="2.25" height="5.5" fill="#3fa544"/><rect x="239.15" y="60.50" width="2.25" height="5.5" fill="#dddbde"/><rect x="239.15" y="67.50" width="2.25" height="5.5" fill="#dddbde"/><rect x="239.15" y="74.50" width="2.25" height="5.5" fill="#dddbde"/><rect x="242.86" y="53.40" width="2.25" height="5.5" fill="#3fa544"/><rect x="242.86" y="60.50" width="2.25" height="5.5" fill="#dddbde"/><rect x="242.86" y="67.50" width="2.25" height="5.5" fill="#dddbde"/><rect x="242.86" y="74.50" width="2.25" height="5.5" fill="#dddbde"/><rect x="246.56" y="53.40" width="2.25" height="5.5" fill="#3fa544"/><rect x="246.56" y="60.50" width="2.25" height="5.5" fill="#dddbde"/><rect x="246.56" y="67.50" width="2.25" height="5.5" fill="#dddbde"/><rect x="246.56" y="74.50" width="2.25" height="5.5" fill="#dddbde"/><rect x="250.26" y="53.40" width="2.25" height="5.5" fill="#3fa544"/><rect x="250.26" y="60.50" width="2.25" height="5.5" fill="#dddbde"/><rect x="250.26" y="67.50" width="2.25" height="5.5" fill="#dddbde"/><rect x="250.26" y="74.50" width="2.25" height="5.5" fill="#dddbde"/><rect x="253.96" y="53.40" width="2.25" height="5.5" fill="#3fa544"/><rect x="253.96" y="60.50" width="2.25" height="5.5" fill="#dddbde"/><rect x="253.96" y="67.50" width="2.25" height="5.5" fill="#dddbde"/><rect x="253.96" y="74.50" width="2.25" height="5.5" fill="#dddbde"/><rect x="257.67" y="53.40" width="2.25" height="5.5" fill="#3fa544"/><rect x="257.67" y="60.50" width="2.25" height="5.5" fill="#dddbde"/><rect x="257.67" y="67.50" width="2.25" height="5.5" fill="#dddbde"/><rect x="257.67" y="74.50" width="2.25" height="5.5" fill="#dddbde"/><rect x="261.37" y="53.40" width="2.25" height="5.5" fill="#3fa544"/><rect x="261.37" y="60.50" width="2.25" height="5.5" fill="#dddbde"/><rect x="261.37" y="67.50" width="2.25" height="5.5" fill="#dddbde"/><rect x="261.37" y="74.50" width="2.25" height="5.5" fill="#dddbde"/><rect x="265.07" y="53.40" width="2.25" height="5.5" fill="#3fa544"/><rect x="265.07" y="60.50" width="2.25" height="5.5" fill="#dddbde"/><rect x="265.07" y="67.50" width="2.25" height="5.5" fill="#dddbde"/><rect x="265.07" y="74.50" width="2.25" height="5.5" fill="#dddbde"/><rect x="268.77" y="53.40" width="2.25" height="5.5" fill="#3fa544"/><rect x="268.77" y="60.50" width="2.25" height="5.5" fill="#dddbde"/><rect x="268.77" y="67.50" width="2.25" height="5.5" fill="#dddbde"/><rect x="268.77" y="74.50" width="2.25" height="5.5" fill="#dddbde"/><rect x="272.48" y="53.40" width="2.25" height="5.5" fill="#3fa544"/><rect x="272.48" y="60.50" width="2.25" height="5.5" fill="#dddbde"/><rect x="272.48" y="67.50" width="2.25" height="5.5" fill="#dddbde"/><rect x="272.48" y="74.50" width="2.25" height="5.5" fill="#dddbde"/><rect x="276.18" y="53.40" width="2.25" height="5.5" fill="#3fa544"/><rect x="276.18" y="60.50" width="2.25" height="5.5" fill="#2f7fc6"/><rect x="276.18" y="67.50" width="2.25" height="5.5" fill="#dddbde"/><rect x="276.18" y="74.50" width="2.25" height="5.5" fill="#dddbde"/><rect x="279.88" y="53.40" width="2.25" height="5.5" fill="#3fa544"/><rect x="279.88" y="60.50" width="2.25" height="5.5" fill="#2f7fc6"/><rect x="279.88" y="67.50" width="2.25" height="5.5" fill="#dddbde"/><rect x="279.88" y="74.50" width="2.25" height="5.5" fill="#dddbde"/><rect x="283.58" y="53.40" width="2.25" height="5.5" fill="#3fa544"/><rect x="283.58" y="60.50" width="2.25" height="5.5" fill="#2f7fc6"/><rect x="283.58" y="67.50" width="2.25" height="5.5" fill="#dddbde"/><rect x="283.58" y="74.50" width="2.25" height="5.5" fill="#dddbde"/><rect x="287.29" y="53.40" width="2.25" height="5.5" fill="#3fa544"/><rect x="287.29" y="60.50" width="2.25" height="5.5" fill="#2f7fc6"/><rect x="287.29" y="67.50" width="2.25" height="5.5" fill="#dddbde"/><rect x="287.29" y="74.50" width="2.25" height="5.5" fill="#dddbde"/><rect x="290.99" y="53.40" width="2.25" height="5.5" fill="#3fa544"/><rect x="290.99" y="60.50" width="2.25" height="5.5" fill="#8a4a3c"/><rect x="290.99" y="67.50" width="2.25" height="5.5" fill="#dddbde"/><rect x="290.99" y="74.50" width="2.25" height="5.5" fill="#dddbde"/><rect x="294.69" y="53.40" width="2.25" height="5.5" fill="#3fa544"/><rect x="294.69" y="60.50" width="2.25" height="5.5" fill="#2f7fc6"/><rect x="294.69" y="67.50" width="2.25" height="5.5" fill="#dddbde"/><rect x="294.69" y="74.50" width="2.25" height="5.5" fill="#dddbde"/><rect x="298.39" y="53.40" width="2.25" height="5.5" fill="#3fa544"/><rect x="298.39" y="60.50" width="2.25" height="5.5" fill="#2f7fc6"/><rect x="298.39" y="67.50" width="2.25" height="5.5" fill="#dddbde"/><rect x="298.39" y="74.50" width="2.25" height="5.5" fill="#dddbde"/><rect x="302.10" y="53.40" width="2.25" height="5.5" fill="#3fa544"/><rect x="302.10" y="60.50" width="2.25" height="5.5" fill="#2f7fc6"/><rect x="302.10" y="67.50" width="2.25" height="5.5" fill="#dddbde"/><rect x="302.10" y="74.50" width="2.25" height="5.5" fill="#dddbde"/><rect x="305.80" y="53.40" width="2.25" height="5.5" fill="#3fa544"/><rect x="305.80" y="60.50" width="2.25" height="5.5" fill="#2f7fc6"/><rect x="305.80" y="67.50" width="2.25" height="5.5" fill="#dddbde"/><rect x="305.80" y="74.50" width="2.25" height="5.5" fill="#dddbde"/><rect x="309.50" y="53.40" width="2.25" height="5.5" fill="#3fa544"/><rect x="309.50" y="60.50" width="2.25" height="5.5" fill="#2f7fc6"/><rect x="309.50" y="67.50" width="2.25" height="5.5" fill="#dddbde"/><rect x="309.50" y="74.50" width="2.25" height="5.5" fill="#dddbde"/><rect x="313.20" y="53.40" width="2.25" height="5.5" fill="#3fa544"/><rect x="313.20" y="60.50" width="2.25" height="5.5" fill="#2f7fc6"/><rect x="313.20" y="67.50" width="2.25" height="5.5" fill="#dddbde"/><rect x="313.20" y="74.50" width="2.25" height="5.5" fill="#dddbde"/><rect x="316.90" y="53.40" width="2.25" height="5.5" fill="#3fa544"/><rect x="316.90" y="60.50" width="2.25" height="5.5" fill="#2f7fc6"/><rect x="316.90" y="67.50" width="2.25" height="5.5" fill="#dddbde"/><rect x="316.90" y="74.50" width="2.25" height="5.5" fill="#dddbde"/><rect x="320.61" y="53.40" width="2.25" height="5.5" fill="#3fa544"/><rect x="320.61" y="60.50" width="2.25" height="5.5" fill="#2f7fc6"/><rect x="320.61" y="67.50" width="2.25" height="5.5" fill="#dddbde"/><rect x="320.61" y="74.50" width="2.25" height="5.5" fill="#dddbde"/><rect x="324.31" y="53.40" width="2.25" height="5.5" fill="#3fa544"/><rect x="324.31" y="60.50" width="2.25" height="5.5" fill="#2f7fc6"/><rect x="324.31" y="67.50" width="2.25" height="5.5" fill="#dddbde"/><rect x="324.31" y="74.50" width="2.25" height="5.5" fill="#dddbde"/><rect x="328.01" y="53.40" width="2.25" height="5.5" fill="#3fa544"/><rect x="328.01" y="60.50" width="2.25" height="5.5" fill="#2f7fc6"/><rect x="328.01" y="67.50" width="2.25" height="5.5" fill="#dddbde"/><rect x="328.01" y="74.50" width="2.25" height="5.5" fill="#dddbde"/><rect x="331.71" y="53.40" width="2.25" height="5.5" fill="#3fa544"/><rect x="331.71" y="60.50" width="2.25" height="5.5" fill="#2f7fc6"/><rect x="331.71" y="67.50" width="2.25" height="5.5" fill="#dddbde"/><rect x="331.71" y="74.50" width="2.25" height="5.5" fill="#dddbde"/><rect x="335.42" y="53.40" width="2.25" height="5.5" fill="#3fa544"/><rect x="335.42" y="60.50" width="2.25" height="5.5" fill="#8a4a3c"/><rect x="335.42" y="67.50" width="2.25" height="5.5" fill="#dddbde"/><rect x="335.42" y="74.50" width="2.25" height="5.5" fill="#dddbde"/><rect x="339.12" y="53.40" width="2.25" height="5.5" fill="#3fa544"/><rect x="339.12" y="60.50" width="2.25" height="5.5" fill="#2f7fc6"/><rect x="339.12" y="67.50" width="2.25" height="5.5" fill="#dddbde"/><rect x="339.12" y="74.50" width="2.25" height="5.5" fill="#dddbde"/><rect x="342.82" y="53.40" width="2.25" height="5.5" fill="#3fa544"/><rect x="342.82" y="60.50" width="2.25" height="5.5" fill="#8a4a3c"/><rect x="342.82" y="67.50" width="2.25" height="5.5" fill="#dddbde"/><rect x="342.82" y="74.50" width="2.25" height="5.5" fill="#dddbde"/><rect x="346.52" y="53.40" width="2.25" height="5.5" fill="#3fa544"/><rect x="346.52" y="60.50" width="2.25" height="5.5" fill="#2f7fc6"/><rect x="346.52" y="67.50" width="2.25" height="5.5" fill="#dddbde"/><rect x="346.52" y="74.50" width="2.25" height="5.5" fill="#dddbde"/><rect x="350.23" y="53.40" width="2.25" height="5.5" fill="#3fa544"/><rect x="350.23" y="60.50" width="2.25" height="5.5" fill="#2f7fc6"/><rect x="350.23" y="67.50" width="2.25" height="5.5" fill="#dddbde"/><rect x="350.23" y="74.50" width="2.25" height="5.5" fill="#dddbde"/><rect x="353.93" y="53.40" width="2.25" height="5.5" fill="#3fa544"/><rect x="353.93" y="60.50" width="2.25" height="5.5" fill="#2f7fc6"/><rect x="353.93" y="67.50" width="2.25" height="5.5" fill="#dddbde"/><rect x="353.93" y="74.50" width="2.25" height="5.5" fill="#dddbde"/><rect x="357.63" y="53.40" width="2.25" height="5.5" fill="#3fa544"/><rect x="357.63" y="60.50" width="2.25" height="5.5" fill="#2f7fc6"/><rect x="357.63" y="67.50" width="2.25" height="5.5" fill="#dddbde"/><rect x="357.63" y="74.50" width="2.25" height="5.5" fill="#dddbde"/><rect x="361.33" y="53.40" width="2.25" height="5.5" fill="#3fa544"/><rect x="361.33" y="60.50" width="2.25" height="5.5" fill="#2f7fc6"/><rect x="361.33" y="67.50" width="2.25" height="5.5" fill="#dddbde"/><rect x="361.33" y="74.50" width="2.25" height="5.5" fill="#dddbde"/><rect x="365.04" y="53.40" width="2.25" height="5.5" fill="#3fa544"/><rect x="365.04" y="60.50" width="2.25" height="5.5" fill="#dddbde"/><rect x="365.04" y="67.50" width="2.25" height="5.5" fill="#2f7fc6"/><rect x="365.04" y="74.50" width="2.25" height="5.5" fill="#dddbde"/><rect x="368.74" y="53.40" width="2.25" height="5.5" fill="#3fa544"/><rect x="368.74" y="60.50" width="2.25" height="5.5" fill="#dddbde"/><rect x="368.74" y="67.50" width="2.25" height="5.5" fill="#2f7fc6"/><rect x="368.74" y="74.50" width="2.25" height="5.5" fill="#dddbde"/><rect x="372.44" y="53.40" width="2.25" height="5.5" fill="#3fa544"/><rect x="372.44" y="60.50" width="2.25" height="5.5" fill="#dddbde"/><rect x="372.44" y="67.50" width="2.25" height="5.5" fill="#2f7fc6"/><rect x="372.44" y="74.50" width="2.25" height="5.5" fill="#dddbde"/><rect x="376.14" y="53.40" width="2.25" height="5.5" fill="#3fa544"/><rect x="376.14" y="60.50" width="2.25" height="5.5" fill="#dddbde"/><rect x="376.14" y="67.50" width="2.25" height="5.5" fill="#2f7fc6"/><rect x="376.14" y="74.50" width="2.25" height="5.5" fill="#dddbde"/><rect x="379.85" y="53.40" width="2.25" height="5.5" fill="#3fa544"/><rect x="379.85" y="60.50" width="2.25" height="5.5" fill="#dddbde"/><rect x="379.85" y="67.50" width="2.25" height="5.5" fill="#2f7fc6"/><rect x="379.85" y="74.50" width="2.25" height="5.5" fill="#dddbde"/><rect x="383.55" y="53.40" width="2.25" height="5.5" fill="#3fa544"/><rect x="383.55" y="60.50" width="2.25" height="5.5" fill="#dddbde"/><rect x="383.55" y="67.50" width="2.25" height="5.5" fill="#2f7fc6"/><rect x="383.55" y="74.50" width="2.25" height="5.5" fill="#dddbde"/><rect x="387.25" y="53.40" width="2.25" height="5.5" fill="#3fa544"/><rect x="387.25" y="60.50" width="2.25" height="5.5" fill="#dddbde"/><rect x="387.25" y="67.50" width="2.25" height="5.5" fill="#dddbde"/><rect x="387.25" y="74.50" width="2.25" height="5.5" fill="#8a4a3c"/><rect x="390.95" y="53.40" width="2.25" height="5.5" fill="#3fa544"/><rect x="390.95" y="60.50" width="2.25" height="5.5" fill="#dddbde"/><rect x="390.95" y="67.50" width="2.25" height="5.5" fill="#dddbde"/><rect x="390.95" y="74.50" width="2.25" height="5.5" fill="#8a4a3c"/><rect x="394.66" y="53.40" width="2.25" height="5.5" fill="#3fa544"/><rect x="394.66" y="60.50" width="2.25" height="5.5" fill="#dddbde"/><rect x="394.66" y="67.50" width="2.25" height="5.5" fill="#dddbde"/><rect x="394.66" y="74.50" width="2.25" height="5.5" fill="#8a4a3c"/><rect x="398.36" y="53.40" width="2.25" height="5.5" fill="#3fa544"/><rect x="398.36" y="60.50" width="2.25" height="5.5" fill="#dddbde"/><rect x="398.36" y="67.50" width="2.25" height="5.5" fill="#dddbde"/><rect x="398.36" y="74.50" width="2.25" height="5.5" fill="#8a4a3c"/><rect x="402.06" y="53.40" width="2.25" height="5.5" fill="#3fa544"/><rect x="402.06" y="60.50" width="2.25" height="5.5" fill="#dddbde"/><rect x="402.06" y="67.50" width="2.25" height="5.5" fill="#dddbde"/><rect x="402.06" y="74.50" width="2.25" height="5.5" fill="#8a4a3c"/><rect x="405.76" y="53.40" width="2.25" height="5.5" fill="#3fa544"/><rect x="405.76" y="60.50" width="2.25" height="5.5" fill="#dddbde"/><rect x="405.76" y="67.50" width="2.25" height="5.5" fill="#dddbde"/><rect x="405.76" y="74.50" width="2.25" height="5.5" fill="#8a4a3c"/><rect x="409.47" y="53.40" width="2.25" height="5.5" fill="#3fa544"/><rect x="409.47" y="60.50" width="2.25" height="5.5" fill="#dddbde"/><rect x="409.47" y="67.50" width="2.25" height="5.5" fill="#dddbde"/><rect x="409.47" y="74.50" width="2.25" height="5.5" fill="#dddbde"/><rect x="413.17" y="53.40" width="2.25" height="5.5" fill="#3fa544"/><rect x="413.17" y="60.50" width="2.25" height="5.5" fill="#dddbde"/><rect x="413.17" y="67.50" width="2.25" height="5.5" fill="#dddbde"/><rect x="413.17" y="74.50" width="2.25" height="5.5" fill="#dddbde"/><rect x="416.87" y="53.40" width="2.25" height="5.5" fill="#3fa544"/><rect x="416.87" y="60.50" width="2.25" height="5.5" fill="#dddbde"/><rect x="416.87" y="67.50" width="2.25" height="5.5" fill="#dddbde"/><rect x="416.87" y="74.50" width="2.25" height="5.5" fill="#dddbde"/><rect x="420.57" y="53.40" width="2.25" height="5.5" fill="#3fa544"/><rect x="420.57" y="60.50" width="2.25" height="5.5" fill="#dddbde"/><rect x="420.57" y="67.50" width="2.25" height="5.5" fill="#dddbde"/><rect x="420.57" y="74.50" width="2.25" height="5.5" fill="#dddbde"/><rect x="424.28" y="53.40" width="2.25" height="5.5" fill="#3fa544"/><rect x="424.28" y="60.50" width="2.25" height="5.5" fill="#dddbde"/><rect x="424.28" y="67.50" width="2.25" height="5.5" fill="#dddbde"/><rect x="424.28" y="74.50" width="2.25" height="5.5" fill="#dddbde"/><rect x="427.98" y="53.40" width="2.25" height="5.5" fill="#3fa544"/><rect x="427.98" y="60.50" width="2.25" height="5.5" fill="#dddbde"/><rect x="427.98" y="67.50" width="2.25" height="5.5" fill="#dddbde"/><rect x="427.98" y="74.50" width="2.25" height="5.5" fill="#dddbde"/><rect x="431.68" y="53.40" width="2.25" height="5.5" fill="#3fa544"/><rect x="431.68" y="60.50" width="2.25" height="5.5" fill="#dddbde"/><rect x="431.68" y="67.50" width="2.25" height="5.5" fill="#dddbde"/><rect x="431.68" y="74.50" width="2.25" height="5.5" fill="#dddbde"/><rect x="435.38" y="53.40" width="2.25" height="5.5" fill="#3fa544"/><rect x="435.38" y="60.50" width="2.25" height="5.5" fill="#dddbde"/><rect x="435.38" y="67.50" width="2.25" height="5.5" fill="#dddbde"/><rect x="435.38" y="74.50" width="2.25" height="5.5" fill="#dddbde"/><rect x="439.09" y="53.40" width="2.25" height="5.5" fill="#3fa544"/><rect x="439.09" y="60.50" width="2.25" height="5.5" fill="#dddbde"/><rect x="439.09" y="67.50" width="2.25" height="5.5" fill="#dddbde"/><rect x="439.09" y="74.50" width="2.25" height="5.5" fill="#dddbde"/><rect x="442.79" y="53.40" width="2.25" height="5.5" fill="#3fa544"/><rect x="442.79" y="60.50" width="2.25" height="5.5" fill="#dddbde"/><rect x="442.79" y="67.50" width="2.25" height="5.5" fill="#dddbde"/><rect x="442.79" y="74.50" width="2.25" height="5.5" fill="#dddbde"/><rect x="446.49" y="53.40" width="2.25" height="5.5" fill="#3fa544"/><rect x="446.49" y="60.50" width="2.25" height="5.5" fill="#dddbde"/><rect x="446.49" y="67.50" width="2.25" height="5.5" fill="#dddbde"/><rect x="446.49" y="74.50" width="2.25" height="5.5" fill="#dddbde"/><rect x="450.19" y="53.40" width="2.25" height="5.5" fill="#3fa544"/><rect x="450.19" y="60.50" width="2.25" height="5.5" fill="#dddbde"/><rect x="450.19" y="67.50" width="2.25" height="5.5" fill="#dddbde"/><rect x="450.19" y="74.50" width="2.25" height="5.5" fill="#dddbde"/><rect x="453.90" y="53.40" width="2.25" height="5.5" fill="#3fa544"/><rect x="453.90" y="60.50" width="2.25" height="5.5" fill="#dddbde"/><rect x="453.90" y="67.50" width="2.25" height="5.5" fill="#dddbde"/><rect x="453.90" y="74.50" width="2.25" height="5.5" fill="#dddbde"/><rect x="457.60" y="53.40" width="2.25" height="5.5" fill="#3fa544"/><rect x="457.60" y="60.50" width="2.25" height="5.5" fill="#dddbde"/><rect x="457.60" y="67.50" width="2.25" height="5.5" fill="#dddbde"/><rect x="457.60" y="74.50" width="2.25" height="5.5" fill="#dddbde"/><rect x="461.30" y="53.40" width="2.25" height="5.5" fill="#3fa544"/><rect x="461.30" y="60.50" width="2.25" height="5.5" fill="#dddbde"/><rect x="461.30" y="67.50" width="2.25" height="5.5" fill="#dddbde"/><rect x="461.30" y="74.50" width="2.25" height="5.5" fill="#dddbde"/><rect x="465.00" y="53.40" width="2.25" height="5.5" fill="#3fa544"/><rect x="465.00" y="60.50" width="2.25" height="5.5" fill="#dddbde"/><rect x="465.00" y="67.50" width="2.25" height="5.5" fill="#dddbde"/><rect x="465.00" y="74.50" width="2.25" height="5.5" fill="#dddbde"/><rect x="468.71" y="53.40" width="2.25" height="5.5" fill="#3fa544"/><rect x="468.71" y="60.50" width="2.25" height="5.5" fill="#dddbde"/><rect x="468.71" y="67.50" width="2.25" height="5.5" fill="#dddbde"/><rect x="468.71" y="74.50" width="2.25" height="5.5" fill="#dddbde"/><rect x="472.41" y="53.40" width="2.25" height="5.5" fill="#3fa544"/><rect x="472.41" y="60.50" width="2.25" height="5.5" fill="#dddbde"/><rect x="472.41" y="67.50" width="2.25" height="5.5" fill="#dddbde"/><rect x="472.41" y="74.50" width="2.25" height="5.5" fill="#dddbde"/><rect x="476.11" y="53.40" width="2.25" height="5.5" fill="#3fa544"/><rect x="476.11" y="60.50" width="2.25" height="5.5" fill="#dddbde"/><rect x="476.11" y="67.50" width="2.25" height="5.5" fill="#dddbde"/><rect x="476.11" y="74.50" width="2.25" height="5.5" fill="#dddbde"/><rect x="479.81" y="53.40" width="2.25" height="5.5" fill="#3fa544"/><rect x="479.81" y="60.50" width="2.25" height="5.5" fill="#dddbde"/><rect x="479.81" y="67.50" width="2.25" height="5.5" fill="#dddbde"/><rect x="479.81" y="74.50" width="2.25" height="5.5" fill="#dddbde"/><rect x="483.52" y="53.40" width="2.25" height="5.5" fill="#3fa544"/><rect x="483.52" y="60.50" width="2.25" height="5.5" fill="#dddbde"/><rect x="483.52" y="67.50" width="2.25" height="5.5" fill="#dddbde"/><rect x="483.52" y="74.50" width="2.25" height="5.5" fill="#dddbde"/><rect x="487.22" y="53.40" width="2.25" height="5.5" fill="#3fa544"/><rect x="487.22" y="60.50" width="2.25" height="5.5" fill="#dddbde"/><rect x="487.22" y="67.50" width="2.25" height="5.5" fill="#dddbde"/><rect x="487.22" y="74.50" width="2.25" height="5.5" fill="#dddbde"/><rect x="490.92" y="53.40" width="2.25" height="5.5" fill="#3fa544"/><rect x="490.92" y="60.50" width="2.25" height="5.5" fill="#dddbde"/><rect x="490.92" y="67.50" width="2.25" height="5.5" fill="#dddbde"/><rect x="490.92" y="74.50" width="2.25" height="5.5" fill="#dddbde"/><rect x="494.62" y="53.40" width="2.25" height="5.5" fill="#3fa544"/><rect x="494.62" y="60.50" width="2.25" height="5.5" fill="#dddbde"/><rect x="494.62" y="67.50" width="2.25" height="5.5" fill="#dddbde"/><rect x="494.62" y="74.50" width="2.25" height="5.5" fill="#dddbde"/><rect x="498.33" y="53.40" width="2.25" height="5.5" fill="#3fa544"/><rect x="498.33" y="60.50" width="2.25" height="5.5" fill="#dddbde"/><rect x="498.33" y="67.50" width="2.25" height="5.5" fill="#dddbde"/><rect x="498.33" y="74.50" width="2.25" height="5.5" fill="#dddbde"/><rect x="502.03" y="53.40" width="2.25" height="5.5" fill="#3fa544"/><rect x="502.03" y="60.50" width="2.25" height="5.5" fill="#dddbde"/><rect x="502.03" y="67.50" width="2.25" height="5.5" fill="#dddbde"/><rect x="502.03" y="74.50" width="2.25" height="5.5" fill="#dddbde"/><rect x="505.73" y="53.40" width="2.25" height="5.5" fill="#3fa544"/><rect x="505.73" y="60.50" width="2.25" height="5.5" fill="#dddbde"/><rect x="505.73" y="67.50" width="2.25" height="5.5" fill="#dddbde"/><rect x="505.73" y="74.50" width="2.25" height="5.5" fill="#dddbde"/><rect x="509.44" y="53.40" width="2.25" height="5.5" fill="#3fa544"/><rect x="509.44" y="60.50" width="2.25" height="5.5" fill="#dddbde"/><rect x="509.44" y="67.50" width="2.25" height="5.5" fill="#dddbde"/><rect x="509.44" y="74.50" width="2.25" height="5.5" fill="#dddbde"/><rect x="50.33" y="83.30" width="2.25" height="5.0" fill="#d6601f"/><rect x="50.33" y="89.60" width="2.25" height="5.3" fill="#dddbde"/><rect x="54.03" y="83.30" width="2.25" height="5.0" fill="#d6601f"/><rect x="54.03" y="89.60" width="2.25" height="5.3" fill="#dddbde"/><rect x="57.73" y="83.30" width="2.25" height="5.0" fill="#d6601f"/><rect x="57.73" y="89.60" width="2.25" height="5.3" fill="#dddbde"/><rect x="61.43" y="83.30" width="2.25" height="5.0" fill="#d6601f"/><rect x="61.43" y="89.60" width="2.25" height="5.3" fill="#dddbde"/><rect x="65.14" y="83.30" width="2.25" height="5.0" fill="#d6601f"/><rect x="65.14" y="89.60" width="2.25" height="5.3" fill="#dddbde"/><rect x="68.84" y="83.30" width="2.25" height="5.0" fill="#d6601f"/><rect x="68.84" y="89.60" width="2.25" height="5.3" fill="#dddbde"/><rect x="72.54" y="83.30" width="2.25" height="5.0" fill="#d6601f"/><rect x="72.54" y="89.60" width="2.25" height="5.3" fill="#dddbde"/><rect x="76.24" y="83.30" width="2.25" height="5.0" fill="#d6601f"/><rect x="76.24" y="89.60" width="2.25" height="5.3" fill="#dddbde"/><rect x="79.95" y="83.30" width="2.25" height="5.0" fill="#d6601f"/><rect x="79.95" y="89.60" width="2.25" height="5.3" fill="#dddbde"/><rect x="83.65" y="83.30" width="2.25" height="5.0" fill="#d6601f"/><rect x="83.65" y="89.60" width="2.25" height="5.3" fill="#dddbde"/><rect x="87.35" y="83.30" width="2.25" height="5.0" fill="#d6601f"/><rect x="87.35" y="89.60" width="2.25" height="5.3" fill="#dddbde"/><rect x="91.05" y="83.30" width="2.25" height="5.0" fill="#d6601f"/><rect x="91.05" y="89.60" width="2.25" height="5.3" fill="#dddbde"/><rect x="94.75" y="83.30" width="2.25" height="5.0" fill="#d6601f"/><rect x="94.75" y="89.60" width="2.25" height="5.3" fill="#dddbde"/><rect x="98.46" y="83.30" width="2.25" height="5.0" fill="#d6601f"/><rect x="98.46" y="89.60" width="2.25" height="5.3" fill="#dddbde"/><rect x="102.16" y="83.30" width="2.25" height="5.0" fill="#d6601f"/><rect x="102.16" y="89.60" width="2.25" height="5.3" fill="#dddbde"/><rect x="105.86" y="83.30" width="2.25" height="5.0" fill="#d6601f"/><rect x="105.86" y="89.60" width="2.25" height="5.3" fill="#dddbde"/><rect x="109.56" y="83.30" width="2.25" height="5.0" fill="#d6601f"/><rect x="109.56" y="89.60" width="2.25" height="5.3" fill="#dddbde"/><rect x="113.27" y="83.30" width="2.25" height="5.0" fill="#d6601f"/><rect x="113.27" y="89.60" width="2.25" height="5.3" fill="#dddbde"/><rect x="116.97" y="83.30" width="2.25" height="5.0" fill="#d6601f"/><rect x="116.97" y="89.60" width="2.25" height="5.3" fill="#dddbde"/><rect x="120.67" y="83.30" width="2.25" height="5.0" fill="#d6601f"/><rect x="120.67" y="89.60" width="2.25" height="5.3" fill="#dddbde"/><rect x="124.38" y="83.30" width="2.25" height="5.0" fill="#d6601f"/><rect x="124.38" y="89.60" width="2.25" height="5.3" fill="#dddbde"/><rect x="128.08" y="83.30" width="2.25" height="5.0" fill="#d6601f"/><rect x="128.08" y="89.60" width="2.25" height="5.3" fill="#dddbde"/><rect x="131.78" y="83.30" width="2.25" height="5.0" fill="#d6601f"/><rect x="131.78" y="89.60" width="2.25" height="5.3" fill="#dddbde"/><rect x="135.48" y="83.30" width="2.25" height="5.0" fill="#d6601f"/><rect x="135.48" y="89.60" width="2.25" height="5.3" fill="#dddbde"/><rect x="139.19" y="83.30" width="2.25" height="5.0" fill="#d6601f"/><rect x="139.19" y="89.60" width="2.25" height="5.3" fill="#dddbde"/><rect x="142.89" y="83.30" width="2.25" height="5.0" fill="#d6601f"/><rect x="142.89" y="89.60" width="2.25" height="5.3" fill="#dddbde"/><rect x="146.59" y="83.30" width="2.25" height="5.0" fill="#d6601f"/><rect x="146.59" y="89.60" width="2.25" height="5.3" fill="#dddbde"/><rect x="150.29" y="83.30" width="2.25" height="5.0" fill="#d6601f"/><rect x="150.29" y="89.60" width="2.25" height="5.3" fill="#dddbde"/><rect x="154.00" y="83.30" width="2.25" height="5.0" fill="#d6601f"/><rect x="154.00" y="89.60" width="2.25" height="5.3" fill="#dddbde"/><rect x="157.70" y="83.30" width="2.25" height="5.0" fill="#d6601f"/><rect x="157.70" y="89.60" width="2.25" height="5.3" fill="#dddbde"/><rect x="161.40" y="83.30" width="2.25" height="5.0" fill="#d6601f"/><rect x="161.40" y="89.60" width="2.25" height="5.3" fill="#dddbde"/><rect x="165.10" y="83.30" width="2.25" height="5.0" fill="#d6601f"/><rect x="165.10" y="89.60" width="2.25" height="5.3" fill="#dddbde"/><rect x="168.81" y="83.30" width="2.25" height="5.0" fill="#d6601f"/><rect x="168.81" y="89.60" width="2.25" height="5.3" fill="#dddbde"/><rect x="172.51" y="83.30" width="2.25" height="5.0" fill="#d6601f"/><rect x="172.51" y="89.60" width="2.25" height="5.3" fill="#dddbde"/><rect x="176.21" y="83.30" width="2.25" height="5.0" fill="#d6601f"/><rect x="176.21" y="89.60" width="2.25" height="5.3" fill="#dddbde"/><rect x="179.91" y="83.30" width="2.25" height="5.0" fill="#d6601f"/><rect x="179.91" y="89.60" width="2.25" height="5.3" fill="#dddbde"/><rect x="183.62" y="83.30" width="2.25" height="5.0" fill="#d6601f"/><rect x="183.62" y="89.60" width="2.25" height="5.3" fill="#dddbde"/><rect x="187.32" y="83.30" width="2.25" height="5.0" fill="#d6601f"/><rect x="187.32" y="89.60" width="2.25" height="5.3" fill="#dddbde"/><rect x="191.02" y="83.30" width="2.25" height="5.0" fill="#d6601f"/><rect x="191.02" y="89.60" width="2.25" height="5.3" fill="#dddbde"/><rect x="194.72" y="83.30" width="2.25" height="5.0" fill="#d6601f"/><rect x="194.72" y="89.60" width="2.25" height="5.3" fill="#dddbde"/><rect x="198.43" y="83.30" width="2.25" height="5.0" fill="#d6601f"/><rect x="198.43" y="89.60" width="2.25" height="5.3" fill="#dddbde"/><rect x="202.13" y="83.30" width="2.25" height="5.0" fill="#d6601f"/><rect x="202.13" y="89.60" width="2.25" height="5.3" fill="#dddbde"/><rect x="205.83" y="83.30" width="2.25" height="5.0" fill="#d6601f"/><rect x="205.83" y="89.60" width="2.25" height="5.3" fill="#dddbde"/><rect x="209.53" y="83.30" width="2.25" height="5.0" fill="#d6601f"/><rect x="209.53" y="89.60" width="2.25" height="5.3" fill="#dddbde"/><rect x="213.24" y="83.30" width="2.25" height="5.0" fill="#d6601f"/><rect x="213.24" y="89.60" width="2.25" height="5.3" fill="#dddbde"/><rect x="216.94" y="83.30" width="2.25" height="5.0" fill="#d6601f"/><rect x="216.94" y="89.60" width="2.25" height="5.3" fill="#dddbde"/><rect x="220.64" y="83.30" width="2.25" height="5.0" fill="#d6601f"/><rect x="220.64" y="89.60" width="2.25" height="5.3" fill="#dddbde"/><rect x="224.34" y="83.30" width="2.25" height="5.0" fill="#d6601f"/><rect x="224.34" y="89.60" width="2.25" height="5.3" fill="#dddbde"/><rect x="228.05" y="83.30" width="2.25" height="5.0" fill="#d6601f"/><rect x="228.05" y="89.60" width="2.25" height="5.3" fill="#dddbde"/><rect x="231.75" y="83.30" width="2.25" height="5.0" fill="#d6601f"/><rect x="231.75" y="89.60" width="2.25" height="5.3" fill="#dddbde"/><rect x="235.45" y="83.30" width="2.25" height="5.0" fill="#d6601f"/><rect x="235.45" y="89.60" width="2.25" height="5.3" fill="#dddbde"/><rect x="239.15" y="83.30" width="2.25" height="5.0" fill="#d6601f"/><rect x="239.15" y="89.60" width="2.25" height="5.3" fill="#dddbde"/><rect x="242.86" y="83.30" width="2.25" height="5.0" fill="#d6601f"/><rect x="242.86" y="89.60" width="2.25" height="5.3" fill="#dddbde"/><rect x="246.56" y="83.30" width="2.25" height="5.0" fill="#d6601f"/><rect x="246.56" y="89.60" width="2.25" height="5.3" fill="#dddbde"/><rect x="250.26" y="83.30" width="2.25" height="5.0" fill="#d6601f"/><rect x="250.26" y="89.60" width="2.25" height="5.3" fill="#dddbde"/><rect x="253.96" y="83.30" width="2.25" height="5.0" fill="#d6601f"/><rect x="253.96" y="89.60" width="2.25" height="5.3" fill="#dddbde"/><rect x="257.67" y="83.30" width="2.25" height="5.0" fill="#d6601f"/><rect x="257.67" y="89.60" width="2.25" height="5.3" fill="#dddbde"/><rect x="261.37" y="83.30" width="2.25" height="5.0" fill="#d6601f"/><rect x="261.37" y="89.60" width="2.25" height="5.3" fill="#dddbde"/><rect x="265.07" y="83.30" width="2.25" height="5.0" fill="#d6601f"/><rect x="265.07" y="89.60" width="2.25" height="5.3" fill="#dddbde"/><rect x="268.77" y="83.30" width="2.25" height="5.0" fill="#d6601f"/><rect x="268.77" y="89.60" width="2.25" height="5.3" fill="#dddbde"/><rect x="272.48" y="83.30" width="2.25" height="5.0" fill="#d6601f"/><rect x="272.48" y="89.60" width="2.25" height="5.3" fill="#dddbde"/><rect x="276.18" y="83.30" width="2.25" height="5.0" fill="#dddbde"/><rect x="276.18" y="89.60" width="2.25" height="5.3" fill="#d6601f"/><rect x="279.88" y="83.30" width="2.25" height="5.0" fill="#dddbde"/><rect x="279.88" y="89.60" width="2.25" height="5.3" fill="#d6601f"/><rect x="283.58" y="83.30" width="2.25" height="5.0" fill="#dddbde"/><rect x="283.58" y="89.60" width="2.25" height="5.3" fill="#d6601f"/><rect x="287.29" y="83.30" width="2.25" height="5.0" fill="#dddbde"/><rect x="287.29" y="89.60" width="2.25" height="5.3" fill="#d6601f"/><rect x="290.99" y="83.30" width="2.25" height="5.0" fill="#dddbde"/><rect x="290.99" y="89.60" width="2.25" height="5.3" fill="#d6601f"/><rect x="294.69" y="83.30" width="2.25" height="5.0" fill="#dddbde"/><rect x="294.69" y="89.60" width="2.25" height="5.3" fill="#d6601f"/><rect x="298.39" y="83.30" width="2.25" height="5.0" fill="#dddbde"/><rect x="298.39" y="89.60" width="2.25" height="5.3" fill="#d6601f"/><rect x="302.10" y="83.30" width="2.25" height="5.0" fill="#dddbde"/><rect x="302.10" y="89.60" width="2.25" height="5.3" fill="#d6601f"/><rect x="305.80" y="83.30" width="2.25" height="5.0" fill="#dddbde"/><rect x="305.80" y="89.60" width="2.25" height="5.3" fill="#d6601f"/><rect x="309.50" y="83.30" width="2.25" height="5.0" fill="#dddbde"/><rect x="309.50" y="89.60" width="2.25" height="5.3" fill="#d6601f"/><rect x="313.20" y="83.30" width="2.25" height="5.0" fill="#dddbde"/><rect x="313.20" y="89.60" width="2.25" height="5.3" fill="#d6601f"/><rect x="316.90" y="83.30" width="2.25" height="5.0" fill="#dddbde"/><rect x="316.90" y="89.60" width="2.25" height="5.3" fill="#d6601f"/><rect x="320.61" y="83.30" width="2.25" height="5.0" fill="#dddbde"/><rect x="320.61" y="89.60" width="2.25" height="5.3" fill="#d6601f"/><rect x="324.31" y="83.30" width="2.25" height="5.0" fill="#dddbde"/><rect x="324.31" y="89.60" width="2.25" height="5.3" fill="#d6601f"/><rect x="328.01" y="83.30" width="2.25" height="5.0" fill="#dddbde"/><rect x="328.01" y="89.60" width="2.25" height="5.3" fill="#d6601f"/><rect x="331.71" y="83.30" width="2.25" height="5.0" fill="#dddbde"/><rect x="331.71" y="89.60" width="2.25" height="5.3" fill="#d6601f"/><rect x="335.42" y="83.30" width="2.25" height="5.0" fill="#dddbde"/><rect x="335.42" y="89.60" width="2.25" height="5.3" fill="#d6601f"/><rect x="339.12" y="83.30" width="2.25" height="5.0" fill="#dddbde"/><rect x="339.12" y="89.60" width="2.25" height="5.3" fill="#d6601f"/><rect x="342.82" y="83.30" width="2.25" height="5.0" fill="#dddbde"/><rect x="342.82" y="89.60" width="2.25" height="5.3" fill="#d6601f"/><rect x="346.52" y="83.30" width="2.25" height="5.0" fill="#dddbde"/><rect x="346.52" y="89.60" width="2.25" height="5.3" fill="#d6601f"/><rect x="350.23" y="83.30" width="2.25" height="5.0" fill="#dddbde"/><rect x="350.23" y="89.60" width="2.25" height="5.3" fill="#d6601f"/><rect x="353.93" y="83.30" width="2.25" height="5.0" fill="#dddbde"/><rect x="353.93" y="89.60" width="2.25" height="5.3" fill="#d6601f"/><rect x="357.63" y="83.30" width="2.25" height="5.0" fill="#dddbde"/><rect x="357.63" y="89.60" width="2.25" height="5.3" fill="#d6601f"/><rect x="361.33" y="83.30" width="2.25" height="5.0" fill="#dddbde"/><rect x="361.33" y="89.60" width="2.25" height="5.3" fill="#d6601f"/><rect x="365.04" y="83.30" width="2.25" height="5.0" fill="#dddbde"/><rect x="365.04" y="89.60" width="2.25" height="5.3" fill="#d6601f"/><rect x="368.74" y="83.30" width="2.25" height="5.0" fill="#dddbde"/><rect x="368.74" y="89.60" width="2.25" height="5.3" fill="#d6601f"/><rect x="372.44" y="83.30" width="2.25" height="5.0" fill="#dddbde"/><rect x="372.44" y="89.60" width="2.25" height="5.3" fill="#d6601f"/><rect x="376.14" y="83.30" width="2.25" height="5.0" fill="#dddbde"/><rect x="376.14" y="89.60" width="2.25" height="5.3" fill="#d6601f"/><rect x="379.85" y="83.30" width="2.25" height="5.0" fill="#dddbde"/><rect x="379.85" y="89.60" width="2.25" height="5.3" fill="#d6601f"/><rect x="383.55" y="83.30" width="2.25" height="5.0" fill="#dddbde"/><rect x="383.55" y="89.60" width="2.25" height="5.3" fill="#d6601f"/><rect x="387.25" y="83.30" width="2.25" height="5.0" fill="#dddbde"/><rect x="387.25" y="89.60" width="2.25" height="5.3" fill="#d6601f"/><rect x="390.95" y="83.30" width="2.25" height="5.0" fill="#dddbde"/><rect x="390.95" y="89.60" width="2.25" height="5.3" fill="#d6601f"/><rect x="394.66" y="83.30" width="2.25" height="5.0" fill="#dddbde"/><rect x="394.66" y="89.60" width="2.25" height="5.3" fill="#d6601f"/><rect x="398.36" y="83.30" width="2.25" height="5.0" fill="#dddbde"/><rect x="398.36" y="89.60" width="2.25" height="5.3" fill="#d6601f"/><rect x="402.06" y="83.30" width="2.25" height="5.0" fill="#dddbde"/><rect x="402.06" y="89.60" width="2.25" height="5.3" fill="#d6601f"/><rect x="405.76" y="83.30" width="2.25" height="5.0" fill="#dddbde"/><rect x="405.76" y="89.60" width="2.25" height="5.3" fill="#d6601f"/><rect x="409.47" y="83.30" width="2.25" height="5.0" fill="#dddbde"/><rect x="409.47" y="89.60" width="2.25" height="5.3" fill="#d6601f"/><rect x="413.17" y="83.30" width="2.25" height="5.0" fill="#dddbde"/><rect x="413.17" y="89.60" width="2.25" height="5.3" fill="#d6601f"/><rect x="416.87" y="83.30" width="2.25" height="5.0" fill="#dddbde"/><rect x="416.87" y="89.60" width="2.25" height="5.3" fill="#d6601f"/><rect x="420.57" y="83.30" width="2.25" height="5.0" fill="#dddbde"/><rect x="420.57" y="89.60" width="2.25" height="5.3" fill="#d6601f"/><rect x="424.28" y="83.30" width="2.25" height="5.0" fill="#dddbde"/><rect x="424.28" y="89.60" width="2.25" height="5.3" fill="#d6601f"/><rect x="427.98" y="83.30" width="2.25" height="5.0" fill="#dddbde"/><rect x="427.98" y="89.60" width="2.25" height="5.3" fill="#d6601f"/><rect x="431.68" y="83.30" width="2.25" height="5.0" fill="#dddbde"/><rect x="431.68" y="89.60" width="2.25" height="5.3" fill="#d6601f"/><rect x="435.38" y="83.30" width="2.25" height="5.0" fill="#dddbde"/><rect x="435.38" y="89.60" width="2.25" height="5.3" fill="#d6601f"/><rect x="439.09" y="83.30" width="2.25" height="5.0" fill="#dddbde"/><rect x="439.09" y="89.60" width="2.25" height="5.3" fill="#d6601f"/><rect x="442.79" y="83.30" width="2.25" height="5.0" fill="#dddbde"/><rect x="442.79" y="89.60" width="2.25" height="5.3" fill="#d6601f"/><rect x="446.49" y="83.30" width="2.25" height="5.0" fill="#dddbde"/><rect x="446.49" y="89.60" width="2.25" height="5.3" fill="#d6601f"/><rect x="450.19" y="83.30" width="2.25" height="5.0" fill="#dddbde"/><rect x="450.19" y="89.60" width="2.25" height="5.3" fill="#d6601f"/><rect x="453.90" y="83.30" width="2.25" height="5.0" fill="#dddbde"/><rect x="453.90" y="89.60" width="2.25" height="5.3" fill="#d6601f"/><rect x="457.60" y="83.30" width="2.25" height="5.0" fill="#dddbde"/><rect x="457.60" y="89.60" width="2.25" height="5.3" fill="#d6601f"/><rect x="461.30" y="83.30" width="2.25" height="5.0" fill="#dddbde"/><rect x="461.30" y="89.60" width="2.25" height="5.3" fill="#d6601f"/><rect x="465.00" y="83.30" width="2.25" height="5.0" fill="#dddbde"/><rect x="465.00" y="89.60" width="2.25" height="5.3" fill="#d6601f"/><rect x="468.71" y="83.30" width="2.25" height="5.0" fill="#dddbde"/><rect x="468.71" y="89.60" width="2.25" height="5.3" fill="#d6601f"/><rect x="472.41" y="83.30" width="2.25" height="5.0" fill="#dddbde"/><rect x="472.41" y="89.60" width="2.25" height="5.3" fill="#d6601f"/><rect x="476.11" y="83.30" width="2.25" height="5.0" fill="#dddbde"/><rect x="476.11" y="89.60" width="2.25" height="5.3" fill="#d6601f"/><rect x="479.81" y="83.30" width="2.25" height="5.0" fill="#dddbde"/><rect x="479.81" y="89.60" width="2.25" height="5.3" fill="#d6601f"/><rect x="483.52" y="83.30" width="2.25" height="5.0" fill="#dddbde"/><rect x="483.52" y="89.60" width="2.25" height="5.3" fill="#d6601f"/><rect x="487.22" y="83.30" width="2.25" height="5.0" fill="#dddbde"/><rect x="487.22" y="89.60" width="2.25" height="5.3" fill="#d6601f"/><rect x="490.92" y="83.30" width="2.25" height="5.0" fill="#dddbde"/><rect x="490.92" y="89.60" width="2.25" height="5.3" fill="#d6601f"/><rect x="494.62" y="83.30" width="2.25" height="5.0" fill="#dddbde"/><rect x="494.62" y="89.60" width="2.25" height="5.3" fill="#d6601f"/><rect x="498.33" y="83.30" width="2.25" height="5.0" fill="#dddbde"/><rect x="498.33" y="89.60" width="2.25" height="5.3" fill="#d6601f"/><rect x="502.03" y="83.30" width="2.25" height="5.0" fill="#dddbde"/><rect x="502.03" y="89.60" width="2.25" height="5.3" fill="#d6601f"/><rect x="505.73" y="83.30" width="2.25" height="5.0" fill="#dddbde"/><rect x="505.73" y="89.60" width="2.25" height="5.3" fill="#d6601f"/><rect x="509.44" y="83.30" width="2.25" height="5.0" fill="#dddbde"/><rect x="509.44" y="89.60" width="2.25" height="5.3" fill="#d6601f"/></g>
<rect x="50.0" y="21.6" width="462.4" height="27.5" fill="none" stroke="#000" stroke-width="1.4"/>
<rect x="50.0" y="52.5" width="462.4" height="28.299999999999997" fill="none" stroke="#000" stroke-width="1.4"/>
<rect x="50.0" y="82.6" width="462.4" height="13.100000000000009" fill="none" stroke="#000" stroke-width="1.4"/>
<rect x="46.4" y="24.75" width="3.3" height="1" fill="#000"/>
<text x="43.7" y="26.85" font-size="4.25" text-anchor="end">NCI risk</text>
<rect x="46.4" y="31.75" width="3.3" height="1" fill="#000"/>
<text x="43.7" y="33.85" font-size="4.25" text-anchor="end">Sex</text>
<rect x="46.4" y="38.75" width="3.3" height="1" fill="#000"/>
<text x="43.7" y="40.85" font-size="4.25" text-anchor="end">Ph-like</text>
<rect x="46.4" y="45.45" width="3.3" height="1" fill="#000"/>
<text x="43.7" y="47.55" font-size="4.25" text-anchor="end">CRLF2 ΔCT</text>
<rect x="46.4" y="55.65" width="3.3" height="1" fill="#000"/>
<text x="43.7" y="57.75" font-size="4.25" text-anchor="end">CRLF2 (125)</text>
<rect x="46.4" y="62.75" width="3.3" height="1" fill="#000"/>
<text x="43.7" y="64.85" font-size="4.25" text-anchor="end">JAK2 (46)</text>
<rect x="46.4" y="69.90" width="3.3" height="1" fill="#000"/>
<text x="43.7" y="72.00" font-size="4.25" text-anchor="end">JAK1 (10)</text>
<rect x="46.4" y="78.00" width="3.3" height="1" fill="#000"/>
<text x="43.7" y="80.10" font-size="4.25" text-anchor="end">IL7R (8)</text>
<rect x="46.4" y="85.50" width="3.3" height="1" fill="#000"/>
<text x="43.7" y="87.60" font-size="4.25" text-anchor="end">IGH (61)</text>
<rect x="46.4" y="92.30" width="3.3" height="1" fill="#000"/>
<text x="43.7" y="94.40" font-size="4.25" text-anchor="end">P2RY8 (64)</text>
<text class="smp" transform="translate(52.60,102.2) rotate(-90)" font-size="3.25" text-anchor="end">PAURRT</text>
<text class="smp" transform="translate(56.30,102.2) rotate(-90)" font-size="3.25" text-anchor="end">PAGFTSX</text>
<text class="smp" transform="translate(60.01,102.2) rotate(-90)" font-size="3.25" text-anchor="end">PAFDRKE</text>
<text class="smp" transform="translate(63.71,102.2) rotate(-90)" font-size="3.25" text-anchor="end">PAUZXB</text>
<text class="smp" transform="translate(67.41,102.2) rotate(-90)" font-size="3.25" text-anchor="end">PANRXWX</text>
<text class="smp" transform="translate(71.11,102.2) rotate(-90)" font-size="3.25" text-anchor="end">PAWATC</text>
<text class="smp" transform="translate(74.82,102.2) rotate(-90)" font-size="3.25" text-anchor="end">PABGHW</text>
<text class="smp" transform="translate(78.52,102.2) rotate(-90)" font-size="3.25" text-anchor="end">PARLRV</text>
<text class="smp" transform="translate(82.22,102.2) rotate(-90)" font-size="3.25" text-anchor="end">PATHXK</text>
<text class="smp" transform="translate(85.92,102.2) rotate(-90)" font-size="3.25" text-anchor="end">PAAYCR</text>
<text class="smp" transform="translate(89.62,102.2) rotate(-90)" font-size="3.25" text-anchor="end">PAJPUCZ</text>
<text class="smp" transform="translate(93.33,102.2) rotate(-90)" font-size="3.25" text-anchor="end">PALHTK</text>
<text class="smp" transform="translate(97.03,102.2) rotate(-90)" font-size="3.25" text-anchor="end">PACVDN</text>
<text class="smp" transform="translate(100.73,102.2) rotate(-90)" font-size="3.25" text-anchor="end">PAKNCA</text>
<text class="smp" transform="translate(104.44,102.2) rotate(-90)" font-size="3.25" text-anchor="end">PAAGGBS</text>
<text class="smp" transform="translate(108.14,102.2) rotate(-90)" font-size="3.25" text-anchor="end">PAZNPC</text>
<text class="smp" transform="translate(111.84,102.2) rotate(-90)" font-size="3.25" text-anchor="end">PAXGYJL</text>
<text class="smp" transform="translate(115.54,102.2) rotate(-90)" font-size="3.25" text-anchor="end">PAKLAP</text>
<text class="smp" transform="translate(119.25,102.2) rotate(-90)" font-size="3.25" text-anchor="end">PAEHZD</text>
<text class="smp" transform="translate(122.95,102.2) rotate(-90)" font-size="3.25" text-anchor="end">PABRSF</text>
<text class="smp" transform="translate(126.65,102.2) rotate(-90)" font-size="3.25" text-anchor="end">PAUGRTG</text>
<text class="smp" transform="translate(130.35,102.2) rotate(-90)" font-size="3.25" text-anchor="end">PAEPXND</text>
<text class="smp" transform="translate(134.06,102.2) rotate(-90)" font-size="3.25" text-anchor="end">PAPGAJ</text>
<text class="smp" transform="translate(137.76,102.2) rotate(-90)" font-size="3.25" text-anchor="end">PAKAGFN</text>
<text class="smp" transform="translate(141.46,102.2) rotate(-90)" font-size="3.25" text-anchor="end">PAXVDBE</text>
<text class="smp" transform="translate(145.16,102.2) rotate(-90)" font-size="3.25" text-anchor="end">PARJAW</text>
<text class="smp" transform="translate(148.87,102.2) rotate(-90)" font-size="3.25" text-anchor="end">PAKNCC</text>
<text class="smp" transform="translate(152.57,102.2) rotate(-90)" font-size="3.25" text-anchor="end">PAGVXH</text>
<text class="smp" transform="translate(156.27,102.2) rotate(-90)" font-size="3.25" text-anchor="end">PAWMMW</text>
<text class="smp" transform="translate(159.97,102.2) rotate(-90)" font-size="3.25" text-anchor="end">PAEVSV</text>
<text class="smp" transform="translate(163.68,102.2) rotate(-90)" font-size="3.25" text-anchor="end">PANFXE</text>
<text class="smp" transform="translate(167.38,102.2) rotate(-90)" font-size="3.25" text-anchor="end">PAHWHG</text>
<text class="smp" transform="translate(171.08,102.2) rotate(-90)" font-size="3.25" text-anchor="end">PAXUGY</text>
<text class="smp" transform="translate(174.78,102.2) rotate(-90)" font-size="3.25" text-anchor="end">PASWCP</text>
<text class="smp" transform="translate(178.49,102.2) rotate(-90)" font-size="3.25" text-anchor="end">PADDBT</text>
<text class="smp" transform="translate(182.19,102.2) rotate(-90)" font-size="3.25" text-anchor="end">PAHZNJ</text>
<text class="smp" transform="translate(185.89,102.2) rotate(-90)" font-size="3.25" text-anchor="end">PAWSKT</text>
<text class="smp" transform="translate(189.59,102.2) rotate(-90)" font-size="3.25" text-anchor="end">PACEHS</text>
<text class="smp" transform="translate(193.29,102.2) rotate(-90)" font-size="3.25" text-anchor="end">PAXWWCJ</text>
<text class="smp" transform="translate(197.00,102.2) rotate(-90)" font-size="3.25" text-anchor="end">PAGACJ</text>
<text class="smp" transform="translate(200.70,102.2) rotate(-90)" font-size="3.25" text-anchor="end">PARHBB</text>
<text class="smp" transform="translate(204.40,102.2) rotate(-90)" font-size="3.25" text-anchor="end">PAKMTV</text>
<text class="smp" transform="translate(208.10,102.2) rotate(-90)" font-size="3.25" text-anchor="end">PACMER</text>
<text class="smp" transform="translate(211.81,102.2) rotate(-90)" font-size="3.25" text-anchor="end">PAYZTV</text>
<text class="smp" transform="translate(215.51,102.2) rotate(-90)" font-size="3.25" text-anchor="end">PAVBAS</text>
<text class="smp" transform="translate(219.21,102.2) rotate(-90)" font-size="3.25" text-anchor="end">PAZKBA</text>
<text class="smp" transform="translate(222.91,102.2) rotate(-90)" font-size="3.25" text-anchor="end">PAXCSCK</text>
<text class="smp" transform="translate(226.62,102.2) rotate(-90)" font-size="3.25" text-anchor="end">PAECCR</text>
<text class="smp" transform="translate(230.32,102.2) rotate(-90)" font-size="3.25" text-anchor="end">PAMBZEL</text>
<text class="smp" transform="translate(234.02,102.2) rotate(-90)" font-size="3.25" text-anchor="end">PACYSC</text>
<text class="smp" transform="translate(237.72,102.2) rotate(-90)" font-size="3.25" text-anchor="end">PAASVA</text>
<text class="smp" transform="translate(241.43,102.2) rotate(-90)" font-size="3.25" text-anchor="end">PAYNNVA</text>
<text class="smp" transform="translate(245.13,102.2) rotate(-90)" font-size="3.25" text-anchor="end">PACCCXD</text>
<text class="smp" transform="translate(248.83,102.2) rotate(-90)" font-size="3.25" text-anchor="end">PAPLNZ</text>
<text class="smp" transform="translate(252.53,102.2) rotate(-90)" font-size="3.25" text-anchor="end">PARRRUC</text>
<text class="smp" transform="translate(256.24,102.2) rotate(-90)" font-size="3.25" text-anchor="end">PATAKWC</text>
<text class="smp" transform="translate(259.94,102.2) rotate(-90)" font-size="3.25" text-anchor="end">PAAHZD</text>
<text class="smp" transform="translate(263.64,102.2) rotate(-90)" font-size="3.25" text-anchor="end">PAWYSJ</text>
<text class="smp" transform="translate(267.34,102.2) rotate(-90)" font-size="3.25" text-anchor="end">PAMKEY</text>
<text class="smp" transform="translate(271.05,102.2) rotate(-90)" font-size="3.25" text-anchor="end">PAGTFLY</text>
<text class="smp" transform="translate(274.75,102.2) rotate(-90)" font-size="3.25" text-anchor="end">PASHLN</text>
<text class="smp" transform="translate(278.45,102.2) rotate(-90)" font-size="3.25" text-anchor="end">PAJGXPG</text>
<text class="smp" transform="translate(282.15,102.2) rotate(-90)" font-size="3.25" text-anchor="end">PANHVL</text>
<text class="smp" transform="translate(285.86,102.2) rotate(-90)" font-size="3.25" text-anchor="end">PAEESM</text>
<text class="smp" transform="translate(289.56,102.2) rotate(-90)" font-size="3.25" text-anchor="end">PAZCJF</text>
<text class="smp" transform="translate(293.26,102.2) rotate(-90)" font-size="3.25" text-anchor="end">PARSJG</text>
<text class="smp" transform="translate(296.96,102.2) rotate(-90)" font-size="3.25" text-anchor="end">PANXTS</text>
<text class="smp" transform="translate(300.67,102.2) rotate(-90)" font-size="3.25" text-anchor="end">PALZWRL</text>
<text class="smp" transform="translate(304.37,102.2) rotate(-90)" font-size="3.25" text-anchor="end">PABJWB</text>
<text class="smp" transform="translate(308.07,102.2) rotate(-90)" font-size="3.25" text-anchor="end">PAZJVMK</text>
<text class="smp" transform="translate(311.77,102.2) rotate(-90)" font-size="3.25" text-anchor="end">PAVAXEN</text>
<text class="smp" transform="translate(315.48,102.2) rotate(-90)" font-size="3.25" text-anchor="end">PAGAJH</text>
<text class="smp" transform="translate(319.18,102.2) rotate(-90)" font-size="3.25" text-anchor="end">PABXDR</text>
<text class="smp" transform="translate(322.88,102.2) rotate(-90)" font-size="3.25" text-anchor="end">PAXUXX</text>
<text class="smp" transform="translate(326.58,102.2) rotate(-90)" font-size="3.25" text-anchor="end">PACYGG</text>
<text class="smp" transform="translate(330.29,102.2) rotate(-90)" font-size="3.25" text-anchor="end">PAJFZA</text>
<text class="smp" transform="translate(333.99,102.2) rotate(-90)" font-size="3.25" text-anchor="end">PAUZBF</text>
<text class="smp" transform="translate(337.69,102.2) rotate(-90)" font-size="3.25" text-anchor="end">PAJMUZ</text>
<text class="smp" transform="translate(341.39,102.2) rotate(-90)" font-size="3.25" text-anchor="end">PATWFNZ</text>
<text class="smp" transform="translate(345.10,102.2) rotate(-90)" font-size="3.25" text-anchor="end">PACPNE</text>
<text class="smp" transform="translate(348.80,102.2) rotate(-90)" font-size="3.25" text-anchor="end">PARGXA</text>
<text class="smp" transform="translate(352.50,102.2) rotate(-90)" font-size="3.25" text-anchor="end">PAUVXT</text>
<text class="smp" transform="translate(356.20,102.2) rotate(-90)" font-size="3.25" text-anchor="end">PARLXG</text>
<text class="smp" transform="translate(359.91,102.2) rotate(-90)" font-size="3.25" text-anchor="end">PAXZDG</text>
<text class="smp" transform="translate(363.61,102.2) rotate(-90)" font-size="3.25" text-anchor="end">PANCKU</text>
<text class="smp" transform="translate(367.31,102.2) rotate(-90)" font-size="3.25" text-anchor="end">PAJZAM</text>
<text class="smp" transform="translate(371.01,102.2) rotate(-90)" font-size="3.25" text-anchor="end">PACBRLU</text>
<text class="smp" transform="translate(374.72,102.2) rotate(-90)" font-size="3.25" text-anchor="end">PAJSAG</text>
<text class="smp" transform="translate(378.42,102.2) rotate(-90)" font-size="3.25" text-anchor="end">PAPBFU</text>
<text class="smp" transform="translate(382.12,102.2) rotate(-90)" font-size="3.25" text-anchor="end">PAYESE</text>
<text class="smp" transform="translate(385.82,102.2) rotate(-90)" font-size="3.25" text-anchor="end">PATYZRS</text>
<text class="smp" transform="translate(389.53,102.2) rotate(-90)" font-size="3.25" text-anchor="end">PAZCHRT</text>
<text class="smp" transform="translate(393.23,102.2) rotate(-90)" font-size="3.25" text-anchor="end">PAKUXFT</text>
<text class="smp" transform="translate(396.93,102.2) rotate(-90)" font-size="3.25" text-anchor="end">PAUJKYN</text>
<text class="smp" transform="translate(400.63,102.2) rotate(-90)" font-size="3.25" text-anchor="end">PAGKEUT</text>
<text class="smp" transform="translate(404.34,102.2) rotate(-90)" font-size="3.25" text-anchor="end">PAVSGP</text>
<text class="smp" transform="translate(408.04,102.2) rotate(-90)" font-size="3.25" text-anchor="end">PADTAWN</text>
<text class="smp" transform="translate(411.74,102.2) rotate(-90)" font-size="3.25" text-anchor="end">PAUBTN</text>
<text class="smp" transform="translate(415.44,102.2) rotate(-90)" font-size="3.25" text-anchor="end">PAVDSCZ</text>
<text class="smp" transform="translate(419.15,102.2) rotate(-90)" font-size="3.25" text-anchor="end">PACURP</text>
<text class="smp" transform="translate(422.85,102.2) rotate(-90)" font-size="3.25" text-anchor="end">PAJHSS</text>
<text class="smp" transform="translate(426.55,102.2) rotate(-90)" font-size="3.25" text-anchor="end">PALPST</text>
<text class="smp" transform="translate(430.25,102.2) rotate(-90)" font-size="3.25" text-anchor="end">PADGPW</text>
<text class="smp" transform="translate(433.96,102.2) rotate(-90)" font-size="3.25" text-anchor="end">PAJEZA</text>
<text class="smp" transform="translate(437.66,102.2) rotate(-90)" font-size="3.25" text-anchor="end">PAGEHA</text>
<text class="smp" transform="translate(441.36,102.2) rotate(-90)" font-size="3.25" text-anchor="end">PAKLMHW</text>
<text class="smp" transform="translate(445.06,102.2) rotate(-90)" font-size="3.25" text-anchor="end">PADSVD</text>
<text class="smp" transform="translate(448.77,102.2) rotate(-90)" font-size="3.25" text-anchor="end">PAWJZGZ</text>
<text class="smp" transform="translate(452.47,102.2) rotate(-90)" font-size="3.25" text-anchor="end">PAPANXP</text>
<text class="smp" transform="translate(456.17,102.2) rotate(-90)" font-size="3.25" text-anchor="end">PAWFUGX</text>
<text class="smp" transform="translate(459.88,102.2) rotate(-90)" font-size="3.25" text-anchor="end">PAXGTGU</text>
<text class="smp" transform="translate(463.58,102.2) rotate(-90)" font-size="3.25" text-anchor="end">PAVEHXM</text>
<text class="smp" transform="translate(467.28,102.2) rotate(-90)" font-size="3.25" text-anchor="end">PALWLG</text>
<text class="smp" transform="translate(470.98,102.2) rotate(-90)" font-size="3.25" text-anchor="end">PAGDEH</text>
<text class="smp" transform="translate(474.69,102.2) rotate(-90)" font-size="3.25" text-anchor="end">PACJND</text>
<text class="smp" transform="translate(478.39,102.2) rotate(-90)" font-size="3.25" text-anchor="end">PAPUZE</text>
<text class="smp" transform="translate(482.09,102.2) rotate(-90)" font-size="3.25" text-anchor="end">PANXYA</text>
<text class="smp" transform="translate(485.79,102.2) rotate(-90)" font-size="3.25" text-anchor="end">PAGVYM</text>
<text class="smp" transform="translate(489.50,102.2) rotate(-90)" font-size="3.25" text-anchor="end">PADZTX</text>
<text class="smp" transform="translate(493.20,102.2) rotate(-90)" font-size="3.25" text-anchor="end">PATYGC</text>
<text class="smp" transform="translate(496.90,102.2) rotate(-90)" font-size="3.25" text-anchor="end">PADABU</text>
<text class="smp" transform="translate(500.60,102.2) rotate(-90)" font-size="3.25" text-anchor="end">PATVSEG</text>
<text class="smp" transform="translate(504.31,102.2) rotate(-90)" font-size="3.25" text-anchor="end">PADGFF</text>
<text class="smp" transform="translate(508.01,102.2) rotate(-90)" font-size="3.25" text-anchor="end">PAYDVB</text>
<text class="smp" transform="translate(511.71,102.2) rotate(-90)" font-size="3.25" text-anchor="end">PAYRCD</text>
<text x="159.9" y="127.6" font-size="4.2">Lesion</text>
<rect x="160.1" y="130.80" width="3" height="5.7" fill="#3fa544"/>
<text x="165.6" y="135.20" font-size="4.3">Fusion 3' gene</text>
<rect x="160.1" y="138.55" width="3" height="5.7" fill="#d6601f"/>
<text x="165.6" y="142.95" font-size="4.3">Fusion 5' gene</text>
<rect x="160.1" y="146.30" width="3" height="5.7" fill="#2f7fc6"/>
<text x="165.6" y="150.70" font-size="4.3">Missense</text>
<rect x="160.1" y="154.05" width="3" height="5.7" fill="#8a4a3c"/>
<text x="165.6" y="158.45" font-size="4.3">Indel</text>
<text x="214.8" y="127.6" font-size="4.2">NCI Risk</text>
<rect x="215.0" y="130.80" width="3" height="5.7" fill="#000000"/>
<text x="222.10000000000002" y="135.20" font-size="4.3">High</text>
<rect x="215.0" y="138.55" width="3" height="5.7" fill="#e3e3e8"/>
<text x="222.10000000000002" y="142.95" font-size="4.3">Standard</text>
<text x="255.2" y="127.6" font-size="4.2">Sex</text>
<rect x="255.39999999999998" y="130.80" width="3" height="5.7" fill="#c8401c"/>
<text x="262.2" y="135.20" font-size="4.3">Female</text>
<rect x="255.39999999999998" y="138.55" width="3" height="5.7" fill="#2b1b8c"/>
<text x="262.2" y="142.95" font-size="4.3">Male</text>
<text x="295.4" y="127.6" font-size="4.2">Ph-like coefficient</text>
<rect x="295.59999999999997" y="130.80" width="3" height="5.7" fill="#f6d2d2"/>
<text x="301.2" y="135.20" font-size="4.3">0.5-0.64</text>
<rect x="295.59999999999997" y="138.55" width="3" height="5.7" fill="#e79a98"/>
<text x="301.2" y="142.95" font-size="4.3">0.65-0.79</text>
<rect x="295.59999999999997" y="146.30" width="3" height="5.7" fill="#c9282a"/>
<text x="301.2" y="150.70" font-size="4.3">&gt; 0.8</text>
<text x="355.2" y="127.6" font-size="4.2">CRLF2 ΔCT</text>
<rect x="355.4" y="130.80" width="3" height="5.7" fill="#000000"/>
<text x="361.5" y="135.20" font-size="4.3">≤ 4</text>
<rect x="355.4" y="138.55" width="3" height="5.7" fill="#e3e3e8"/>
<text x="361.5" y="142.95" font-size="4.3">&gt; 4</text>
<text x="7.6" y="16" font-size="11.6" font-weight="bold">A</text>
<text x="7.9" y="187" font-size="11.6" font-weight="bold">B</text>
<rect x="20.4" y="238.4" width="230.65" height="12.299999999999983" fill="#fff" stroke="#000" stroke-width="1.1"/>
<rect x="27.39" y="238.85" width="50.72" height="11.399999999999983" fill="#1b9fc9" stroke="#000" stroke-width="0.5"/>
<rect x="108.07" y="238.85" width="20.97" height="11.399999999999983" fill="#1878b2" stroke="#000" stroke-width="0.5"/>
<rect x="136.83" y="238.85" width="54.32" height="11.399999999999983" fill="#cb4f1e" stroke="#000" stroke-width="0.5"/>
<rect x="195.14" y="238.85" width="55.72" height="11.399999999999983" fill="#e3861c" stroke="#000" stroke-width="0.5"/>
<rect x="20.4" y="238.4" width="230.65" height="12.299999999999983" fill="none" stroke="#000" stroke-width="1.1"/>
<rect x="17.599999999999998" y="255.4" width="235.85" height="1.2" fill="#000"/>
<rect x="19.95" y="255.4" width="1.0" height="3.6" fill="#000"/>
<text x="20.40" y="266.4" font-size="5.6" text-anchor="middle">0</text>
<rect x="59.89" y="255.4" width="1.0" height="3.6" fill="#000"/>
<text x="60.34" y="266.4" font-size="5.6" text-anchor="middle">200</text>
<rect x="99.83" y="255.4" width="1.0" height="3.6" fill="#000"/>
<text x="100.28" y="266.4" font-size="5.6" text-anchor="middle">400</text>
<rect x="139.77" y="255.4" width="1.0" height="3.6" fill="#000"/>
<text x="140.22" y="266.4" font-size="5.6" text-anchor="middle">600</text>
<rect x="179.71" y="255.4" width="1.0" height="3.6" fill="#000"/>
<text x="180.16" y="266.4" font-size="5.6" text-anchor="middle">800</text>
<rect x="219.65" y="255.4" width="1.0" height="3.6" fill="#000"/>
<text x="220.10" y="266.4" font-size="5.6" text-anchor="middle">1000</text>
<rect x="250.60" y="255.4" width="1.0" height="3.6" fill="#000"/>
<text x="251.05" y="266.4" font-size="5.5" text-anchor="middle">1155aa</text>
<text x="20.4" y="274.1" font-size="5.4" font-weight="bold">JAK1</text>
<text x="20.4" y="281.9" font-size="5.4">NM_002227</text>
<rect x="20.0" y="285.30" width="2.7" height="2.7" fill="#1b9fc9"/>
<text x="26.099999999999998" y="288.10" font-size="4.33">FERM</text>
<rect x="20.0" y="291.90" width="2.7" height="2.7" fill="#1878b2"/>
<text x="26.099999999999998" y="294.70" font-size="4.33">SH2</text>
<rect x="20.0" y="298.50" width="2.7" height="2.7" fill="#cb4f1e"/>
<text x="26.099999999999998" y="301.30" font-size="4.33">JH2 pseudokinase</text>
<rect x="20.0" y="305.10" width="2.7" height="2.7" fill="#e3861c"/>
<text x="26.099999999999998" y="307.90" font-size="4.33">JH1 kinase</text>
<circle cx="234.9" cy="276.4" r="1.05" fill="#d9262a"/>
<text x="239.5" y="277.9" font-size="4.2">Missense</text>
<circle cx="234.9" cy="283.3" r="1.05" fill="#2e9a4a"/>
<text x="239.5" y="284.8" font-size="4.2">Insertion</text>
<path d="M66.30 217.9 L66.30 250.7" fill="none" stroke="#1a1a1a" stroke-width="0.95"/>
<circle cx="66.30" cy="231.20" r="1.2" fill="#d9262a"/>
<text transform="translate(67.65,217.4) rotate(-90)" font-size="3.9">S229Y</text>
<path d="M140.90 217.1 L140.90 231.3 Q140.90 233.9 143.30 233.9 L144.10 233.9 Q146.50 233.9 146.50 236.5 L146.50 250.7" fill="none" stroke="#1a1a1a" stroke-width="0.95"/>
<circle cx="140.90" cy="231.00" r="1.2" fill="#2e9a4a"/>
<text transform="translate(142.25,216.6) rotate(-90)" font-size="3.9">I631&gt;GPL</text>
<path d="M146.40 217.1 L146.40 231.8 C146.40 234.6 149.80 233.4 149.80 236.6 L149.80 250.7" fill="none" stroke="#1a1a1a" stroke-width="0.95"/>
<circle cx="146.40" cy="231.00" r="1.2" fill="#d9262a"/>
<text transform="translate(147.75,216.6) rotate(-90)" font-size="3.9">V651M</text>
<path d="M150.20 217.1 L150.20 250.7" fill="none" stroke="#1a1a1a" stroke-width="0.95"/>
<circle cx="150.20" cy="231.00" r="1.2" fill="#d9262a"/>
<text transform="translate(151.55,216.6) rotate(-90)" font-size="3.9">V658F</text>
<path d="M154.40 217.1 L154.40 231.8 C154.40 234.6 150.80 233.4 150.80 236.6 L150.80 250.7" fill="none" stroke="#1a1a1a" stroke-width="0.95"/>
<circle cx="154.40" cy="231.00" r="1.2" fill="#d9262a"/>
<circle cx="154.40" cy="228.55" r="1.2" fill="#d9262a"/>
<text transform="translate(155.75,216.6) rotate(-90)" font-size="3.9">V658L</text>
<path d="M159.00 217.1 L159.00 231.3 Q159.00 233.9 156.60 233.9 L153.80 233.9 Q151.40 233.9 151.40 236.5 L151.40 250.7" fill="none" stroke="#1a1a1a" stroke-width="0.95"/>
<circle cx="159.00" cy="231.00" r="1.2" fill="#d9262a"/>
<circle cx="159.00" cy="228.55" r="1.2" fill="#d9262a"/>
<circle cx="159.00" cy="226.10" r="1.2" fill="#d9262a"/>
<text transform="translate(160.35,216.6) rotate(-90)" font-size="3.9">V658F</text>
<path d="M168.30 217.1 L168.30 231.3 Q168.30 233.9 165.90 233.9 L162.30 233.9 Q159.90 233.9 159.90 236.5 L159.90 250.7" fill="none" stroke="#1a1a1a" stroke-width="0.95"/>
<circle cx="168.30" cy="231.00" r="1.2" fill="#d9262a"/>
<text transform="translate(169.65,216.6) rotate(-90)" font-size="3.9">S703I</text>
<rect x="272.3" y="237.8" width="231.27" height="12.299999999999983" fill="#fff" stroke="#000" stroke-width="1.1"/>
<rect x="280.27" y="238.25" width="48.01" height="11.399999999999983" fill="#1b9fc9" stroke="#000" stroke-width="0.5"/>
<rect x="351.57" y="238.25" width="19.61" height="11.399999999999983" fill="#1878b2" stroke="#000" stroke-width="0.5"/>
<rect x="383.64" y="238.25" width="52.71" height="11.399999999999983" fill="#cb4f1e" stroke="#000" stroke-width="0.5"/>
<rect x="444.52" y="238.25" width="58.63" height="11.399999999999983" fill="#e3861c" stroke="#000" stroke-width="0.5"/>
<rect x="272.3" y="237.8" width="231.27" height="12.299999999999983" fill="none" stroke="#000" stroke-width="1.1"/>
<rect x="269.5" y="255.4" width="236.47" height="1.2" fill="#000"/>
<rect x="271.85" y="255.4" width="1.0" height="3.6" fill="#000"/>
<text x="272.30" y="266.1" font-size="5.6" text-anchor="middle">0</text>
<rect x="312.71" y="255.4" width="1.0" height="3.6" fill="#000"/>
<text x="313.16" y="266.1" font-size="5.6" text-anchor="middle">200</text>
<rect x="353.57" y="255.4" width="1.0" height="3.6" fill="#000"/>
<text x="354.02" y="266.1" font-size="5.6" text-anchor="middle">400</text>
<rect x="394.43" y="255.4" width="1.0" height="3.6" fill="#000"/>
<text x="394.88" y="266.1" font-size="5.6" text-anchor="middle">600</text>
<rect x="435.29" y="255.4" width="1.0" height="3.6" fill="#000"/>
<text x="435.74" y="266.1" font-size="5.6" text-anchor="middle">800</text>
<rect x="476.15" y="255.4" width="1.0" height="3.6" fill="#000"/>
<text x="476.60" y="266.1" font-size="5.6" text-anchor="middle">1000</text>
<rect x="503.12" y="255.4" width="1.0" height="3.6" fill="#000"/>
<text x="503.57" y="266.1" font-size="5.5" text-anchor="middle">1132aa</text>
<text x="273.0" y="274.1" font-size="5.4" font-weight="bold">JAK2</text>
<text x="273.0" y="281.9" font-size="5.4">NM_004972</text>
<rect x="271.90000000000003" y="285.30" width="2.7" height="2.7" fill="#1b9fc9"/>
<text x="278.0" y="288.10" font-size="4.33">FERM</text>
<rect x="271.90000000000003" y="291.90" width="2.7" height="2.7" fill="#1878b2"/>
<text x="278.0" y="294.70" font-size="4.33">SH2</text>
<rect x="271.90000000000003" y="298.50" width="2.7" height="2.7" fill="#cb4f1e"/>
<text x="278.0" y="301.30" font-size="4.33">JH2 pseudokinase</text>
<rect x="271.90000000000003" y="305.10" width="2.7" height="2.7" fill="#e3861c"/>
<text x="278.0" y="307.90" font-size="4.33">JH1 kinase</text>
<circle cx="486.6" cy="276.4" r="1.05" fill="#d9262a"/>
<text x="491.20000000000005" y="277.9" font-size="4.2">Missense</text>
<circle cx="486.6" cy="283.3" r="1.05" fill="#2e9a4a"/>
<text x="491.20000000000005" y="284.8" font-size="4.2">Insertion</text>
<path d="M380.80 217.1 L380.80 231.3 Q380.80 233.5 383.20 233.5 L404.50 233.5 Q406.90 233.5 406.90 236.1 L406.90 250.1" fill="none" stroke="#1a1a1a" stroke-width="0.95"/>
<circle cx="380.80" cy="230.40" r="1.2" fill="#d9262a"/>
<text transform="translate(382.15,216.6) rotate(-90)" font-size="3.9">L611S</text>
<path d="M388.00 217.1 L388.00 231.3 Q388.00 233.5 390.40 233.5 L404.50 233.5 Q406.90 233.5 406.90 236.1 L406.90 250.1" fill="none" stroke="#1a1a1a" stroke-width="0.95"/>
<circle cx="388.00" cy="230.40" r="1.2" fill="#2e9a4a"/>
<text transform="translate(389.35,216.6) rotate(-90)" font-size="3.9">L681&gt;AF</text>
<path d="M392.80 217.1 L392.80 231.3 Q392.80 233.5 395.20 233.5 L404.50 233.5 Q406.90 233.5 406.90 236.1 L406.90 250.1" fill="none" stroke="#1a1a1a" stroke-width="0.95"/>
<circle cx="392.80" cy="230.40" r="1.2" fill="#d9262a"/>
<circle cx="392.80" cy="227.95" r="1.2" fill="#d9262a"/>
<text transform="translate(394.15,216.6) rotate(-90)" font-size="3.9">I682F</text>
<path d="M397.00 217.1 L397.00 231.3 Q397.00 233.5 399.40 233.5 L404.50 233.5 Q406.90 233.5 406.90 236.1 L406.90 250.1" fill="none" stroke="#1a1a1a" stroke-width="0.95"/>
<circle cx="397.00" cy="230.40" r="1.2" fill="#2e9a4a"/>
<text transform="translate(398.35,216.6) rotate(-90)" font-size="3.9">I682&gt;AGTPI</text>
<path d="M401.20 217.1 L401.20 231.3 Q401.20 233.5 403.60 233.5 L408.80 233.5 Q411.20 233.5 411.20 236.1 L411.20 250.1" fill="none" stroke="#1a1a1a" stroke-width="0.95"/>
<circle cx="401.20" cy="230.40" r="1.2" fill="#2e9a4a"/>
<text transform="translate(402.55,216.6) rotate(-90)" font-size="3.9">R683&gt;GEYKI</text>
<path d="M405.80 217.1 L405.80 231.8 C405.80 234.6 411.20 233.4 411.20 236.6 L411.20 250.1" fill="none" stroke="#1a1a1a" stroke-width="0.95"/>
<circle cx="405.80" cy="230.40" r="1.2" fill="#2e9a4a"/>
<text transform="translate(407.15,216.6) rotate(-90)" font-size="3.9">R683&gt;AGTPI</text>
<path d="M410.60 217.1 L410.60 231.8 C410.60 234.6 411.20 233.4 411.20 236.6 L411.20 250.1" fill="none" stroke="#1a1a1a" stroke-width="0.95"/>
<circle cx="410.60" cy="230.40" r="1.2" fill="#2e9a4a"/>
<text transform="translate(411.95,216.6) rotate(-90)" font-size="3.9">R683&gt;GP</text>
<path d="M415.10 217.1 L415.10 231.8 C415.10 234.6 411.20 233.4 411.20 236.6 L411.20 250.1" fill="none" stroke="#1a1a1a" stroke-width="0.95"/>
<circle cx="415.10" cy="229.80" r="2.3" fill="#d9262a"/>
<circle cx="415.10" cy="229.80" r="1.0" fill="#f3b9b2"/>
<text transform="translate(416.45,216.6) rotate(-90)" font-size="3.9">R683G</text>
<path d="M420.70 217.1 L420.70 231.8 C420.70 234.6 416.40 233.4 416.40 236.6 L416.40 250.1" fill="none" stroke="#1a1a1a" stroke-width="0.95"/>
<circle cx="420.70" cy="229.80" r="2.3" fill="#d9262a"/>
<circle cx="420.70" cy="229.80" r="1.0" fill="#f3b9b2"/>
<text transform="translate(422.05,216.6) rotate(-90)" font-size="3.9">R683S</text>
<path d="M425.30 217.1 L425.30 231.3 Q425.30 233.5 422.90 233.5 L418.80 233.5 Q416.40 233.5 416.40 236.1 L416.40 250.1" fill="none" stroke="#1a1a1a" stroke-width="0.95"/>
<circle cx="425.30" cy="230.40" r="1.2" fill="#d9262a"/>
<text transform="translate(426.65,216.6) rotate(-90)" font-size="3.9">R683T</text>
<path d="M429.80 217.1 L429.80 231.3 Q429.80 233.5 427.40 233.5 L418.80 233.5 Q416.40 233.5 416.40 236.1 L416.40 250.1" fill="none" stroke="#1a1a1a" stroke-width="0.95"/>
<circle cx="429.80" cy="230.40" r="1.2" fill="#d9262a"/>
<text transform="translate(431.15,216.6) rotate(-90)" font-size="3.9">F694L</text>
<path d="M450.6 217.1 L450.6 250.1" stroke="#1a1a1a" stroke-width="0.95"/>
<ellipse cx="450.6" cy="230.4" rx="2.9" ry="1.25" fill="#d9262a"/>
<ellipse cx="450.6" cy="227.8" rx="2.9" ry="1.25" fill="#d9262a"/>
<ellipse cx="450.6" cy="225.2" rx="2.9" ry="1.25" fill="#d9262a"/>
<text transform="translate(451.95,216.6) rotate(-90)" font-size="3.9">T875N</text>
<path d="M462.20 217.1 L462.20 250.1" fill="none" stroke="#1a1a1a" stroke-width="0.95"/>
<circle cx="462.20" cy="230.40" r="1.2" fill="#d9262a"/>
<text transform="translate(463.55,216.6) rotate(-90)" font-size="3.9">P933R</text>
<!-- outer frame -->
<rect x="0" y="0" width="520" height="1.2" fill="#000"/>
<rect x="0" y="0" width="1.1" height="316" fill="#000"/>
<rect x="518.5" y="0" width="1.5" height="316" fill="#000"/>
<rect x="0" y="314" width="520" height="2" fill="#000"/>
</svg>
</body></html>
